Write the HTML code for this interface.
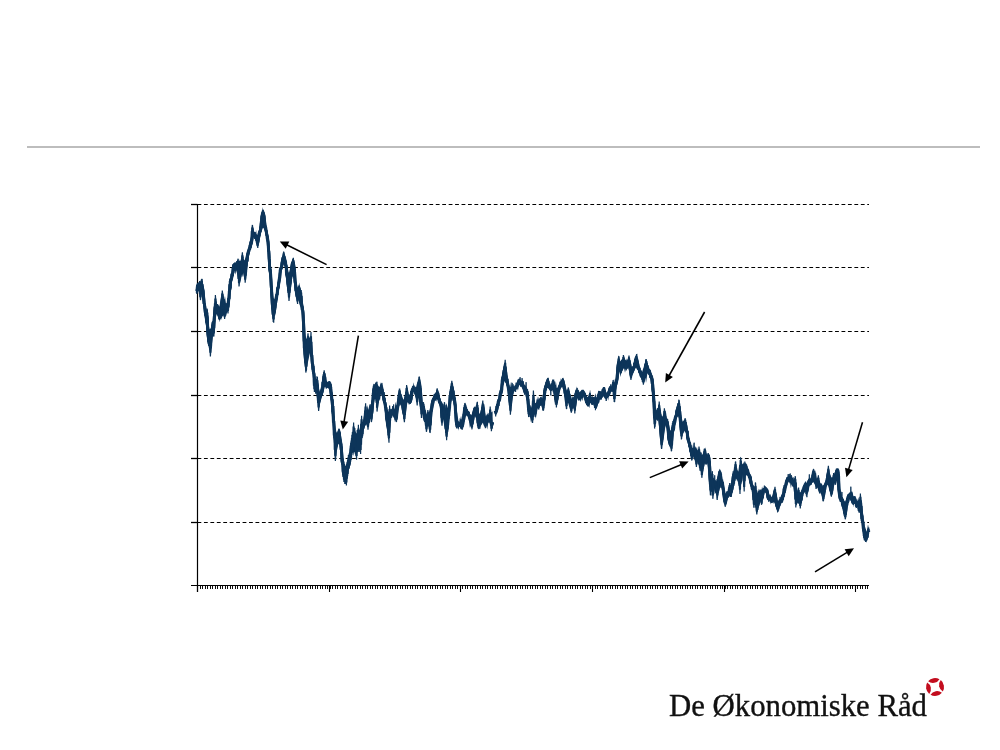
<!DOCTYPE html>
<html lang="da"><head><meta charset="utf-8"><title>De Økonomiske Råd</title>
<style>
html,body{margin:0;padding:0;background:#fff;}
body{width:1000px;height:750px;position:relative;overflow:hidden;font-family:"Liberation Serif",serif;}
.rule{position:absolute;left:27px;top:146px;width:953px;height:2px;background:#bdbdbd;}
.logo{position:absolute;left:669px;top:685.6px;font-size:31px;line-height:40px;color:#111;white-space:nowrap;transform-origin:0 0;transform:scaleX(0.992);-webkit-text-stroke:0.35px #111;}
</style></head><body>
<div class="rule"></div>
<svg width="1000" height="750" viewBox="0 0 1000 750" style="position:absolute;left:0;top:0">
<line x1="197.5" y1="204.5" x2="869.0" y2="204.5" stroke="#000" stroke-width="1.15" stroke-dasharray="3.8 2.64"/>
<line x1="197.5" y1="267.5" x2="869.0" y2="267.5" stroke="#000" stroke-width="1.15" stroke-dasharray="3.8 2.64"/>
<line x1="197.5" y1="331.5" x2="869.0" y2="331.5" stroke="#000" stroke-width="1.15" stroke-dasharray="3.8 2.64"/>
<line x1="197.5" y1="395.5" x2="869.0" y2="395.5" stroke="#000" stroke-width="1.15" stroke-dasharray="3.8 2.64"/>
<line x1="197.5" y1="458.5" x2="869.0" y2="458.5" stroke="#000" stroke-width="1.15" stroke-dasharray="3.8 2.64"/>
<line x1="197.5" y1="522.5" x2="869.0" y2="522.5" stroke="#000" stroke-width="1.15" stroke-dasharray="3.8 2.64"/>
<line x1="197.5" y1="204" x2="197.5" y2="592" stroke="#000" stroke-width="1.2"/>
<line x1="191" y1="585.5" x2="869.0" y2="585.5" stroke="#000" stroke-width="1.05"/>
<line x1="191" y1="204.5" x2="197.5" y2="204.5" stroke="#000" stroke-width="1.3"/>
<line x1="191" y1="267.5" x2="197.5" y2="267.5" stroke="#000" stroke-width="1.3"/>
<line x1="191" y1="331.5" x2="197.5" y2="331.5" stroke="#000" stroke-width="1.3"/>
<line x1="191" y1="395.5" x2="197.5" y2="395.5" stroke="#000" stroke-width="1.3"/>
<line x1="191" y1="458.5" x2="197.5" y2="458.5" stroke="#000" stroke-width="1.3"/>
<line x1="191" y1="522.5" x2="197.5" y2="522.5" stroke="#000" stroke-width="1.3"/>
<path d="M197.5,585.5V589.0M200.5,585.5V589.0M202.5,585.5V589.0M205.5,585.5V589.0M207.5,585.5V589.0M210.5,585.5V589.0M212.5,585.5V589.0M215.5,585.5V589.0M217.5,585.5V589.0M220.5,585.5V589.0M222.5,585.5V589.0M225.5,585.5V589.0M227.5,585.5V589.0M230.5,585.5V589.0M232.5,585.5V589.0M235.5,585.5V589.0M237.5,585.5V589.0M240.5,585.5V589.0M242.5,585.5V589.0M245.5,585.5V589.0M247.5,585.5V589.0M250.5,585.5V589.0M252.5,585.5V589.0M255.5,585.5V589.0M257.5,585.5V589.0M260.5,585.5V589.0M262.5,585.5V589.0M265.5,585.5V589.0M267.5,585.5V589.0M270.5,585.5V589.0M272.5,585.5V589.0M275.5,585.5V589.0M277.5,585.5V589.0M280.5,585.5V589.0M282.5,585.5V589.0M285.5,585.5V589.0M287.5,585.5V589.0M290.5,585.5V589.0M292.5,585.5V589.0M295.5,585.5V589.0M297.5,585.5V589.0M300.5,585.5V589.0M302.5,585.5V589.0M305.5,585.5V589.0M307.5,585.5V589.0M310.5,585.5V589.0M312.5,585.5V589.0M315.5,585.5V589.0M317.5,585.5V589.0M320.5,585.5V589.0M322.5,585.5V589.0M325.5,585.5V589.0M327.5,585.5V589.0M330.5,585.5V589.0M332.5,585.5V589.0M335.5,585.5V589.0M337.5,585.5V589.0M340.5,585.5V589.0M342.5,585.5V589.0M345.5,585.5V589.0M347.5,585.5V589.0M350.5,585.5V589.0M352.5,585.5V589.0M355.5,585.5V589.0M357.5,585.5V589.0M360.5,585.5V589.0M362.5,585.5V589.0M365.5,585.5V589.0M367.5,585.5V589.0M370.5,585.5V589.0M372.5,585.5V589.0M375.5,585.5V589.0M377.5,585.5V589.0M380.5,585.5V589.0M382.5,585.5V589.0M385.5,585.5V589.0M387.5,585.5V589.0M390.5,585.5V589.0M392.5,585.5V589.0M395.5,585.5V589.0M397.5,585.5V589.0M400.5,585.5V589.0M402.5,585.5V589.0M405.5,585.5V589.0M407.5,585.5V589.0M410.5,585.5V589.0M412.5,585.5V589.0M415.5,585.5V589.0M417.5,585.5V589.0M420.5,585.5V589.0M422.5,585.5V589.0M425.5,585.5V589.0M427.5,585.5V589.0M430.5,585.5V589.0M432.5,585.5V589.0M435.5,585.5V589.0M437.5,585.5V589.0M440.5,585.5V589.0M442.5,585.5V589.0M445.5,585.5V589.0M447.5,585.5V589.0M450.5,585.5V589.0M452.5,585.5V589.0M455.5,585.5V589.0M457.5,585.5V589.0M460.5,585.5V589.0M462.5,585.5V589.0M465.5,585.5V589.0M467.5,585.5V589.0M470.5,585.5V589.0M472.5,585.5V589.0M475.5,585.5V589.0M477.5,585.5V589.0M480.5,585.5V589.0M482.5,585.5V589.0M485.5,585.5V589.0M487.5,585.5V589.0M490.5,585.5V589.0M492.5,585.5V589.0M495.5,585.5V589.0M497.5,585.5V589.0M500.5,585.5V589.0M502.5,585.5V589.0M505.5,585.5V589.0M507.5,585.5V589.0M510.5,585.5V589.0M512.5,585.5V589.0M515.5,585.5V589.0M517.5,585.5V589.0M520.5,585.5V589.0M522.5,585.5V589.0M525.5,585.5V589.0M527.5,585.5V589.0M530.5,585.5V589.0M532.5,585.5V589.0M535.5,585.5V589.0M537.5,585.5V589.0M540.5,585.5V589.0M542.5,585.5V589.0M545.5,585.5V589.0M547.5,585.5V589.0M550.5,585.5V589.0M552.5,585.5V589.0M555.5,585.5V589.0M557.5,585.5V589.0M560.5,585.5V589.0M562.5,585.5V589.0M565.5,585.5V589.0M567.5,585.5V589.0M570.5,585.5V589.0M572.5,585.5V589.0M575.5,585.5V589.0M577.5,585.5V589.0M580.5,585.5V589.0M582.5,585.5V589.0M585.5,585.5V589.0M587.5,585.5V589.0M590.5,585.5V589.0M592.5,585.5V589.0M595.5,585.5V589.0M597.5,585.5V589.0M600.5,585.5V589.0M602.5,585.5V589.0M605.5,585.5V589.0M607.5,585.5V589.0M610.5,585.5V589.0M612.5,585.5V589.0M615.5,585.5V589.0M617.5,585.5V589.0M620.5,585.5V589.0M622.5,585.5V589.0M625.5,585.5V589.0M627.5,585.5V589.0M630.5,585.5V589.0M632.5,585.5V589.0M635.5,585.5V589.0M637.5,585.5V589.0M640.5,585.5V589.0M642.5,585.5V589.0M645.5,585.5V589.0M647.5,585.5V589.0M650.5,585.5V589.0M652.5,585.5V589.0M655.5,585.5V589.0M657.5,585.5V589.0M660.5,585.5V589.0M662.5,585.5V589.0M665.5,585.5V589.0M667.5,585.5V589.0M670.5,585.5V589.0M672.5,585.5V589.0M675.5,585.5V589.0M677.5,585.5V589.0M680.5,585.5V589.0M682.5,585.5V589.0M685.5,585.5V589.0M687.5,585.5V589.0M690.5,585.5V589.0M692.5,585.5V589.0M695.5,585.5V589.0M697.5,585.5V589.0M700.5,585.5V589.0M702.5,585.5V589.0M705.5,585.5V589.0M707.5,585.5V589.0M710.5,585.5V589.0M712.5,585.5V589.0M715.5,585.5V589.0M717.5,585.5V589.0M720.5,585.5V589.0M722.5,585.5V589.0M725.5,585.5V589.0M727.5,585.5V589.0M730.5,585.5V589.0M732.5,585.5V589.0M735.5,585.5V589.0M737.5,585.5V589.0M740.5,585.5V589.0M742.5,585.5V589.0M745.5,585.5V589.0M747.5,585.5V589.0M750.5,585.5V589.0M752.5,585.5V589.0M755.5,585.5V589.0M757.5,585.5V589.0M760.5,585.5V589.0M762.5,585.5V589.0M765.5,585.5V589.0M767.5,585.5V589.0M770.5,585.5V589.0M772.5,585.5V589.0M775.5,585.5V589.0M777.5,585.5V589.0M780.5,585.5V589.0M782.5,585.5V589.0M785.5,585.5V589.0M787.5,585.5V589.0M790.5,585.5V589.0M792.5,585.5V589.0M795.5,585.5V589.0M797.5,585.5V589.0M800.5,585.5V589.0M802.5,585.5V589.0M805.5,585.5V589.0M807.5,585.5V589.0M810.5,585.5V589.0M812.5,585.5V589.0M815.5,585.5V589.0M817.5,585.5V589.0M820.5,585.5V589.0M822.5,585.5V589.0M825.5,585.5V589.0M827.5,585.5V589.0M830.5,585.5V589.0M832.5,585.5V589.0M835.5,585.5V589.0M837.5,585.5V589.0M840.5,585.5V589.0M842.5,585.5V589.0M845.5,585.5V589.0M847.5,585.5V589.0M850.5,585.5V589.0M852.5,585.5V589.0M855.5,585.5V589.0M857.5,585.5V589.0M860.5,585.5V589.0M862.5,585.5V589.0M865.5,585.5V589.0M867.5,585.5V589.0" stroke="#000" stroke-width="0.95" fill="none"/>
<line x1="197.5" y1="585.5" x2="197.5" y2="592" stroke="#000" stroke-width="1.1"/>
<line x1="329.5" y1="585.5" x2="329.5" y2="592" stroke="#000" stroke-width="1.1"/>
<line x1="460.5" y1="585.5" x2="460.5" y2="592" stroke="#000" stroke-width="1.1"/>
<line x1="592.5" y1="585.5" x2="592.5" y2="592" stroke="#000" stroke-width="1.1"/>
<line x1="724.5" y1="585.5" x2="724.5" y2="592" stroke="#000" stroke-width="1.1"/>
<line x1="855.5" y1="585.5" x2="855.5" y2="592" stroke="#000" stroke-width="1.1"/>
<path d="M196.8,284.7 L197.0,284.7 L197.2,284.7 L197.4,284.7 L197.6,284.7 L197.8,284.2 L198.0,283.4 L198.2,282.7 L198.4,281.9 L198.6,281.9 L198.8,282.6 L199.0,283.4 L199.2,283.7 L199.4,282.9 L199.6,282.1 L199.8,281.3 L200.0,280.5 L200.2,281.0 L200.4,281.8 L200.6,282.6 L200.8,282.1 L201.0,280.1 L201.2,282.1 L201.4,283.2 L201.6,283.3 L201.8,283.3 L202.0,283.4 L202.2,283.5 L202.4,283.6 L202.6,283.7 L202.8,283.8 L203.0,284.0 L203.2,284.2 L203.4,284.7 L203.6,285.5 L203.8,286.5 L204.0,287.8 L204.2,289.4 L204.4,291.1 L204.6,293.1 L204.8,295.1 L205.0,297.1 L205.2,299.1 L205.4,301.0 L205.6,302.8 L205.8,304.4 L206.0,306.0 L206.2,307.6 L206.4,309.0 L206.6,310.5 L206.8,312.0 L207.0,313.3 L207.2,314.6 L207.4,315.7 L207.6,317.0 L207.8,318.1 L208.0,319.3 L208.2,320.6 L208.4,322.0 L208.6,323.3 L208.8,324.7 L209.0,325.9 L209.2,327.0 L209.4,327.9 L209.6,328.7 L209.8,329.2 L210.0,329.3 L210.2,329.0 L210.4,328.7 L210.6,328.3 L210.8,327.9 L211.0,327.5 L211.2,326.9 L211.4,326.3 L211.6,325.7 L211.8,325.2 L212.0,324.7 L212.2,323.8 L212.4,322.3 L212.6,320.3 L212.8,317.9 L213.0,315.6 L213.2,313.4 L213.4,311.3 L213.6,309.2 L213.8,307.3 L214.0,305.7 L214.2,304.7 L214.4,304.2 L214.6,304.2 L214.8,304.1 L215.0,304.1 L215.2,304.1 L215.4,304.1 L215.6,304.0 L215.8,304.0 L216.0,304.0 L216.2,304.0 L216.4,304.0 L216.6,304.0 L216.8,304.0 L217.0,304.1 L217.2,304.3 L217.4,304.6 L217.6,304.9 L217.8,305.2 L218.0,305.7 L218.2,306.1 L218.4,306.4 L218.6,306.7 L218.8,306.8 L219.0,306.7 L219.2,306.4 L219.4,306.1 L219.6,305.3 L219.8,304.2 L220.0,303.1 L220.2,302.1 L220.4,301.2 L220.6,300.3 L220.8,299.5 L221.0,298.8 L221.2,298.1 L221.4,297.9 L221.6,297.9 L221.8,297.9 L222.0,297.9 L222.2,297.9 L222.4,297.9 L222.6,297.9 L222.8,297.9 L223.0,297.9 L223.2,297.9 L223.4,297.9 L223.6,297.9 L223.8,298.1 L224.0,298.5 L224.2,299.0 L224.4,299.5 L224.6,298.3 L224.8,296.7 L225.0,296.1 L225.2,297.6 L225.4,299.2 L225.6,300.7 L225.8,302.2 L226.0,303.8 L226.2,305.2 L226.4,305.0 L226.6,304.4 L226.8,302.8 L227.0,300.9 L227.2,299.9 L227.4,298.7 L227.6,297.3 L227.8,295.2 L228.0,293.1 L228.2,290.8 L228.4,288.7 L228.6,286.6 L228.8,284.8 L229.0,283.2 L229.2,281.8 L229.4,280.6 L229.6,279.5 L229.8,278.6 L230.0,277.7 L230.2,277.1 L230.4,276.5 L230.6,275.9 L230.8,275.1 L231.0,274.2 L231.2,273.2 L231.4,272.1 L231.6,271.1 L231.8,270.2 L232.0,269.3 L232.2,268.5 L232.4,267.6 L232.6,267.2 L232.8,266.9 L233.0,266.6 L233.2,266.5 L233.4,266.3 L233.6,266.2 L233.8,265.8 L234.0,265.1 L234.2,264.4 L234.4,263.8 L234.6,263.3 L234.8,263.0 L235.0,262.7 L235.2,262.6 L235.4,262.7 L235.6,263.2 L235.8,263.0 L236.0,262.8 L236.2,262.6 L236.4,262.4 L236.6,262.4 L236.8,262.5 L237.0,262.5 L237.2,262.5 L237.4,262.5 L237.6,262.5 L237.8,262.5 L238.0,262.5 L238.2,262.5 L238.4,262.5 L238.6,262.5 L238.8,262.4 L239.0,261.5 L239.2,260.1 L239.4,259.3 L239.6,260.7 L239.8,261.1 L240.0,260.9 L240.2,260.8 L240.4,260.7 L240.6,260.6 L240.8,260.6 L241.0,260.7 L241.2,260.8 L241.4,261.0 L241.6,261.2 L241.8,261.0 L242.0,259.4 L242.2,261.2 L242.4,261.2 L242.6,261.2 L242.8,261.2 L243.0,261.2 L243.2,260.4 L243.4,261.2 L243.6,261.0 L243.8,260.8 L244.0,260.5 L244.2,260.3 L244.4,260.1 L244.6,259.9 L244.8,259.5 L245.0,258.9 L245.2,258.2 L245.4,257.4 L245.6,256.7 L245.8,255.8 L246.0,255.0 L246.2,254.1 L246.4,253.1 L246.6,252.2 L246.8,251.5 L247.0,251.0 L247.2,250.6 L247.4,250.1 L247.6,249.8 L247.8,249.4 L248.0,249.0 L248.2,248.2 L248.4,247.0 L248.6,245.9 L248.8,245.0 L249.0,244.2 L249.2,243.4 L249.4,242.6 L249.6,241.9 L249.8,241.0 L250.0,240.2 L250.2,239.4 L250.4,238.6 L250.6,238.0 L250.8,237.2 L251.0,236.2 L251.2,235.2 L251.4,234.3 L251.6,234.1 L251.8,233.9 L252.0,233.8 L252.2,233.8 L252.4,233.8 L252.6,233.8 L252.8,233.8 L253.0,233.7 L253.2,233.3 L253.4,233.2 L253.6,233.0 L253.8,232.9 L254.0,232.6 L254.2,231.4 L254.4,231.3 L254.6,232.5 L254.8,233.6 L255.0,233.6 L255.2,233.8 L255.4,234.2 L255.6,233.6 L255.8,231.8 L256.0,230.1 L256.2,230.5 L256.4,232.3 L256.6,234.0 L256.8,235.1 L257.0,235.0 L257.2,234.9 L257.4,234.6 L257.6,233.8 L257.8,232.3 L258.0,233.0 L258.2,233.1 L258.4,232.6 L258.6,232.1 L258.8,231.3 L259.0,230.4 L259.2,229.2 L259.4,227.8 L259.6,226.2 L259.8,224.3 L260.0,222.3 L260.2,220.3 L260.4,218.3 L260.6,216.7 L260.8,215.3 L261.0,214.2 L261.2,213.3 L261.4,212.8 L261.6,212.5 L261.8,211.6 L262.0,210.1 L262.2,208.6 L262.4,207.1 L262.6,208.5 L262.8,210.0 L263.0,211.6 L263.2,210.4 L263.4,209.2 L263.6,208.8 L263.8,210.0 L264.0,211.2 L264.2,212.4 L264.4,212.5 L264.6,212.8 L264.8,213.4 L265.0,214.4 L265.2,215.6 L265.4,217.0 L265.6,218.7 L265.8,220.4 L266.0,222.3 L266.2,224.1 L266.4,225.3 L266.6,226.5 L266.8,227.7 L267.0,228.8 L267.2,230.0 L267.4,231.1 L267.6,231.9 L267.8,232.6 L268.0,233.3 L268.2,234.0 L268.4,234.6 L268.6,235.2 L268.8,236.2 L269.0,237.6 L269.2,239.4 L269.4,241.5 L269.6,243.8 L269.8,246.5 L270.0,249.9 L270.2,253.3 L270.4,256.9 L270.6,260.1 L270.8,263.0 L271.0,265.4 L271.2,267.6 L271.4,269.7 L271.6,272.1 L271.8,274.1 L272.0,276.4 L272.2,279.0 L272.4,281.8 L272.6,284.9 L272.8,288.0 L273.0,291.0 L273.2,293.6 L273.4,295.8 L273.6,297.4 L273.8,298.7 L274.0,297.7 L274.2,298.9 L274.4,299.3 L274.6,298.9 L274.8,298.3 L275.0,297.6 L275.2,296.8 L275.4,295.7 L275.6,294.6 L275.8,293.3 L276.0,292.1 L276.2,290.9 L276.4,289.7 L276.6,288.4 L276.8,287.3 L277.0,286.0 L277.2,284.7 L277.4,283.3 L277.6,281.9 L277.8,280.3 L278.0,278.8 L278.2,277.3 L278.4,275.8 L278.6,274.3 L278.8,272.9 L279.0,271.7 L279.2,270.6 L279.4,269.6 L279.6,268.8 L279.8,267.9 L280.0,267.0 L280.2,266.1 L280.4,265.1 L280.6,264.0 L280.8,262.9 L281.0,261.7 L281.2,260.6 L281.4,259.6 L281.6,258.8 L281.8,258.0 L282.0,257.3 L282.2,256.8 L282.4,256.5 L282.6,256.4 L282.8,256.4 L283.0,256.4 L283.2,256.4 L283.4,256.4 L283.6,256.4 L283.8,256.4 L284.0,256.4 L284.2,256.4 L284.4,256.4 L284.6,256.4 L284.8,256.4 L285.0,256.5 L285.2,256.8 L285.4,257.2 L285.6,257.7 L285.8,258.3 L286.0,258.9 L286.2,259.7 L286.4,260.5 L286.6,261.5 L286.8,262.5 L287.0,263.5 L287.2,264.6 L287.4,265.8 L287.6,267.1 L287.8,268.3 L288.0,269.4 L288.2,270.5 L288.4,271.4 L288.6,272.2 L288.8,272.6 L289.0,272.6 L289.2,272.1 L289.4,271.3 L289.6,270.4 L289.8,269.4 L290.0,268.2 L290.2,267.0 L290.4,265.6 L290.6,264.4 L290.8,263.5 L291.0,262.8 L291.2,262.2 L291.4,261.8 L291.6,261.5 L291.8,261.3 L292.0,261.2 L292.2,261.2 L292.4,260.5 L292.6,260.5 L292.8,261.2 L293.0,261.2 L293.2,261.2 L293.4,261.2 L293.6,261.2 L293.8,261.2 L294.0,261.2 L294.2,261.2 L294.4,261.3 L294.6,261.8 L294.8,262.5 L295.0,263.5 L295.2,264.7 L295.4,266.3 L295.6,268.2 L295.8,270.4 L296.0,272.9 L296.2,275.5 L296.4,277.9 L296.6,280.1 L296.8,282.0 L297.0,283.6 L297.2,285.0 L297.4,286.1 L297.6,286.8 L297.8,287.3 L298.0,287.6 L298.2,287.6 L298.4,287.0 L298.6,285.9 L298.8,284.7 L299.0,283.6 L299.2,282.5 L299.4,283.7 L299.6,284.8 L299.8,286.0 L300.0,287.2 L300.2,287.8 L300.4,288.1 L300.6,288.5 L300.8,289.1 L301.0,289.9 L301.2,290.8 L301.4,291.8 L301.6,293.1 L301.8,294.5 L302.0,296.0 L302.2,297.2 L302.4,298.5 L302.6,300.1 L302.8,301.5 L303.0,302.9 L303.2,304.1 L303.4,305.1 L303.6,306.0 L303.8,306.9 L304.0,309.0 L304.2,311.6 L304.4,314.5 L304.6,317.6 L304.8,320.7 L305.0,323.8 L305.2,327.0 L305.4,330.3 L305.6,333.6 L305.8,335.8 L306.0,337.3 L306.2,337.9 L306.4,338.3 L306.6,338.7 L306.8,339.0 L307.0,339.1 L307.2,339.3 L307.4,339.3 L307.6,339.1 L307.8,338.8 L308.0,338.7 L308.2,338.5 L308.4,338.4 L308.6,338.2 L308.8,338.1 L309.0,337.9 L309.2,337.8 L309.4,337.8 L309.6,337.9 L309.8,338.2 L310.0,338.5 L310.2,338.9 L310.4,339.3 L310.6,339.7 L310.8,340.1 L311.0,340.6 L311.2,341.4 L311.4,342.3 L311.6,343.1 L311.8,344.0 L312.0,344.7 L312.2,346.3 L312.4,348.1 L312.6,350.1 L312.8,352.2 L313.0,354.1 L313.2,356.0 L313.4,358.0 L313.6,360.2 L313.8,362.7 L314.0,364.4 L314.2,366.0 L314.4,367.4 L314.6,368.6 L314.8,370.2 L315.0,371.8 L315.2,373.4 L315.4,374.8 L315.6,376.0 L315.8,377.2 L316.0,378.3 L316.2,379.4 L316.4,380.5 L316.6,381.1 L316.8,381.5 L317.0,381.9 L317.2,382.2 L317.4,382.9 L317.6,383.4 L317.8,384.0 L318.0,384.6 L318.2,385.1 L318.4,385.7 L318.6,386.8 L318.8,387.7 L319.0,388.7 L319.2,389.4 L319.4,390.0 L319.6,390.7 L319.8,391.3 L320.0,391.9 L320.2,390.8 L320.4,388.7 L320.6,386.8 L320.8,388.9 L321.0,388.5 L321.2,387.4 L321.4,386.2 L321.6,384.8 L321.8,383.2 L322.0,381.6 L322.2,380.3 L322.4,379.2 L322.6,378.4 L322.8,377.9 L323.0,377.6 L323.2,377.6 L323.4,377.6 L323.6,377.6 L323.8,377.6 L324.0,377.6 L324.2,377.5 L324.4,376.3 L324.6,377.6 L324.8,377.6 L325.0,377.6 L325.2,377.6 L325.4,377.8 L325.6,377.6 L325.8,376.0 L326.0,376.0 L326.2,377.6 L326.4,379.1 L326.6,380.7 L326.8,380.2 L327.0,381.9 L327.2,382.5 L327.4,382.7 L327.6,382.8 L327.8,382.9 L328.0,383.0 L328.2,383.0 L328.4,382.8 L328.6,382.7 L328.8,382.6 L329.0,382.6 L329.2,382.5 L329.4,382.4 L329.6,382.5 L329.8,382.7 L330.0,383.3 L330.2,383.4 L330.4,383.4 L330.6,383.4 L330.8,383.4 L331.0,383.7 L331.2,384.2 L331.4,384.9 L331.6,385.9 L331.8,387.0 L332.0,388.3 L332.2,389.8 L332.4,391.4 L332.6,393.3 L332.8,395.1 L333.0,397.0 L333.2,398.9 L333.4,400.8 L333.6,402.8 L333.8,404.9 L334.0,407.1 L334.2,409.5 L334.4,411.9 L334.6,414.5 L334.8,417.0 L335.0,419.6 L335.2,422.2 L335.4,424.5 L335.6,426.5 L335.8,428.3 L336.0,429.7 L336.2,430.9 L336.4,431.7 L336.6,432.3 L336.8,432.5 L337.0,432.5 L337.2,432.5 L337.4,432.5 L337.6,432.5 L337.8,432.5 L338.0,432.5 L338.2,432.5 L338.4,432.5 L338.6,432.5 L338.8,432.5 L339.0,432.5 L339.2,432.5 L339.4,432.5 L339.6,432.5 L339.8,432.5 L340.0,432.5 L340.2,432.7 L340.4,433.0 L340.6,433.6 L340.8,434.5 L341.0,435.5 L341.2,436.6 L341.4,437.9 L341.6,439.4 L341.8,441.0 L342.0,442.6 L342.2,444.2 L342.4,445.9 L342.6,447.8 L342.8,449.7 L343.0,451.6 L343.2,453.5 L343.4,455.3 L343.6,457.2 L343.8,458.9 L344.0,460.7 L344.2,462.2 L344.4,463.3 L344.6,464.3 L344.8,465.1 L345.0,465.7 L345.2,466.0 L345.4,466.1 L345.6,465.3 L345.8,464.6 L346.0,464.8 L346.2,465.6 L346.4,465.6 L346.6,464.9 L346.8,464.4 L347.0,464.0 L347.2,463.5 L347.4,462.9 L347.6,462.2 L347.8,461.3 L348.0,460.1 L348.2,459.0 L348.4,458.1 L348.6,457.4 L348.8,456.4 L349.0,455.3 L349.2,453.9 L349.4,452.6 L349.6,451.4 L349.8,450.2 L350.0,449.0 L350.2,447.5 L350.4,445.9 L350.6,444.5 L350.8,443.2 L351.0,442.3 L351.2,441.3 L351.4,440.5 L351.6,439.3 L351.8,438.2 L352.0,437.4 L352.2,436.7 L352.4,436.1 L352.6,435.5 L352.8,435.0 L353.0,434.5 L353.2,434.0 L353.4,434.0 L353.6,434.0 L353.8,434.0 L354.0,433.8 L354.2,433.8 L354.4,433.3 L354.6,431.8 L354.8,430.3 L355.0,431.4 L355.2,432.9 L355.4,433.2 L355.6,432.4 L355.8,432.8 L356.0,433.5 L356.2,434.0 L356.4,434.0 L356.6,433.7 L356.8,432.7 L357.0,432.7 L357.2,433.7 L357.4,434.7 L357.6,435.1 L357.8,435.3 L358.0,435.3 L358.2,435.1 L358.4,434.7 L358.6,434.1 L358.8,433.4 L359.0,432.8 L359.2,432.2 L359.4,431.5 L359.6,430.6 L359.8,429.6 L360.0,428.8 L360.2,428.4 L360.4,428.1 L360.6,427.7 L360.8,427.1 L361.0,426.4 L361.2,425.7 L361.4,425.2 L361.6,425.0 L361.8,424.8 L362.0,424.2 L362.2,423.6 L362.4,423.0 L362.6,422.6 L362.8,421.7 L363.0,420.7 L363.2,419.5 L363.4,418.4 L363.6,417.2 L363.8,416.3 L364.0,415.2 L364.2,414.2 L364.4,413.3 L364.6,412.9 L364.8,412.6 L365.0,412.6 L365.2,412.6 L365.4,412.6 L365.6,411.6 L365.8,410.8 L366.0,411.9 L366.2,412.4 L366.4,411.9 L366.6,410.5 L366.8,409.0 L367.0,407.6 L367.2,406.2 L367.4,404.9 L367.6,406.3 L367.8,407.7 L368.0,409.1 L368.2,409.3 L368.4,409.5 L368.6,409.8 L368.8,410.1 L369.0,410.4 L369.2,410.5 L369.4,409.8 L369.6,408.2 L369.8,409.9 L370.0,409.5 L370.2,408.9 L370.4,408.0 L370.6,407.1 L370.8,406.0 L371.0,404.5 L371.2,402.8 L371.4,400.8 L371.6,398.6 L371.8,396.4 L372.0,394.4 L372.2,392.5 L372.4,390.9 L372.6,389.6 L372.8,388.7 L373.0,388.0 L373.2,387.6 L373.4,387.4 L373.6,387.2 L373.8,387.0 L374.0,386.7 L374.2,386.5 L374.4,386.2 L374.6,386.0 L374.8,385.8 L375.0,385.7 L375.2,385.6 L375.4,385.5 L375.6,385.1 L375.8,383.7 L376.0,383.6 L376.2,384.9 L376.4,385.3 L376.6,383.9 L376.8,384.5 L377.0,385.9 L377.2,386.5 L377.4,385.7 L377.6,384.9 L377.8,384.4 L378.0,385.2 L378.2,386.0 L378.4,386.6 L378.6,385.6 L378.8,385.8 L379.0,386.7 L379.2,386.7 L379.4,386.8 L379.6,386.9 L379.8,386.2 L380.0,385.2 L380.2,384.2 L380.4,383.3 L380.6,382.3 L380.8,383.2 L381.0,384.2 L381.2,385.2 L381.4,386.1 L381.6,387.1 L381.8,387.2 L382.0,387.2 L382.2,387.2 L382.4,387.2 L382.6,387.3 L382.8,387.6 L383.0,388.0 L383.2,388.5 L383.4,389.2 L383.6,390.0 L383.8,390.9 L384.0,392.0 L384.2,393.2 L384.4,394.3 L384.6,395.4 L384.8,396.4 L385.0,397.4 L385.2,398.3 L385.4,399.2 L385.6,400.0 L385.8,400.9 L386.0,401.8 L386.2,402.7 L386.4,403.6 L386.6,404.5 L386.8,405.4 L387.0,406.3 L387.2,407.2 L387.4,408.1 L387.6,408.9 L387.8,409.7 L388.0,410.4 L388.2,411.2 L388.4,411.8 L388.6,412.1 L388.8,410.9 L389.0,410.3 L389.2,411.6 L389.4,412.6 L389.6,412.3 L389.8,411.9 L390.0,411.4 L390.2,411.0 L390.4,410.6 L390.6,410.3 L390.8,410.1 L391.0,409.6 L391.2,409.3 L391.4,409.1 L391.6,409.0 L391.8,409.6 L392.0,410.0 L392.2,410.1 L392.4,409.3 L392.6,408.0 L392.8,406.8 L393.0,405.6 L393.2,404.4 L393.4,403.7 L393.6,404.9 L393.8,406.1 L394.0,407.3 L394.2,408.5 L394.4,409.7 L394.6,409.2 L394.8,407.7 L395.0,406.2 L395.2,404.7 L395.4,403.2 L395.6,401.7 L395.8,402.8 L396.0,404.3 L396.2,405.8 L396.4,405.4 L396.6,403.9 L396.8,402.2 L397.0,400.6 L397.2,399.1 L397.4,397.7 L397.6,396.4 L397.8,395.3 L398.0,394.5 L398.2,394.0 L398.4,393.7 L398.6,393.7 L398.8,393.7 L399.0,393.7 L399.2,393.7 L399.4,393.7 L399.6,393.7 L399.8,393.7 L400.0,393.7 L400.2,393.7 L400.4,393.7 L400.6,393.7 L400.8,393.8 L401.0,393.9 L401.2,394.1 L401.4,394.4 L401.6,394.8 L401.8,395.3 L402.0,395.9 L402.2,396.5 L402.4,397.2 L402.6,397.9 L402.8,398.4 L403.0,398.9 L403.2,399.3 L403.4,399.6 L403.6,399.5 L403.8,399.0 L404.0,398.2 L404.2,397.4 L404.4,396.6 L404.6,395.8 L404.8,395.0 L405.0,394.2 L405.2,393.4 L405.4,392.9 L405.6,392.8 L405.8,392.8 L406.0,392.8 L406.2,392.8 L406.4,392.8 L406.6,392.8 L406.8,392.8 L407.0,392.8 L407.2,392.8 L407.4,392.8 L407.6,392.8 L407.8,392.8 L408.0,393.1 L408.2,393.4 L408.4,393.8 L408.6,394.1 L408.8,394.4 L409.0,394.8 L409.2,394.6 L409.4,394.1 L409.6,395.0 L409.8,394.3 L410.0,393.6 L410.2,392.2 L410.4,390.6 L410.6,390.9 L410.8,390.8 L411.0,390.1 L411.2,389.6 L411.4,389.4 L411.6,389.3 L411.8,389.2 L412.0,389.1 L412.2,389.0 L412.4,388.9 L412.6,388.8 L412.8,387.5 L413.0,386.1 L413.2,384.7 L413.4,383.3 L413.6,382.2 L413.8,383.6 L414.0,385.0 L414.2,386.5 L414.4,387.9 L414.6,388.7 L414.8,388.7 L415.0,388.6 L415.2,388.6 L415.4,388.4 L415.6,387.1 L415.8,387.9 L416.0,387.4 L416.2,386.7 L416.4,385.9 L416.6,385.1 L416.8,383.9 L417.0,383.6 L417.2,382.9 L417.4,382.2 L417.6,381.8 L417.8,381.5 L418.0,381.4 L418.2,380.7 L418.4,381.4 L418.6,381.4 L418.8,381.4 L419.0,381.4 L419.2,381.4 L419.4,381.4 L419.6,381.4 L419.8,381.4 L420.0,381.4 L420.2,381.4 L420.4,381.4 L420.6,381.7 L420.8,382.2 L421.0,383.0 L421.2,384.1 L421.4,385.9 L421.6,388.3 L421.8,390.8 L422.0,393.3 L422.2,396.0 L422.4,398.4 L422.6,400.6 L422.8,402.7 L423.0,404.5 L423.2,405.4 L423.4,406.0 L423.6,406.3 L423.8,406.6 L424.0,406.8 L424.2,407.1 L424.4,407.4 L424.6,407.7 L424.8,408.0 L425.0,407.3 L425.2,408.7 L425.4,409.8 L425.6,410.5 L425.8,409.4 L426.0,410.8 L426.2,412.8 L426.4,413.3 L426.6,413.9 L426.8,414.3 L427.0,414.6 L427.2,414.8 L427.4,415.0 L427.6,415.1 L427.8,415.0 L428.0,414.8 L428.2,414.5 L428.4,414.3 L428.6,413.9 L428.8,413.3 L429.0,412.6 L429.2,411.8 L429.4,410.8 L429.6,409.8 L429.8,408.8 L430.0,407.7 L430.2,406.5 L430.4,405.3 L430.6,404.1 L430.8,403.0 L431.0,401.9 L431.2,401.1 L431.4,400.3 L431.6,399.7 L431.8,399.2 L432.0,398.8 L432.2,398.6 L432.4,398.5 L432.6,398.4 L432.8,397.9 L433.0,396.8 L433.2,395.8 L433.4,395.0 L433.6,394.3 L433.8,394.2 L434.0,394.1 L434.2,394.0 L434.4,393.8 L434.6,393.6 L434.8,393.5 L435.0,393.6 L435.2,393.7 L435.4,392.5 L435.6,392.8 L435.8,392.9 L436.0,392.8 L436.2,392.8 L436.4,392.8 L436.6,392.8 L436.8,392.8 L437.0,392.8 L437.2,392.8 L437.4,392.8 L437.6,392.8 L437.8,392.8 L438.0,392.7 L438.2,392.8 L438.4,392.9 L438.6,393.1 L438.8,393.4 L439.0,393.0 L439.2,392.6 L439.4,393.2 L439.6,394.5 L439.8,395.8 L440.0,397.1 L440.2,398.3 L440.4,399.5 L440.6,400.1 L440.8,400.7 L441.0,401.1 L441.2,401.4 L441.4,401.6 L441.6,401.8 L441.8,402.0 L442.0,402.2 L442.2,402.4 L442.4,402.7 L442.6,403.1 L442.8,403.7 L443.0,404.2 L443.2,404.9 L443.4,405.6 L443.6,406.2 L443.8,406.8 L444.0,407.4 L444.2,407.9 L444.4,408.2 L444.6,408.3 L444.8,408.5 L445.0,408.5 L445.2,408.5 L445.4,407.6 L445.6,405.9 L445.8,404.2 L446.0,405.0 L446.2,404.1 L446.4,403.2 L446.6,403.7 L446.8,404.6 L447.0,405.5 L447.2,406.4 L447.4,407.3 L447.6,408.2 L447.8,407.2 L448.0,405.8 L448.2,404.2 L448.4,402.3 L448.6,400.4 L448.8,398.4 L449.0,396.3 L449.2,394.3 L449.4,392.5 L449.6,390.9 L449.8,389.5 L450.0,388.4 L450.2,387.5 L450.4,386.9 L450.6,386.5 L450.8,386.4 L451.0,386.4 L451.2,386.4 L451.4,386.4 L451.6,386.4 L451.8,386.4 L452.0,386.4 L452.2,386.4 L452.4,386.4 L452.6,386.4 L452.8,386.4 L453.0,386.4 L453.2,386.6 L453.4,387.0 L453.6,387.7 L453.8,388.5 L454.0,389.5 L454.2,390.7 L454.4,391.8 L454.6,393.0 L454.8,394.3 L455.0,395.4 L455.2,396.4 L455.4,397.3 L455.6,397.9 L455.8,398.5 L456.0,399.4 L456.2,400.8 L456.4,402.7 L456.6,405.0 L456.8,407.6 L457.0,410.2 L457.2,412.8 L457.4,414.4 L457.6,415.7 L457.8,416.7 L458.0,418.1 L458.2,419.5 L458.4,420.7 L458.6,421.6 L458.8,422.3 L459.0,422.8 L459.2,422.1 L459.4,420.8 L459.6,419.4 L459.8,418.1 L460.0,418.1 L460.2,419.5 L460.4,419.1 L460.6,418.0 L460.8,416.9 L461.0,415.8 L461.2,416.4 L461.4,417.5 L461.6,418.6 L461.8,419.7 L462.0,419.1 L462.2,417.8 L462.4,416.5 L462.6,415.4 L462.8,413.7 L463.0,412.0 L463.2,410.3 L463.4,409.0 L463.6,408.1 L463.8,407.5 L464.0,407.3 L464.2,407.3 L464.4,407.3 L464.6,407.3 L464.8,407.3 L465.0,407.3 L465.2,407.3 L465.4,407.3 L465.6,407.3 L465.8,407.3 L466.0,407.3 L466.2,407.3 L466.4,406.5 L466.6,405.2 L466.8,405.7 L467.0,406.9 L467.2,408.2 L467.4,409.4 L467.6,409.6 L467.8,409.8 L468.0,410.1 L468.2,410.5 L468.4,410.9 L468.6,411.3 L468.8,411.9 L469.0,412.6 L469.2,413.4 L469.4,414.3 L469.6,415.1 L469.8,415.3 L470.0,415.4 L470.2,415.4 L470.4,415.4 L470.6,415.4 L470.8,415.4 L471.0,415.3 L471.2,415.2 L471.4,414.9 L471.6,414.5 L471.8,414.0 L472.0,413.5 L472.2,412.9 L472.4,412.4 L472.6,411.9 L472.8,411.4 L473.0,411.0 L473.2,410.6 L473.4,410.4 L473.6,410.1 L473.8,410.0 L474.0,409.8 L474.2,409.5 L474.4,409.2 L474.6,408.9 L474.8,408.6 L475.0,408.3 L475.2,408.1 L475.4,407.9 L475.6,407.6 L475.8,407.7 L476.0,407.7 L476.2,407.7 L476.4,407.7 L476.6,407.8 L476.8,408.1 L477.0,408.4 L477.2,408.7 L477.4,409.0 L477.6,409.4 L477.8,409.7 L478.0,410.0 L478.2,410.3 L478.4,411.0 L478.6,411.4 L478.8,412.1 L479.0,412.6 L479.2,413.0 L479.4,413.5 L479.6,413.8 L479.8,413.7 L480.0,413.3 L480.2,412.6 L480.4,411.8 L480.6,411.0 L480.8,410.2 L481.0,409.4 L481.2,408.6 L481.4,407.5 L481.6,406.1 L481.8,406.5 L482.0,407.8 L482.2,407.8 L482.4,407.8 L482.6,407.8 L482.8,407.6 L483.0,407.0 L483.2,407.8 L483.4,407.8 L483.6,407.8 L483.8,407.8 L484.0,406.0 L484.2,404.1 L484.4,404.1 L484.6,406.0 L484.8,407.9 L485.0,409.8 L485.2,411.7 L485.4,413.6 L485.6,414.9 L485.8,415.9 L486.0,416.6 L486.2,416.9 L486.4,417.1 L486.6,417.2 L486.8,417.1 L487.0,417.0 L487.2,416.7 L487.4,415.7 L487.6,413.9 L487.8,412.0 L488.0,413.6 L488.2,415.2 L488.4,414.9 L488.6,414.9 L488.8,414.8 L489.0,414.8 L489.2,414.8 L489.4,414.8 L489.6,414.8 L489.8,414.6 L490.0,414.3 L490.2,412.9 L490.4,414.1 L490.6,413.7 L490.8,413.3 L491.0,412.9 L491.2,412.5 L491.4,412.0 L491.6,411.8 L491.8,411.9 L492.0,411.8 L492.2,411.5 L492.4,411.6 L492.6,411.7 L492.6,427.0 L492.4,427.1 L492.2,426.9 L492.0,426.9 L491.8,426.9 L491.6,426.7 L491.4,426.5 L491.2,426.2 L491.0,426.0 L490.8,425.9 L490.6,425.7 L490.4,425.3 L490.2,424.8 L490.0,424.2 L489.8,423.7 L489.6,423.1 L489.4,423.0 L489.2,421.9 L489.0,421.4 L488.8,421.0 L488.6,421.4 L488.4,422.6 L488.2,423.7 L488.0,424.9 L487.8,426.1 L487.6,427.2 L487.4,428.4 L487.2,429.6 L487.0,428.6 L486.8,427.4 L486.6,426.2 L486.4,425.1 L486.2,423.9 L486.0,423.6 L485.8,423.6 L485.6,423.6 L485.4,423.6 L485.2,423.6 L485.0,423.6 L484.8,423.6 L484.6,423.6 L484.4,423.6 L484.2,423.6 L484.0,423.7 L483.8,424.9 L483.6,426.1 L483.4,425.0 L483.2,423.8 L483.0,422.7 L482.8,422.7 L482.6,423.5 L482.4,423.9 L482.2,423.1 L482.0,423.4 L481.8,423.7 L481.6,424.0 L481.4,424.4 L481.2,424.8 L481.0,424.9 L480.8,425.1 L480.6,425.2 L480.4,425.3 L480.2,425.4 L480.0,425.5 L479.8,425.5 L479.6,425.8 L479.4,427.4 L479.2,427.0 L479.0,425.5 L478.8,425.5 L478.6,425.5 L478.4,425.5 L478.2,425.4 L478.0,425.3 L477.8,425.2 L477.6,425.1 L477.4,425.0 L477.2,424.4 L477.0,423.5 L476.8,422.3 L476.6,421.2 L476.4,420.0 L476.2,418.9 L476.0,417.8 L475.8,416.7 L475.6,415.7 L475.4,415.5 L475.2,415.5 L475.0,416.0 L474.8,416.8 L474.6,417.9 L474.4,419.0 L474.2,420.1 L474.0,421.2 L473.8,422.2 L473.6,423.0 L473.4,423.8 L473.2,424.3 L473.0,424.6 L472.8,424.6 L472.6,424.6 L472.4,424.6 L472.2,424.6 L472.0,424.6 L471.8,424.6 L471.6,424.6 L471.4,424.8 L471.2,425.9 L471.0,427.1 L470.8,427.4 L470.6,426.3 L470.4,425.2 L470.2,426.5 L470.0,428.0 L469.8,427.3 L469.6,425.8 L469.4,424.3 L469.2,422.8 L469.0,421.2 L468.8,420.7 L468.6,420.1 L468.4,419.5 L468.2,418.8 L468.0,418.0 L467.8,417.2 L467.6,416.5 L467.4,415.8 L467.2,415.6 L467.0,415.6 L466.8,415.6 L466.6,415.6 L466.4,415.6 L466.2,415.6 L466.0,416.0 L465.8,416.8 L465.6,417.6 L465.4,418.5 L465.2,419.5 L465.0,420.6 L464.8,421.8 L464.6,423.0 L464.4,424.2 L464.2,425.1 L464.0,425.7 L463.8,426.1 L463.6,426.5 L463.4,426.7 L463.2,426.9 L463.0,427.0 L462.8,427.0 L462.6,427.0 L462.4,427.7 L462.2,428.1 L462.0,428.3 L461.8,428.4 L461.6,428.3 L461.4,428.0 L461.2,427.5 L461.0,427.2 L460.8,427.0 L460.6,427.0 L460.4,426.9 L460.2,426.9 L460.0,426.8 L459.8,426.8 L459.6,426.8 L459.4,426.8 L459.2,427.1 L459.0,429.0 L458.8,430.8 L458.6,429.6 L458.4,428.3 L458.2,428.7 L458.0,429.0 L457.8,428.7 L457.6,427.7 L457.4,426.4 L457.2,425.5 L457.0,425.5 L456.8,425.4 L456.6,425.3 L456.4,425.2 L456.2,425.1 L456.0,425.0 L455.8,424.9 L455.6,424.6 L455.4,423.8 L455.2,422.6 L455.0,420.8 L454.8,418.6 L454.6,416.0 L454.4,413.3 L454.2,410.5 L454.0,407.6 L453.8,405.0 L453.6,402.7 L453.4,400.9 L453.2,399.6 L453.0,398.8 L452.8,398.6 L452.6,399.8 L452.4,400.9 L452.2,399.7 L452.0,398.9 L451.8,399.6 L451.6,400.5 L451.4,401.6 L451.2,402.9 L451.0,404.4 L450.8,406.0 L450.6,407.7 L450.4,409.4 L450.2,411.0 L450.0,412.8 L449.8,414.8 L449.6,416.9 L449.4,419.2 L449.2,421.4 L449.0,423.4 L448.8,425.2 L448.6,426.8 L448.4,428.3 L448.2,429.3 L448.0,430.1 L447.8,430.4 L447.6,430.4 L447.4,430.4 L447.2,430.4 L447.0,430.4 L446.8,430.4 L446.6,430.4 L446.4,430.4 L446.2,430.4 L446.0,430.4 L445.8,430.4 L445.6,430.4 L445.4,430.4 L445.2,430.0 L445.0,429.4 L444.8,428.7 L444.6,427.9 L444.4,426.9 L444.2,425.7 L444.0,424.4 L443.8,423.1 L443.6,421.6 L443.4,420.6 L443.2,419.6 L443.0,418.9 L442.8,418.2 L442.6,417.7 L442.4,417.4 L442.2,417.6 L442.0,417.1 L441.8,417.0 L441.6,417.0 L441.4,417.0 L441.2,417.0 L441.0,416.3 L440.8,414.7 L440.6,413.2 L440.4,411.6 L440.2,410.3 L440.0,409.1 L439.8,407.8 L439.6,406.5 L439.4,405.2 L439.2,404.1 L439.0,402.9 L438.8,401.8 L438.6,401.6 L438.4,401.4 L438.2,401.1 L438.0,400.7 L437.8,400.3 L437.6,400.0 L437.4,399.7 L437.2,399.4 L437.0,399.1 L436.8,399.2 L436.6,400.4 L436.4,401.6 L436.2,401.4 L436.0,400.2 L435.8,399.1 L435.6,398.6 L435.4,398.6 L435.2,398.8 L435.0,399.5 L434.8,400.2 L434.6,401.0 L434.4,401.8 L434.2,402.9 L434.0,404.0 L433.8,405.2 L433.6,406.3 L433.4,407.0 L433.2,407.8 L433.0,408.8 L432.8,409.9 L432.6,411.8 L432.4,413.9 L432.2,416.0 L432.0,417.9 L431.8,419.6 L431.6,421.2 L431.4,422.4 L431.2,423.2 L431.0,423.5 L430.8,423.5 L430.6,423.5 L430.4,423.5 L430.2,423.5 L430.0,423.6 L429.8,423.8 L429.6,424.1 L429.4,424.6 L429.2,425.1 L429.0,425.6 L428.8,426.1 L428.6,426.6 L428.4,426.9 L428.2,427.4 L428.0,427.0 L427.8,426.7 L427.6,426.1 L427.4,425.5 L427.2,424.9 L427.0,424.3 L426.8,423.6 L426.6,423.2 L426.4,422.9 L426.2,422.6 L426.0,422.5 L425.8,422.5 L425.6,422.5 L425.4,422.5 L425.2,422.4 L425.0,422.3 L424.8,422.1 L424.6,421.6 L424.4,421.2 L424.2,420.7 L424.0,420.1 L423.8,419.5 L423.6,418.9 L423.4,418.1 L423.2,417.4 L423.0,416.5 L422.8,415.7 L422.6,414.8 L422.4,414.0 L422.2,413.0 L422.0,412.2 L421.8,411.4 L421.6,410.7 L421.4,410.1 L421.2,409.7 L421.0,409.4 L420.8,409.3 L420.6,409.2 L420.4,408.8 L420.2,408.2 L420.0,407.5 L419.8,406.6 L419.6,405.7 L419.4,404.5 L419.2,403.2 L419.0,401.9 L418.8,400.5 L418.6,399.5 L418.4,398.7 L418.2,398.0 L418.0,397.5 L417.8,397.1 L417.6,398.6 L417.4,398.3 L417.2,396.9 L417.0,396.8 L416.8,396.8 L416.6,396.8 L416.4,396.8 L416.2,396.8 L416.0,396.8 L415.8,396.8 L415.6,396.5 L415.4,396.1 L415.2,395.6 L415.0,395.0 L414.8,394.4 L414.6,393.7 L414.4,393.7 L414.2,392.4 L414.0,391.8 L413.8,391.8 L413.6,392.3 L413.4,393.3 L413.2,394.4 L413.0,395.7 L412.8,396.7 L412.6,397.4 L412.4,398.7 L412.2,399.9 L412.0,400.9 L411.8,401.6 L411.6,402.1 L411.4,402.3 L411.2,402.3 L411.0,402.3 L410.8,402.3 L410.6,402.3 L410.4,402.3 L410.2,402.3 L410.0,402.3 L409.8,402.3 L409.6,402.3 L409.4,402.3 L409.2,402.3 L409.0,402.3 L408.8,402.2 L408.6,402.2 L408.4,402.5 L408.2,403.4 L408.0,402.1 L407.8,402.3 L407.6,402.2 L407.4,402.7 L407.2,403.6 L407.0,405.0 L406.8,406.4 L406.6,407.8 L406.4,409.2 L406.2,410.6 L406.0,412.0 L405.8,413.2 L405.6,414.1 L405.4,414.5 L405.2,414.5 L405.0,414.5 L404.8,414.5 L404.6,415.9 L404.4,417.7 L404.2,419.5 L404.0,417.8 L403.8,416.0 L403.6,414.5 L403.4,414.5 L403.2,414.5 L403.0,414.5 L402.8,414.2 L402.6,413.7 L402.4,413.0 L402.2,412.1 L402.0,411.1 L401.8,409.8 L401.6,408.4 L401.4,407.0 L401.2,405.7 L401.0,404.6 L400.8,404.6 L400.6,405.3 L400.4,406.1 L400.2,405.5 L400.0,404.7 L399.8,404.0 L399.6,404.4 L399.4,405.2 L399.2,406.0 L399.0,407.2 L398.8,408.7 L398.6,410.4 L398.4,411.8 L398.2,413.0 L398.0,414.2 L397.8,415.3 L397.6,416.3 L397.4,417.2 L397.2,417.8 L397.0,418.1 L396.8,418.1 L396.6,418.1 L396.4,418.1 L396.2,418.1 L396.0,418.1 L395.8,418.1 L395.6,419.3 L395.4,420.5 L395.2,421.8 L395.0,422.5 L394.8,421.2 L394.6,420.0 L394.4,418.8 L394.2,417.7 L394.0,417.5 L393.8,417.2 L393.6,416.9 L393.4,416.6 L393.2,416.3 L393.0,415.9 L392.8,415.5 L392.6,415.3 L392.4,415.3 L392.2,417.1 L392.0,416.1 L391.8,415.7 L391.6,416.5 L391.4,418.1 L391.2,419.8 L391.0,421.4 L390.8,422.7 L390.6,424.4 L390.4,426.1 L390.2,427.6 L390.0,429.0 L389.8,430.4 L389.6,430.4 L389.4,430.4 L389.2,430.4 L389.0,430.4 L388.8,430.4 L388.6,430.4 L388.4,430.4 L388.2,430.4 L388.0,430.4 L387.8,430.4 L387.6,430.4 L387.4,430.4 L387.2,430.1 L387.0,429.5 L386.8,428.6 L386.6,427.4 L386.4,426.1 L386.2,424.6 L386.0,422.9 L385.8,421.0 L385.6,418.9 L385.4,417.0 L385.2,415.1 L385.0,413.4 L384.8,411.9 L384.6,410.4 L384.4,408.9 L384.2,407.4 L384.0,406.1 L383.8,404.9 L383.6,403.8 L383.4,402.7 L383.2,401.8 L383.0,400.9 L382.8,400.0 L382.6,399.2 L382.4,398.3 L382.2,397.5 L382.0,396.7 L381.8,396.0 L381.6,395.3 L381.4,396.4 L381.2,394.8 L381.0,394.0 L380.8,394.3 L380.6,395.8 L380.4,397.4 L380.2,399.0 L380.0,400.6 L379.8,400.3 L379.6,398.7 L379.4,399.5 L379.2,401.2 L379.0,399.9 L378.8,400.1 L378.6,400.1 L378.4,400.1 L378.2,400.1 L378.0,400.1 L377.8,400.1 L377.6,400.1 L377.4,400.1 L377.2,400.1 L377.0,400.1 L376.8,400.1 L376.6,400.1 L376.4,399.7 L376.2,399.3 L376.0,398.8 L375.8,399.1 L375.6,400.2 L375.4,401.4 L375.2,401.3 L375.0,400.1 L374.8,398.9 L374.6,399.6 L374.4,401.3 L374.2,403.3 L374.0,405.4 L373.8,407.4 L373.6,409.5 L373.4,411.2 L373.2,412.7 L373.0,413.7 L372.8,414.4 L372.6,414.8 L372.4,414.8 L372.2,414.8 L372.0,414.9 L371.8,415.2 L371.6,415.6 L371.4,415.9 L371.2,416.5 L371.0,417.1 L370.8,418.0 L370.6,419.1 L370.4,420.0 L370.2,420.6 L370.0,421.2 L369.8,421.8 L369.6,422.4 L369.4,422.8 L369.2,423.1 L369.0,423.3 L368.8,424.2 L368.6,425.6 L368.4,426.8 L368.2,425.4 L368.0,424.0 L367.8,423.3 L367.6,423.3 L367.4,423.3 L367.2,423.4 L367.0,423.5 L366.8,424.4 L366.6,425.7 L366.4,425.8 L366.2,424.7 L366.0,424.9 L365.8,425.0 L365.6,425.4 L365.4,425.8 L365.2,426.1 L365.0,426.3 L364.8,426.4 L364.6,426.5 L364.4,426.8 L364.2,427.4 L364.0,428.0 L363.8,428.5 L363.6,429.2 L363.4,430.4 L363.2,431.5 L363.0,432.7 L362.8,433.8 L362.6,435.0 L362.4,436.3 L362.2,437.9 L362.0,439.4 L361.8,440.7 L361.6,441.5 L361.4,442.2 L361.2,443.0 L361.0,443.8 L360.8,444.5 L360.6,444.8 L360.4,444.9 L360.2,445.0 L360.0,445.2 L359.8,445.5 L359.6,446.1 L359.4,446.9 L359.2,447.7 L359.0,448.6 L358.8,449.3 L358.6,450.1 L358.4,450.8 L358.2,451.5 L358.0,451.9 L357.8,453.1 L357.6,452.6 L357.4,452.2 L357.2,452.0 L357.0,452.0 L356.8,452.0 L356.6,452.0 L356.4,452.0 L356.2,452.0 L356.0,452.0 L355.8,452.0 L355.6,452.0 L355.4,452.0 L355.2,452.0 L355.0,452.2 L354.8,452.2 L354.6,452.0 L354.4,452.3 L354.2,453.5 L354.0,454.7 L353.8,455.9 L353.6,455.3 L353.4,454.1 L353.2,452.9 L353.0,451.7 L352.8,450.5 L352.6,451.1 L352.4,452.1 L352.2,453.4 L352.0,454.9 L351.8,456.2 L351.6,457.4 L351.4,458.5 L351.2,459.4 L351.0,460.5 L350.8,461.6 L350.6,462.6 L350.4,463.5 L350.2,464.2 L350.0,464.9 L349.8,465.6 L349.6,466.4 L349.4,467.2 L349.2,467.8 L349.0,468.7 L348.8,469.9 L348.6,471.0 L348.4,472.0 L348.2,473.0 L348.0,474.0 L347.8,474.9 L347.6,475.7 L347.4,476.5 L347.2,477.0 L347.0,477.6 L346.8,477.2 L346.6,477.3 L346.4,477.4 L346.2,477.5 L346.0,477.6 L345.8,477.7 L345.6,477.8 L345.4,477.7 L345.2,477.6 L345.0,477.5 L344.8,477.4 L344.6,477.2 L344.4,476.9 L344.2,476.6 L344.0,476.3 L343.8,475.9 L343.6,475.4 L343.4,475.0 L343.2,474.4 L343.0,473.6 L342.8,472.6 L342.6,471.7 L342.4,470.4 L342.2,469.0 L342.0,467.6 L341.8,466.2 L341.6,464.5 L341.4,462.8 L341.2,461.1 L341.0,459.2 L340.8,457.2 L340.6,455.3 L340.4,453.5 L340.2,451.6 L340.0,449.7 L339.8,448.0 L339.6,446.4 L339.4,445.2 L339.2,444.4 L339.0,443.8 L338.8,445.0 L338.6,443.8 L338.4,443.9 L338.2,444.5 L338.0,445.0 L337.8,445.6 L337.6,446.2 L337.4,447.4 L337.2,449.0 L337.0,450.5 L336.8,449.9 L336.6,448.4 L336.4,448.0 L336.2,448.0 L336.0,448.0 L335.8,448.0 L335.6,448.0 L335.4,448.0 L335.2,448.0 L335.0,448.0 L334.8,448.0 L334.6,448.0 L334.4,446.9 L334.2,445.5 L334.0,443.8 L333.8,441.8 L333.6,439.6 L333.4,437.0 L333.2,434.1 L333.0,431.0 L332.8,427.5 L332.6,424.8 L332.4,422.2 L332.2,419.6 L332.0,417.0 L331.8,414.5 L331.6,411.9 L331.4,409.5 L331.2,407.1 L331.0,404.9 L330.8,402.8 L330.6,400.8 L330.4,398.9 L330.2,397.0 L330.0,395.3 L329.8,394.2 L329.6,393.0 L329.4,391.9 L329.2,390.7 L329.0,389.7 L328.8,388.8 L328.6,388.1 L328.4,388.5 L328.2,388.9 L328.0,387.7 L327.8,386.8 L327.6,387.6 L327.4,388.1 L327.2,386.7 L327.0,386.6 L326.8,386.3 L326.6,386.2 L326.4,386.2 L326.2,386.2 L326.0,386.3 L325.8,386.3 L325.6,386.4 L325.4,386.5 L325.2,386.7 L325.0,386.8 L324.8,387.1 L324.6,387.8 L324.4,388.5 L324.2,389.3 L324.0,390.1 L323.8,390.8 L323.6,391.5 L323.4,392.2 L323.2,393.0 L323.0,393.6 L322.8,394.0 L322.6,394.2 L322.4,394.5 L322.2,394.9 L322.0,395.4 L321.8,396.1 L321.6,397.0 L321.4,398.2 L321.2,399.4 L321.0,400.5 L320.8,401.0 L320.6,400.9 L320.4,401.5 L320.2,402.0 L320.0,402.2 L319.8,402.2 L319.6,402.3 L319.4,402.2 L319.2,402.2 L319.0,402.2 L318.8,402.2 L318.6,402.2 L318.4,402.2 L318.2,402.2 L318.0,402.2 L317.8,402.2 L317.6,401.8 L317.4,400.7 L317.2,399.6 L317.0,398.5 L316.8,397.1 L316.6,395.7 L316.4,394.3 L316.2,392.6 L316.0,390.9 L315.8,389.7 L315.6,389.0 L315.4,388.4 L315.2,387.9 L315.0,387.6 L314.8,387.2 L314.6,386.6 L314.4,386.2 L314.2,385.6 L314.0,385.0 L313.8,384.3 L313.6,383.6 L313.4,381.9 L313.2,380.3 L313.0,378.6 L312.8,377.2 L312.6,375.7 L312.4,374.2 L312.2,372.5 L312.0,370.7 L311.8,368.6 L311.6,367.4 L311.4,366.0 L311.2,364.4 L311.0,362.7 L310.8,360.7 L310.6,358.5 L310.4,356.5 L310.2,354.6 L310.0,352.9 L309.8,353.4 L309.6,354.4 L309.4,355.3 L309.2,356.3 L309.0,357.2 L308.8,358.2 L308.6,359.2 L308.4,360.1 L308.2,361.1 L308.0,362.0 L307.8,363.0 L307.6,363.9 L307.4,364.9 L307.2,365.9 L307.0,366.8 L306.8,366.9 L306.6,366.0 L306.4,365.0 L306.2,364.1 L306.0,363.6 L305.8,363.6 L305.6,363.6 L305.4,363.6 L305.2,363.6 L305.0,363.6 L304.8,363.6 L304.6,363.3 L304.4,362.7 L304.2,361.6 L304.0,360.0 L303.8,358.0 L303.6,355.5 L303.4,352.6 L303.2,349.7 L303.0,348.8 L302.8,347.8 L302.6,335.2 L302.4,330.2 L302.2,325.6 L302.0,321.6 L301.8,317.9 L301.6,314.5 L301.4,311.6 L301.2,309.2 L301.0,307.3 L300.8,306.7 L300.6,306.0 L300.4,305.2 L300.2,304.4 L300.0,303.5 L299.8,302.7 L299.6,301.9 L299.4,301.4 L299.2,301.1 L299.0,300.8 L298.8,300.6 L298.6,300.3 L298.4,300.0 L298.2,299.7 L298.0,299.3 L297.8,299.0 L297.6,298.7 L297.4,298.4 L297.2,298.0 L297.0,297.8 L296.8,297.6 L296.6,297.6 L296.4,297.6 L296.2,297.6 L296.0,297.4 L295.8,297.0 L295.6,296.4 L295.4,295.5 L295.2,294.4 L295.0,293.1 L294.8,291.5 L294.6,289.7 L294.4,287.5 L294.2,285.3 L294.0,283.1 L293.8,281.2 L293.6,279.6 L293.4,278.1 L293.2,278.0 L293.0,276.9 L292.8,275.9 L292.6,276.7 L292.4,277.6 L292.2,278.5 L292.0,279.3 L291.8,281.0 L291.6,282.8 L291.4,284.7 L291.2,286.5 L291.0,288.1 L290.8,289.3 L290.6,290.3 L290.4,291.0 L290.2,291.4 L290.0,291.4 L289.8,291.4 L289.6,291.4 L289.4,291.4 L289.2,291.4 L289.0,291.4 L288.8,291.4 L288.6,291.4 L288.4,291.4 L288.2,291.4 L288.0,291.4 L287.8,291.2 L287.6,290.8 L287.4,290.1 L287.2,289.1 L287.0,287.8 L286.8,286.3 L286.6,284.5 L286.4,282.5 L286.2,280.3 L286.0,278.5 L285.8,277.7 L285.6,276.8 L285.4,275.9 L285.2,275.1 L285.0,274.2 L284.8,267.5 L284.6,266.5 L284.4,265.6 L284.2,265.0 L284.0,264.7 L283.8,264.6 L283.6,264.9 L283.4,265.3 L283.2,265.9 L283.0,266.4 L282.8,267.1 L282.6,267.9 L282.4,268.8 L282.2,269.6 L282.0,270.6 L281.8,271.7 L281.6,272.9 L281.4,274.3 L281.2,275.8 L281.0,277.3 L280.8,278.8 L280.6,280.3 L280.4,281.9 L280.2,283.3 L280.0,284.7 L279.8,286.0 L279.6,287.3 L279.4,288.4 L279.2,289.7 L279.0,290.9 L278.8,292.1 L278.6,293.3 L278.4,294.6 L278.2,295.7 L278.0,296.9 L277.8,298.2 L277.6,299.4 L277.4,300.7 L277.2,302.0 L277.0,303.4 L276.8,304.8 L276.6,306.3 L276.4,307.9 L276.2,309.4 L276.0,310.8 L275.8,312.0 L275.6,313.0 L275.4,313.9 L275.2,314.6 L275.0,315.1 L274.8,315.4 L274.6,315.6 L274.4,315.6 L274.2,315.6 L274.0,315.6 L273.8,315.6 L273.6,315.6 L273.4,315.6 L273.2,315.6 L273.0,315.6 L272.8,315.6 L272.6,315.6 L272.4,315.6 L272.2,315.5 L272.0,315.1 L271.8,314.3 L271.6,313.0 L271.4,311.3 L271.2,309.1 L271.0,306.5 L270.8,303.5 L270.6,300.1 L270.4,296.3 L270.2,292.4 L270.0,288.5 L269.8,284.9 L269.6,281.8 L269.4,279.0 L269.2,276.4 L269.0,274.1 L268.8,272.1 L268.6,269.7 L268.4,267.6 L268.2,265.4 L268.0,263.0 L267.8,260.1 L267.6,256.9 L267.4,253.3 L267.2,249.9 L267.0,246.5 L266.8,243.8 L266.6,241.5 L266.4,239.4 L266.2,237.6 L266.0,236.2 L265.8,235.2 L265.6,234.6 L265.4,234.0 L265.2,233.3 L265.0,232.6 L264.8,231.9 L264.6,231.1 L264.4,230.4 L264.2,229.7 L264.0,229.2 L263.8,228.7 L263.6,228.3 L263.4,228.0 L263.2,227.8 L263.0,228.2 L262.8,228.1 L262.6,228.5 L262.4,228.9 L262.2,229.4 L262.0,230.0 L261.8,230.6 L261.6,231.3 L261.4,232.1 L261.2,232.6 L261.0,233.3 L260.8,234.1 L260.6,235.0 L260.4,236.2 L260.2,237.3 L260.0,238.4 L259.8,239.4 L259.6,240.3 L259.4,241.2 L259.2,241.9 L259.0,242.4 L258.8,242.7 L258.6,242.7 L258.4,242.7 L258.2,242.7 L258.0,242.7 L257.8,242.7 L257.6,242.7 L257.4,242.7 L257.2,242.7 L257.0,242.7 L256.8,242.7 L256.6,242.7 L256.4,242.5 L256.2,242.2 L256.0,241.8 L255.8,241.3 L255.6,240.6 L255.4,240.6 L255.2,240.6 L255.0,239.0 L254.8,238.2 L254.6,237.5 L254.4,236.9 L254.2,236.6 L254.0,237.0 L253.8,237.7 L253.6,238.6 L253.4,239.6 L253.2,240.4 L253.0,241.0 L252.8,241.9 L252.6,243.1 L252.4,244.3 L252.2,245.0 L252.0,245.6 L251.8,246.3 L251.6,246.9 L251.4,247.5 L251.2,248.0 L251.0,248.5 L250.8,249.0 L250.6,249.6 L250.4,250.6 L250.2,251.4 L250.0,252.2 L249.8,253.0 L249.6,253.9 L249.4,254.6 L249.2,255.4 L249.0,256.2 L248.8,257.0 L248.6,257.9 L248.4,259.0 L248.2,260.2 L248.0,262.0 L247.8,264.0 L247.6,265.9 L247.4,267.5 L247.2,269.0 L247.0,270.3 L246.8,271.5 L246.6,272.2 L246.4,272.6 L246.2,272.6 L246.0,272.6 L245.8,272.6 L245.6,274.0 L245.4,275.1 L245.2,273.6 L245.0,272.6 L244.8,272.6 L244.6,273.3 L244.4,274.5 L244.2,275.7 L244.0,274.7 L243.8,273.5 L243.6,272.4 L243.4,272.8 L243.2,274.1 L243.0,275.5 L242.8,276.8 L242.6,277.1 L242.4,275.8 L242.2,274.5 L242.0,274.3 L241.8,275.1 L241.6,275.9 L241.4,276.7 L241.2,278.1 L241.0,279.7 L240.8,278.7 L240.6,279.0 L240.4,279.7 L240.2,280.8 L240.0,281.2 L239.8,280.1 L239.6,279.2 L239.4,279.2 L239.2,279.2 L239.0,279.2 L238.8,279.5 L238.6,280.6 L238.4,281.3 L238.2,280.2 L238.0,279.0 L237.8,277.9 L237.6,276.8 L237.4,275.7 L237.2,274.6 L237.0,273.5 L236.8,272.4 L236.6,271.3 L236.4,270.2 L236.2,271.4 L236.0,272.7 L235.8,274.0 L235.6,274.7 L235.4,273.4 L235.2,272.1 L235.0,270.8 L234.8,271.1 L234.6,272.0 L234.4,272.7 L234.2,273.3 L234.0,273.8 L233.8,274.3 L233.6,275.1 L233.4,275.9 L233.2,276.5 L233.0,277.1 L232.8,277.7 L232.6,278.6 L232.4,279.6 L232.2,280.6 L232.0,281.8 L231.8,283.2 L231.6,284.8 L231.4,286.6 L231.2,288.7 L231.0,290.8 L230.8,293.1 L230.6,295.5 L230.4,297.9 L230.2,300.1 L230.0,302.1 L229.8,303.8 L229.6,305.3 L229.4,306.5 L229.2,307.3 L229.0,307.9 L228.8,308.0 L228.6,308.1 L228.4,308.3 L228.2,308.6 L228.0,308.9 L227.8,309.3 L227.6,309.8 L227.4,310.7 L227.2,311.9 L227.0,312.8 L226.8,313.8 L226.6,315.4 L226.4,316.0 L226.2,314.4 L226.0,312.7 L225.8,311.9 L225.6,311.7 L225.4,311.5 L225.2,311.2 L225.0,311.0 L224.8,310.8 L224.6,310.5 L224.4,311.9 L224.2,313.2 L224.0,314.6 L223.8,316.0 L223.6,317.4 L223.4,316.4 L223.2,315.0 L223.0,315.5 L222.8,316.4 L222.6,315.9 L222.4,316.5 L222.2,316.8 L222.0,317.7 L221.8,319.2 L221.6,320.0 L221.4,318.5 L221.2,317.7 L221.0,317.7 L220.8,317.7 L220.6,317.7 L220.4,317.7 L220.2,319.0 L220.0,320.4 L219.8,321.9 L219.6,321.7 L219.4,320.3 L219.2,318.8 L219.0,319.0 L218.8,320.1 L218.6,319.9 L218.4,318.7 L218.2,317.9 L218.0,316.9 L217.8,316.4 L217.6,315.9 L217.4,315.4 L217.2,314.9 L217.0,314.5 L216.8,314.4 L216.6,314.2 L216.4,315.0 L216.2,315.9 L216.0,317.0 L215.8,318.2 L215.6,319.5 L215.4,320.9 L215.2,322.3 L215.0,323.9 L214.8,325.0 L214.6,325.8 L214.4,326.8 L214.2,327.7 L214.0,328.6 L213.8,329.6 L213.6,330.7 L213.4,331.8 L213.2,333.3 L213.0,335.3 L212.8,337.1 L212.6,338.8 L212.4,340.4 L212.2,342.0 L212.0,343.4 L211.8,344.5 L211.6,345.6 L211.4,346.2 L211.2,346.2 L211.0,346.2 L210.8,346.2 L210.6,346.3 L210.4,346.7 L210.2,346.2 L210.0,346.2 L209.8,346.2 L209.6,346.2 L209.4,346.2 L209.2,346.2 L209.0,346.2 L208.8,345.9 L208.6,345.7 L208.4,345.4 L208.2,344.9 L208.0,344.4 L207.8,343.7 L207.6,343.1 L207.4,342.1 L207.2,340.2 L207.0,338.2 L206.8,336.0 L206.6,333.6 L206.4,331.4 L206.2,329.0 L206.0,326.7 L205.8,324.2 L205.6,322.0 L205.4,320.8 L205.2,319.9 L205.0,319.0 L204.8,318.1 L204.6,317.0 L204.4,315.9 L204.2,314.7 L204.0,313.3 L203.8,311.8 L203.6,310.1 L203.4,308.3 L203.2,306.5 L203.0,304.9 L202.8,303.3 L202.6,301.8 L202.4,300.4 L202.2,299.2 L202.0,297.9 L201.8,296.7 L201.6,295.6 L201.4,294.6 L201.2,293.6 L201.0,292.7 L200.8,292.1 L200.6,291.6 L200.4,291.0 L200.2,290.8 L200.0,290.7 L199.8,290.8 L199.6,290.8 L199.4,290.9 L199.2,291.3 L199.0,291.5 L198.8,291.2 L198.6,291.2 L198.4,291.0 L198.2,290.8 L198.0,290.6 L197.8,290.4 L197.6,290.2 L197.4,290.0 L197.2,290.4 L197.0,291.3 L196.8,292.2Z" fill="#0d355a" stroke="none"/>
<path d="M495.2,406.5 L495.4,406.3 L495.6,406.0 L495.8,405.7 L496.0,405.4 L496.2,404.8 L496.4,404.2 L496.6,403.5 L496.8,402.9 L497.0,402.3 L497.2,401.7 L497.4,401.0 L497.6,400.3 L497.8,399.6 L498.0,398.9 L498.2,398.2 L498.4,397.3 L498.6,396.3 L498.8,395.3 L499.0,394.5 L499.2,393.6 L499.4,392.7 L499.6,391.6 L499.8,390.4 L500.0,389.1 L500.2,387.8 L500.4,386.4 L500.6,385.1 L500.8,383.7 L501.0,382.4 L501.2,381.0 L501.4,379.7 L501.6,378.3 L501.8,376.9 L502.0,375.5 L502.2,374.0 L502.4,372.6 L502.6,371.4 L502.8,370.3 L503.0,369.4 L503.2,368.6 L503.4,368.0 L503.6,367.6 L503.8,367.3 L504.0,367.3 L504.2,367.3 L504.4,367.3 L504.6,367.3 L504.8,367.3 L505.0,367.3 L505.2,367.3 L505.4,367.3 L505.6,367.3 L505.8,367.3 L506.0,367.3 L506.2,367.4 L506.4,367.8 L506.6,368.7 L506.8,370.0 L507.0,371.4 L507.2,372.8 L507.4,374.4 L507.6,376.1 L507.8,377.8 L508.0,379.7 L508.2,381.1 L508.4,382.3 L508.6,383.1 L508.8,383.8 L509.0,384.6 L509.2,385.2 L509.4,385.8 L509.6,386.3 L509.8,386.7 L510.0,387.1 L510.2,387.1 L510.4,385.8 L510.6,384.4 L510.8,383.1 L511.0,381.8 L511.2,381.9 L511.4,383.2 L511.6,384.6 L511.8,385.9 L512.0,387.3 L512.2,387.2 L512.4,388.7 L512.6,388.2 L512.8,387.5 L513.0,386.9 L513.2,386.4 L513.4,386.1 L513.6,385.9 L513.8,386.0 L514.0,386.2 L514.2,386.4 L514.4,386.6 L514.6,386.7 L514.8,386.6 L515.0,386.4 L515.2,386.2 L515.4,386.0 L515.6,385.7 L515.8,385.4 L516.0,385.0 L516.2,384.6 L516.4,384.2 L516.6,383.7 L516.8,383.2 L517.0,382.8 L517.2,382.3 L517.4,382.0 L517.6,381.7 L517.8,381.4 L518.0,381.3 L518.2,381.2 L518.4,381.2 L518.6,381.2 L518.8,381.2 L519.0,381.2 L519.2,381.2 L519.4,380.5 L519.6,379.3 L519.8,378.2 L520.0,378.3 L520.2,379.5 L520.4,380.7 L520.6,381.3 L520.8,381.2 L521.0,381.1 L521.2,381.0 L521.4,381.1 L521.6,381.3 L521.8,381.6 L522.0,382.0 L522.2,381.9 L522.4,379.9 L522.6,380.4 L522.8,382.4 L523.0,383.6 L523.2,383.7 L523.4,383.0 L523.6,383.9 L523.8,384.1 L524.0,383.5 L524.2,384.2 L524.4,385.3 L524.6,385.4 L524.8,385.4 L525.0,385.4 L525.2,385.4 L525.4,385.4 L525.6,385.5 L525.8,385.6 L526.0,386.2 L526.2,387.2 L526.4,388.3 L526.6,388.9 L526.8,388.9 L527.0,388.9 L527.2,389.0 L527.4,389.0 L527.6,389.2 L527.8,389.6 L528.0,390.2 L528.2,391.0 L528.4,391.9 L528.6,393.1 L528.8,394.8 L529.0,396.9 L529.2,398.9 L529.4,400.9 L529.6,402.7 L529.8,403.9 L530.0,405.0 L530.2,406.9 L530.4,408.0 L530.6,408.3 L530.8,408.2 L531.0,407.9 L531.2,407.5 L531.4,407.1 L531.6,406.6 L531.8,406.2 L532.0,405.8 L532.2,405.5 L532.4,405.2 L532.6,405.0 L532.8,405.0 L533.0,405.0 L533.2,405.0 L533.4,405.0 L533.6,404.8 L533.8,404.6 L534.0,404.3 L534.2,404.0 L534.4,403.8 L534.6,403.5 L534.8,402.2 L535.0,403.0 L535.2,402.9 L535.4,402.9 L535.6,403.1 L535.8,403.3 L536.0,403.5 L536.2,403.4 L536.4,402.0 L536.6,400.7 L536.8,399.3 L537.0,397.9 L537.2,396.5 L537.4,397.8 L537.6,399.2 L537.8,400.5 L538.0,400.1 L538.2,398.4 L538.4,396.8 L538.6,397.0 L538.8,398.7 L539.0,400.3 L539.2,399.9 L539.4,399.6 L539.6,399.5 L539.8,399.4 L540.0,399.4 L540.2,399.4 L540.4,399.4 L540.6,399.4 L540.8,399.4 L541.0,399.4 L541.2,399.3 L541.4,399.2 L541.6,399.1 L541.8,398.9 L542.0,398.7 L542.2,397.9 L542.4,397.0 L542.6,395.9 L542.8,394.7 L543.0,393.5 L543.2,392.3 L543.4,391.2 L543.6,390.0 L543.8,388.7 L544.0,387.9 L544.2,387.4 L544.4,387.0 L544.6,386.4 L544.8,385.8 L545.0,385.1 L545.2,384.5 L545.4,384.0 L545.6,383.5 L545.8,383.0 L546.0,382.1 L546.2,381.2 L546.4,381.1 L546.6,381.3 L546.8,381.8 L547.0,382.1 L547.2,382.1 L547.4,382.1 L547.6,382.1 L547.8,382.1 L548.0,382.1 L548.2,382.1 L548.4,381.4 L548.6,379.8 L548.8,380.7 L549.0,381.0 L549.2,380.2 L549.4,381.3 L549.6,382.4 L549.8,383.4 L550.0,383.7 L550.2,383.3 L550.4,383.3 L550.6,384.5 L550.8,384.5 L551.0,384.5 L551.2,384.4 L551.4,384.2 L551.6,384.1 L551.8,384.0 L552.0,383.9 L552.2,383.7 L552.4,383.7 L552.6,383.7 L552.8,383.7 L553.0,383.7 L553.2,383.7 L553.4,383.7 L553.6,383.7 L553.8,383.7 L554.0,383.7 L554.2,383.7 L554.4,383.7 L554.6,383.9 L554.8,384.2 L555.0,384.7 L555.2,385.2 L555.4,384.3 L555.6,382.7 L555.8,381.1 L556.0,381.9 L556.2,383.5 L556.4,385.1 L556.6,386.7 L556.8,388.0 L557.0,387.9 L557.2,387.9 L557.4,387.8 L557.6,387.7 L557.8,387.6 L558.0,387.5 L558.2,387.4 L558.4,387.2 L558.6,386.2 L558.8,385.0 L559.0,384.0 L559.2,383.0 L559.4,382.2 L559.6,381.8 L559.8,381.5 L560.0,381.3 L560.2,381.4 L560.4,381.3 L560.6,379.6 L560.8,378.1 L561.0,379.8 L561.2,380.9 L561.4,380.7 L561.6,380.6 L561.8,380.3 L562.0,380.6 L562.2,380.6 L562.4,380.6 L562.6,380.6 L562.8,380.6 L563.0,380.6 L563.2,380.6 L563.4,380.6 L563.6,380.6 L563.8,380.6 L564.0,380.7 L564.2,381.0 L564.4,381.5 L564.6,382.0 L564.8,382.7 L565.0,383.6 L565.2,384.4 L565.4,385.3 L565.6,386.3 L565.8,387.2 L566.0,388.0 L566.2,388.7 L566.4,389.3 L566.6,389.8 L566.8,390.3 L567.0,390.8 L567.2,391.2 L567.4,391.6 L567.6,391.9 L567.8,392.2 L568.0,392.4 L568.2,391.9 L568.4,390.1 L568.6,390.3 L568.8,392.1 L569.0,392.7 L569.2,392.7 L569.4,392.7 L569.6,392.8 L569.8,392.9 L570.0,393.2 L570.2,393.7 L570.4,394.1 L570.6,394.1 L570.8,395.4 L571.0,396.1 L571.2,396.3 L571.4,396.7 L571.6,398.2 L571.8,399.0 L572.0,398.0 L572.2,399.5 L572.4,400.3 L572.6,400.5 L572.8,400.4 L573.0,400.2 L573.2,399.8 L573.4,399.6 L573.6,398.8 L573.8,397.7 L574.0,396.6 L574.2,395.6 L574.4,394.7 L574.6,393.9 L574.8,393.2 L575.0,392.3 L575.2,390.4 L575.4,388.6 L575.6,390.3 L575.8,391.6 L576.0,391.0 L576.2,389.3 L576.4,387.6 L576.6,386.2 L576.8,387.9 L577.0,389.7 L577.2,391.4 L577.4,391.6 L577.6,391.6 L577.8,391.6 L578.0,391.7 L578.2,391.7 L578.4,391.8 L578.6,391.9 L578.8,392.0 L579.0,392.1 L579.2,392.2 L579.4,392.3 L579.6,392.3 L579.8,392.2 L580.0,392.1 L580.2,392.1 L580.4,391.8 L580.6,390.5 L580.8,391.7 L581.0,391.7 L581.2,391.6 L581.4,391.6 L581.6,391.6 L581.8,391.6 L582.0,391.6 L582.2,391.6 L582.4,391.6 L582.6,391.6 L582.8,391.6 L583.0,391.6 L583.2,391.6 L583.4,391.6 L583.6,391.6 L583.8,391.6 L584.0,391.7 L584.2,391.7 L584.4,391.8 L584.6,391.9 L584.8,392.1 L585.0,392.2 L585.2,392.5 L585.4,392.8 L585.6,393.2 L585.8,393.7 L586.0,394.2 L586.2,394.7 L586.4,395.2 L586.6,395.7 L586.8,396.1 L587.0,396.5 L587.2,396.7 L587.4,396.9 L587.6,396.4 L587.8,396.9 L588.0,396.9 L588.2,396.8 L588.4,396.8 L588.6,396.8 L588.8,396.8 L589.0,396.3 L589.2,395.0 L589.4,393.6 L589.6,392.3 L589.8,391.0 L590.0,389.6 L590.2,390.3 L590.4,391.6 L590.6,393.0 L590.8,394.3 L591.0,395.6 L591.2,396.9 L591.4,397.0 L591.6,397.2 L591.8,397.4 L592.0,397.6 L592.2,395.9 L592.4,394.2 L592.6,394.8 L592.8,396.5 L593.0,398.2 L593.2,399.3 L593.4,399.5 L593.6,399.6 L593.8,399.7 L594.0,399.8 L594.2,399.1 L594.4,398.1 L594.6,397.1 L594.8,396.1 L595.0,395.1 L595.2,394.1 L595.4,393.3 L595.6,394.3 L595.8,395.3 L596.0,396.3 L596.2,397.3 L596.4,397.5 L596.6,396.9 L596.8,396.3 L597.0,395.7 L597.2,395.2 L597.4,394.7 L597.6,394.2 L597.8,393.9 L598.0,393.8 L598.2,393.8 L598.4,393.8 L598.6,392.2 L598.8,390.3 L599.0,391.6 L599.2,393.5 L599.4,393.5 L599.6,393.3 L599.8,393.0 L600.0,392.8 L600.2,392.6 L600.4,391.4 L600.6,392.4 L600.8,392.3 L601.0,392.2 L601.2,391.5 L601.4,390.1 L601.6,388.8 L601.8,389.1 L602.0,390.5 L602.2,390.3 L602.4,390.1 L602.6,389.7 L602.8,389.0 L603.0,388.3 L603.2,387.5 L603.4,386.8 L603.6,387.4 L603.8,388.1 L604.0,387.7 L604.2,386.9 L604.4,387.5 L604.6,388.3 L604.8,389.0 L605.0,389.8 L605.2,389.8 L605.4,390.2 L605.6,390.6 L605.8,391.0 L606.0,391.5 L606.2,391.9 L606.4,392.3 L606.6,392.7 L606.8,393.0 L607.0,393.1 L607.2,392.9 L607.4,392.5 L607.6,392.0 L607.8,391.5 L608.0,391.0 L608.2,390.5 L608.4,390.0 L608.6,389.5 L608.8,389.2 L609.0,389.0 L609.2,388.4 L609.4,388.9 L609.6,388.9 L609.8,388.8 L610.0,388.7 L610.2,388.4 L610.4,388.0 L610.6,387.7 L610.8,387.5 L611.0,387.4 L611.2,387.3 L611.4,387.3 L611.6,387.3 L611.8,387.4 L612.0,387.4 L612.2,387.5 L612.4,387.4 L612.6,387.0 L612.8,386.6 L613.0,385.9 L613.2,384.5 L613.4,383.0 L613.6,381.5 L613.8,380.1 L614.0,378.6 L614.2,379.4 L614.4,380.9 L614.6,382.3 L614.8,382.9 L615.0,382.4 L615.2,381.0 L615.4,379.7 L615.6,378.2 L615.8,376.0 L616.0,373.6 L616.2,371.3 L616.4,369.0 L616.6,366.8 L616.8,364.5 L617.0,362.9 L617.2,362.0 L617.4,361.8 L617.6,361.7 L617.8,361.7 L618.0,361.7 L618.2,361.7 L618.4,361.7 L618.6,361.7 L618.8,361.7 L619.0,361.7 L619.2,361.7 L619.4,361.7 L619.6,361.7 L619.8,361.5 L620.0,361.4 L620.2,361.2 L620.4,361.0 L620.6,360.8 L620.8,360.5 L621.0,360.3 L621.2,360.0 L621.4,359.8 L621.6,359.6 L621.8,359.6 L622.0,359.5 L622.2,359.4 L622.4,359.3 L622.6,359.3 L622.8,359.3 L623.0,359.3 L623.2,359.3 L623.4,359.3 L623.6,359.3 L623.8,359.3 L624.0,358.7 L624.2,359.3 L624.4,359.3 L624.6,359.3 L624.8,359.4 L625.0,359.6 L625.2,359.8 L625.4,359.9 L625.6,360.1 L625.8,360.2 L626.0,360.3 L626.2,360.4 L626.4,360.3 L626.6,359.3 L626.8,358.4 L627.0,359.1 L627.2,360.0 L627.4,359.9 L627.6,359.7 L627.8,359.7 L628.0,359.7 L628.2,359.7 L628.4,359.7 L628.6,359.7 L628.8,359.7 L629.0,359.7 L629.2,359.7 L629.4,359.7 L629.6,359.7 L629.8,359.7 L630.0,359.7 L630.2,359.9 L630.4,360.4 L630.6,361.1 L630.8,362.0 L631.0,362.8 L631.2,363.7 L631.4,364.6 L631.6,365.5 L631.8,366.3 L632.0,366.9 L632.2,367.3 L632.4,367.3 L632.6,367.1 L632.8,366.6 L633.0,366.0 L633.2,364.8 L633.4,363.7 L633.6,362.8 L633.8,362.0 L634.0,361.4 L634.2,360.9 L634.4,360.2 L634.6,359.6 L634.8,358.8 L635.0,357.3 L635.2,357.6 L635.4,357.9 L635.6,357.1 L635.8,356.3 L636.0,355.5 L636.2,356.3 L636.4,357.2 L636.6,358.0 L636.8,358.8 L637.0,358.8 L637.2,358.8 L637.4,357.9 L637.6,358.9 L637.8,359.1 L638.0,359.6 L638.2,360.2 L638.4,360.9 L638.6,361.8 L638.8,362.2 L639.0,362.8 L639.2,363.5 L639.4,364.4 L639.6,365.3 L639.8,366.2 L640.0,367.1 L640.2,367.9 L640.4,368.8 L640.6,369.5 L640.8,370.3 L641.0,370.8 L641.2,371.1 L641.4,371.4 L641.6,371.7 L641.8,371.3 L642.0,369.8 L642.2,370.6 L642.4,372.2 L642.6,371.5 L642.8,369.9 L643.0,368.4 L643.2,368.3 L643.4,368.9 L643.6,367.8 L643.8,366.8 L644.0,365.7 L644.2,364.8 L644.4,364.2 L644.6,363.8 L644.8,363.5 L645.0,363.3 L645.2,363.3 L645.4,363.3 L645.6,363.3 L645.8,363.3 L646.0,363.3 L646.2,363.3 L646.4,363.3 L646.6,363.3 L646.8,363.3 L647.0,363.3 L647.2,363.3 L647.4,363.4 L647.6,363.6 L647.8,363.9 L648.0,364.5 L648.2,365.2 L648.4,365.7 L648.6,366.1 L648.8,366.6 L649.0,367.1 L649.2,367.8 L649.4,368.4 L649.6,368.8 L649.8,369.2 L650.0,369.6 L650.2,369.8 L650.4,370.0 L650.6,370.1 L650.8,370.4 L651.0,371.1 L651.2,372.1 L651.4,373.2 L651.6,373.8 L651.8,374.1 L652.0,374.5 L652.2,374.8 L652.4,375.2 L652.6,375.6 L652.8,376.2 L653.0,376.9 L653.2,377.7 L653.4,378.8 L653.6,379.9 L653.8,381.3 L654.0,382.9 L654.2,384.8 L654.4,387.0 L654.6,389.3 L654.8,392.5 L655.0,395.7 L655.2,398.6 L655.4,401.4 L655.6,403.9 L655.8,406.2 L656.0,408.1 L656.2,409.3 L656.4,410.2 L656.6,410.0 L656.8,409.0 L657.0,407.7 L657.2,408.4 L657.4,408.7 L657.6,408.3 L657.8,408.0 L658.0,408.0 L658.2,408.0 L658.4,408.0 L658.6,408.0 L658.8,408.0 L659.0,408.0 L659.2,408.0 L659.4,408.0 L659.6,408.0 L659.8,408.0 L660.0,408.0 L660.2,408.2 L660.4,408.7 L660.6,409.8 L660.8,410.8 L661.0,411.8 L661.2,412.8 L661.4,413.9 L661.6,414.3 L661.8,415.2 L662.0,416.4 L662.2,416.6 L662.4,416.4 L662.6,416.2 L662.8,416.0 L663.0,415.8 L663.2,415.6 L663.4,415.4 L663.6,415.4 L663.8,415.4 L664.0,415.4 L664.2,415.4 L664.4,415.4 L664.6,415.4 L664.8,414.9 L665.0,413.6 L665.2,412.2 L665.4,410.9 L665.6,409.5 L665.8,410.9 L666.0,412.2 L666.2,413.6 L666.4,414.9 L666.6,416.3 L666.8,417.7 L667.0,418.9 L667.2,419.7 L667.4,420.5 L667.6,421.0 L667.8,421.4 L668.0,421.7 L668.2,421.9 L668.4,422.1 L668.6,422.7 L668.8,423.6 L669.0,424.6 L669.2,425.5 L669.4,426.5 L669.6,427.5 L669.8,428.4 L670.0,429.4 L670.2,430.3 L670.4,430.6 L670.6,430.5 L670.8,430.2 L671.0,429.8 L671.2,429.3 L671.4,428.8 L671.6,428.1 L671.8,427.4 L672.0,426.7 L672.2,426.0 L672.4,425.2 L672.6,424.5 L672.8,423.7 L673.0,422.9 L673.2,422.2 L673.4,421.4 L673.6,420.6 L673.8,419.8 L674.0,419.0 L674.2,417.8 L674.4,416.7 L674.6,415.9 L674.8,415.1 L675.0,414.2 L675.2,413.4 L675.4,412.5 L675.6,411.6 L675.8,410.5 L676.0,409.5 L676.2,408.6 L676.4,407.7 L676.6,407.0 L676.8,406.5 L677.0,406.0 L677.2,405.6 L677.4,405.4 L677.6,405.3 L677.8,404.2 L678.0,403.7 L678.2,404.9 L678.4,405.3 L678.6,405.3 L678.8,405.3 L679.0,405.3 L679.2,405.3 L679.4,405.3 L679.6,405.3 L679.8,405.3 L680.0,405.4 L680.2,405.8 L680.4,406.4 L680.6,407.4 L680.8,408.7 L681.0,410.4 L681.2,412.2 L681.4,414.0 L681.6,415.9 L681.8,417.6 L682.0,419.0 L682.2,420.2 L682.4,421.1 L682.6,421.6 L682.8,421.8 L683.0,421.0 L683.2,420.1 L683.4,421.3 L683.6,421.8 L683.8,421.8 L684.0,421.8 L684.2,421.8 L684.4,420.7 L684.6,421.2 L684.8,421.8 L685.0,421.8 L685.2,421.8 L685.4,421.8 L685.6,421.8 L685.8,421.8 L686.0,421.8 L686.2,421.9 L686.4,422.2 L686.6,422.6 L686.8,423.2 L687.0,423.9 L687.2,424.8 L687.4,425.8 L687.6,427.0 L687.8,428.2 L688.0,429.5 L688.2,430.7 L688.4,431.9 L688.6,433.0 L688.8,434.2 L689.0,435.3 L689.2,436.3 L689.4,437.4 L689.6,438.4 L689.8,439.4 L690.0,440.3 L690.2,441.2 L690.4,442.1 L690.6,443.0 L690.8,443.8 L691.0,444.6 L691.2,445.4 L691.4,446.1 L691.6,446.6 L691.8,447.1 L692.0,447.6 L692.2,447.9 L692.4,448.2 L692.6,447.1 L692.8,445.6 L693.0,444.1 L693.2,442.8 L693.4,444.4 L693.6,445.9 L693.8,447.4 L694.0,448.5 L694.2,448.5 L694.4,448.5 L694.6,448.5 L694.8,448.5 L695.0,447.7 L695.2,446.7 L695.4,447.1 L695.6,448.2 L695.8,448.4 L696.0,448.4 L696.2,448.4 L696.4,448.4 L696.6,448.5 L696.8,447.1 L697.0,446.7 L697.2,448.2 L697.4,449.7 L697.6,450.2 L697.8,450.6 L698.0,450.5 L698.2,450.6 L698.4,451.4 L698.6,451.4 L698.8,451.4 L699.0,451.4 L699.2,451.4 L699.4,451.4 L699.6,451.4 L699.8,451.4 L700.0,451.5 L700.2,452.0 L700.4,452.5 L700.6,453.1 L700.8,453.6 L701.0,454.1 L701.2,454.6 L701.4,454.0 L701.6,455.4 L701.8,455.5 L702.0,455.2 L702.2,454.9 L702.4,454.6 L702.6,453.6 L702.8,454.0 L703.0,453.8 L703.2,453.7 L703.4,453.7 L703.6,453.6 L703.8,453.8 L704.0,453.8 L704.2,453.9 L704.4,453.3 L704.6,452.2 L704.8,451.1 L705.0,450.1 L705.2,449.0 L705.4,447.9 L705.6,447.3 L705.8,448.4 L706.0,449.5 L706.2,450.5 L706.4,451.6 L706.6,452.7 L706.8,453.8 L707.0,454.5 L707.2,453.9 L707.4,453.5 L707.6,454.4 L707.8,455.8 L708.0,456.1 L708.2,456.2 L708.4,456.2 L708.6,456.3 L708.8,456.3 L709.0,456.3 L709.2,456.3 L709.4,456.3 L709.6,456.3 L709.8,456.3 L710.0,456.3 L710.2,457.5 L710.4,459.1 L710.6,461.0 L710.8,463.0 L711.0,465.2 L711.2,467.5 L711.4,470.1 L711.6,472.6 L711.8,475.2 L712.0,476.5 L712.2,477.4 L712.4,478.1 L712.6,478.7 L712.8,479.0 L713.0,479.2 L713.2,479.2 L713.4,479.3 L713.6,479.5 L713.8,479.6 L714.0,479.8 L714.2,477.9 L714.4,479.2 L714.6,480.7 L714.8,480.9 L715.0,481.2 L715.2,481.3 L715.4,481.5 L715.6,481.5 L715.8,481.5 L716.0,481.4 L716.2,480.9 L716.4,479.3 L716.6,478.8 L716.8,479.6 L717.0,478.5 L717.2,477.4 L717.4,476.4 L717.6,475.4 L717.8,474.4 L718.0,473.2 L718.2,471.5 L718.4,470.1 L718.6,471.8 L718.8,471.8 L719.0,471.8 L719.2,470.3 L719.4,468.7 L719.6,468.7 L719.8,470.2 L720.0,471.8 L720.2,471.8 L720.4,471.8 L720.6,471.8 L720.8,471.8 L721.0,471.8 L721.2,471.8 L721.4,472.7 L721.6,473.6 L721.8,474.6 L722.0,475.7 L722.2,476.8 L722.4,478.0 L722.6,479.3 L722.8,480.7 L723.0,482.0 L723.2,482.5 L723.4,482.9 L723.6,483.3 L723.8,483.9 L724.0,484.7 L724.2,485.7 L724.4,486.7 L724.6,487.7 L724.8,488.8 L725.0,489.9 L725.2,491.1 L725.4,492.2 L725.6,493.0 L725.8,493.5 L726.0,493.8 L726.2,493.9 L726.4,493.9 L726.6,493.8 L726.8,493.6 L727.0,493.1 L727.2,492.3 L727.4,491.6 L727.6,491.0 L727.8,490.7 L728.0,490.4 L728.2,490.2 L728.4,490.0 L728.6,489.8 L728.8,489.8 L729.0,489.5 L729.2,487.8 L729.4,486.0 L729.6,485.2 L729.8,487.0 L730.0,488.1 L730.2,487.4 L730.4,486.7 L730.6,485.8 L730.8,485.0 L731.0,484.3 L731.2,483.4 L731.4,482.5 L731.6,481.7 L731.8,480.6 L732.0,479.7 L732.2,478.7 L732.4,477.7 L732.6,476.5 L732.8,475.0 L733.0,473.8 L733.2,472.7 L733.4,471.6 L733.6,470.9 L733.8,470.2 L734.0,469.5 L734.2,469.1 L734.4,468.9 L734.6,468.9 L734.8,468.9 L735.0,468.9 L735.2,468.9 L735.4,468.7 L735.6,467.6 L735.8,466.6 L736.0,466.1 L736.2,467.1 L736.4,468.1 L736.6,468.9 L736.8,469.0 L737.0,469.4 L737.2,469.8 L737.4,470.2 L737.6,470.6 L737.8,471.0 L738.0,471.3 L738.2,471.5 L738.4,471.0 L738.6,469.4 L738.8,467.8 L739.0,466.2 L739.2,464.6 L739.4,465.9 L739.6,466.6 L739.8,465.9 L740.0,465.3 L740.2,465.3 L740.4,465.3 L740.6,465.3 L740.8,465.3 L741.0,465.3 L741.2,465.3 L741.4,465.3 L741.6,465.2 L741.8,464.8 L742.0,464.5 L742.2,464.2 L742.4,464.0 L742.6,463.8 L742.8,463.6 L743.0,463.6 L743.2,463.6 L743.4,462.7 L743.6,461.6 L743.8,463.0 L744.0,464.5 L744.2,465.1 L744.4,464.6 L744.6,464.3 L744.8,465.6 L745.0,465.6 L745.2,465.6 L745.4,465.6 L745.6,465.6 L745.8,465.6 L746.0,465.6 L746.2,465.6 L746.4,464.8 L746.6,463.7 L746.8,462.9 L747.0,464.1 L747.2,465.2 L747.4,466.1 L747.6,465.8 L747.8,467.2 L748.0,468.4 L748.2,468.4 L748.4,468.5 L748.6,468.8 L748.8,469.2 L749.0,469.8 L749.2,470.6 L749.4,471.5 L749.6,472.6 L749.8,473.7 L750.0,474.8 L750.2,475.1 L750.4,475.2 L750.6,475.3 L750.8,475.3 L751.0,475.5 L751.2,475.9 L751.4,476.4 L751.6,477.2 L751.8,478.1 L752.0,479.2 L752.2,480.4 L752.4,481.5 L752.6,482.7 L752.8,483.7 L753.0,484.6 L753.2,485.4 L753.4,485.9 L753.6,486.3 L753.8,486.5 L754.0,486.7 L754.2,486.9 L754.4,487.2 L754.6,487.5 L754.8,488.0 L755.0,488.8 L755.2,489.5 L755.4,490.2 L755.6,490.9 L755.8,491.6 L756.0,492.2 L756.2,491.3 L756.4,490.1 L756.6,490.7 L756.8,491.9 L757.0,492.8 L757.2,492.8 L757.4,492.6 L757.6,491.6 L757.8,490.5 L758.0,489.5 L758.2,488.6 L758.4,489.7 L758.6,490.7 L758.8,490.8 L759.0,491.7 L759.2,492.5 L759.4,493.3 L759.6,494.1 L759.8,494.8 L760.0,494.7 L760.2,494.3 L760.4,494.0 L760.6,493.6 L760.8,492.8 L761.0,490.9 L761.2,489.0 L761.4,489.1 L761.6,490.0 L761.8,488.2 L762.0,486.4 L762.2,486.8 L762.4,488.6 L762.6,489.1 L762.8,489.0 L763.0,489.0 L763.2,489.0 L763.4,488.6 L763.6,489.0 L763.8,489.0 L764.0,488.6 L764.2,488.2 L764.4,488.0 L764.6,488.0 L764.8,488.2 L765.0,488.2 L765.2,488.4 L765.4,488.3 L765.6,488.2 L765.8,488.1 L766.0,488.0 L766.2,488.5 L766.4,488.9 L766.6,488.1 L766.8,489.2 L767.0,489.6 L767.2,489.7 L767.4,489.8 L767.6,489.9 L767.8,490.0 L768.0,490.4 L768.2,490.9 L768.4,491.6 L768.6,492.3 L768.8,492.6 L769.0,493.0 L769.2,493.6 L769.4,494.3 L769.6,495.0 L769.8,495.6 L770.0,496.2 L770.2,496.6 L770.4,497.1 L770.6,497.4 L770.8,497.5 L771.0,497.5 L771.2,497.4 L771.4,497.3 L771.6,496.9 L771.8,495.9 L772.0,496.5 L772.2,496.0 L772.4,495.5 L772.6,495.0 L772.8,494.6 L773.0,494.1 L773.2,493.7 L773.4,493.4 L773.6,493.1 L773.8,493.0 L774.0,493.0 L774.2,493.0 L774.4,492.5 L774.6,493.0 L774.8,493.0 L775.0,493.0 L775.2,493.0 L775.4,492.4 L775.6,490.8 L775.8,491.8 L776.0,493.0 L776.2,493.4 L776.4,494.1 L776.6,495.0 L776.8,495.9 L777.0,496.8 L777.2,497.7 L777.4,498.6 L777.6,499.5 L777.8,500.3 L778.0,500.8 L778.2,499.3 L778.4,500.8 L778.6,500.9 L778.8,500.9 L779.0,499.8 L779.2,500.2 L779.4,500.6 L779.6,500.3 L779.8,498.6 L780.0,499.1 L780.2,498.8 L780.4,498.0 L780.6,497.2 L780.8,496.4 L781.0,495.8 L781.2,495.3 L781.4,494.8 L781.6,494.3 L781.8,493.9 L782.0,493.5 L782.2,493.0 L782.4,492.6 L782.6,492.0 L782.8,491.2 L783.0,490.4 L783.2,489.6 L783.4,488.8 L783.6,488.0 L783.8,487.2 L784.0,486.3 L784.2,485.3 L784.4,484.4 L784.6,483.5 L784.8,482.7 L785.0,481.9 L785.2,481.3 L785.4,480.6 L785.6,479.9 L785.8,479.4 L786.0,478.9 L786.2,478.6 L786.4,478.3 L786.6,478.2 L786.8,478.1 L787.0,478.0 L787.2,477.7 L787.4,477.4 L787.6,477.1 L787.8,476.8 L788.0,476.5 L788.2,476.3 L788.4,476.3 L788.6,476.3 L788.8,476.5 L789.0,476.5 L789.2,476.6 L789.4,476.6 L789.6,476.5 L789.8,476.5 L790.0,476.5 L790.2,476.6 L790.4,476.8 L790.6,477.1 L790.8,477.5 L791.0,477.6 L791.2,477.6 L791.4,477.6 L791.6,477.6 L791.8,477.6 L792.0,477.6 L792.2,477.7 L792.4,477.9 L792.6,478.1 L792.8,478.1 L793.0,477.6 L793.2,477.0 L793.4,477.0 L793.6,477.9 L793.8,479.2 L794.0,480.4 L794.2,481.6 L794.4,482.2 L794.6,482.6 L794.8,482.8 L795.0,483.1 L795.2,483.3 L795.4,482.1 L795.6,480.4 L795.8,481.4 L796.0,483.1 L796.2,483.9 L796.4,484.6 L796.6,485.3 L796.8,486.1 L797.0,487.1 L797.2,488.1 L797.4,489.2 L797.6,490.2 L797.8,491.3 L798.0,491.9 L798.2,492.3 L798.4,492.6 L798.6,492.6 L798.8,491.5 L799.0,492.6 L799.2,492.9 L799.4,492.8 L799.6,492.7 L799.8,492.6 L800.0,492.5 L800.2,492.4 L800.4,492.2 L800.6,492.1 L800.8,491.9 L801.0,490.8 L801.2,490.3 L801.4,491.3 L801.6,491.0 L801.8,490.6 L802.0,490.1 L802.2,489.6 L802.4,488.9 L802.6,487.8 L802.8,487.0 L803.0,486.4 L803.2,486.0 L803.4,485.8 L803.6,485.6 L803.8,485.4 L804.0,485.2 L804.2,485.1 L804.4,483.4 L804.6,483.5 L804.8,485.1 L805.0,485.0 L805.2,484.7 L805.4,484.6 L805.6,484.3 L805.8,484.0 L806.0,483.6 L806.2,483.2 L806.4,482.8 L806.6,482.5 L806.8,482.2 L807.0,481.9 L807.2,481.7 L807.4,481.6 L807.6,481.5 L807.8,481.5 L808.0,481.5 L808.2,481.5 L808.4,481.5 L808.6,481.5 L808.8,481.4 L809.0,481.3 L809.2,480.9 L809.4,480.4 L809.6,479.9 L809.8,479.5 L810.0,479.1 L810.2,478.8 L810.4,478.5 L810.6,478.2 L810.8,477.7 L811.0,477.3 L811.2,476.5 L811.4,475.3 L811.6,474.2 L811.8,473.0 L812.0,471.8 L812.2,470.7 L812.4,469.5 L812.6,469.2 L812.8,470.4 L813.0,471.5 L813.2,472.7 L813.4,473.2 L813.6,473.2 L813.8,473.2 L814.0,473.2 L814.2,473.2 L814.4,471.9 L814.6,470.5 L814.8,471.9 L815.0,473.3 L815.2,473.6 L815.4,472.3 L815.6,470.6 L815.8,470.4 L816.0,472.1 L816.2,473.8 L816.4,475.6 L816.6,477.3 L816.8,478.2 L817.0,478.8 L817.2,479.4 L817.4,479.9 L817.6,479.1 L817.8,477.6 L818.0,476.1 L818.2,475.0 L818.4,476.5 L818.6,478.0 L818.8,479.4 L819.0,480.9 L819.2,481.4 L819.4,481.4 L819.6,481.7 L819.8,482.0 L820.0,482.4 L820.2,482.8 L820.4,483.3 L820.6,484.0 L820.8,484.6 L821.0,485.3 L821.2,485.9 L821.4,486.3 L821.6,486.6 L821.8,486.7 L822.0,486.8 L822.2,486.7 L822.4,486.5 L822.6,486.2 L822.8,485.8 L823.0,485.5 L823.2,485.2 L823.4,484.9 L823.6,484.7 L823.8,484.6 L824.0,484.4 L824.2,484.3 L824.4,484.3 L824.6,484.2 L824.8,484.0 L825.0,483.6 L825.2,482.4 L825.4,481.3 L825.6,480.1 L825.8,478.8 L826.0,477.6 L826.2,476.4 L826.4,475.2 L826.6,474.6 L826.8,473.8 L827.0,473.3 L827.2,473.0 L827.4,473.0 L827.6,473.0 L827.8,472.3 L828.0,471.2 L828.2,472.3 L828.4,473.0 L828.6,473.0 L828.8,473.0 L829.0,473.0 L829.2,473.0 L829.4,473.0 L829.6,473.1 L829.8,473.5 L830.0,474.0 L830.2,474.5 L830.4,474.9 L830.6,475.4 L830.8,475.9 L831.0,476.4 L831.2,476.9 L831.4,477.3 L831.6,477.3 L831.8,477.4 L832.0,477.4 L832.2,477.4 L832.4,477.5 L832.6,477.5 L832.8,477.5 L833.0,477.3 L833.2,477.0 L833.4,476.8 L833.6,476.4 L833.8,475.7 L834.0,474.8 L834.2,473.8 L834.4,473.0 L834.6,472.5 L834.8,472.2 L835.0,471.7 L835.2,471.1 L835.4,469.4 L835.6,468.2 L835.8,470.0 L836.0,470.0 L836.2,470.0 L836.4,470.0 L836.6,470.0 L836.8,470.0 L837.0,470.0 L837.2,470.0 L837.4,470.0 L837.6,470.0 L837.8,470.0 L838.0,470.0 L838.2,470.0 L838.4,470.0 L838.6,470.0 L838.8,470.0 L839.0,470.0 L839.2,470.0 L839.4,471.8 L839.6,474.6 L839.8,477.5 L840.0,480.6 L840.2,483.7 L840.4,486.9 L840.6,489.0 L840.8,490.7 L841.0,492.5 L841.2,493.5 L841.4,494.0 L841.6,494.6 L841.8,495.2 L842.0,496.6 L842.2,497.6 L842.4,498.5 L842.6,499.1 L842.8,499.2 L843.0,499.2 L843.2,499.2 L843.4,499.4 L843.6,499.7 L843.8,500.0 L844.0,500.2 L844.2,500.5 L844.4,500.8 L844.6,501.1 L844.8,501.4 L845.0,501.6 L845.2,501.6 L845.4,501.4 L845.6,501.1 L845.8,500.8 L846.0,500.4 L846.2,499.9 L846.4,499.4 L846.6,498.8 L846.8,498.2 L847.0,497.6 L847.2,497.1 L847.4,496.6 L847.6,496.0 L847.8,495.1 L848.0,494.3 L848.2,493.9 L848.4,493.6 L848.6,493.5 L848.8,493.6 L849.0,493.9 L849.2,493.9 L849.4,493.5 L849.6,492.5 L849.8,492.5 L850.0,493.5 L850.2,493.6 L850.4,493.6 L850.6,493.6 L850.8,493.6 L851.0,493.6 L851.2,492.7 L851.4,492.0 L851.6,493.0 L851.8,493.6 L852.0,493.6 L852.2,493.6 L852.4,493.8 L852.6,492.9 L852.8,494.5 L853.0,495.4 L853.2,495.6 L853.4,496.0 L853.6,496.5 L853.8,497.1 L854.0,497.8 L854.2,498.4 L854.4,498.8 L854.6,497.6 L854.8,495.9 L855.0,497.1 L855.2,498.8 L855.4,499.6 L855.6,499.7 L855.8,499.8 L856.0,499.9 L856.2,500.1 L856.4,500.4 L856.6,500.6 L856.8,500.2 L857.0,498.8 L857.2,499.6 L857.4,501.0 L857.6,501.3 L857.8,500.1 L858.0,498.8 L858.2,497.5 L858.4,497.4 L858.6,498.7 L858.8,499.9 L859.0,500.7 L859.2,500.6 L859.4,500.6 L859.6,500.6 L859.8,500.6 L860.0,500.6 L860.2,500.6 L860.4,500.9 L860.6,501.1 L860.8,501.4 L861.0,501.7 L861.2,501.9 L861.4,502.2 L861.6,502.6 L861.8,503.4 L862.0,504.6 L862.2,505.9 L862.4,507.4 L862.6,509.0 L862.8,510.7 L863.0,512.6 L863.2,514.6 L863.4,516.6 L863.6,518.4 L863.8,519.9 L864.0,521.3 L864.2,522.6 L864.4,524.1 L864.6,525.5 L864.8,526.9 L865.0,528.1 L865.2,529.1 L865.4,528.4 L865.6,526.5 L865.8,528.3 L866.0,530.1 L866.2,531.8 L866.4,531.7 L866.6,531.7 L866.8,531.5 L867.0,530.5 L867.2,529.3 L867.4,528.0 L867.6,526.8 L867.8,525.6 L868.0,524.4 L868.2,525.2 L868.4,526.4 L868.6,527.6 L868.8,528.8 L868.8,537.3 L868.6,537.6 L868.4,537.9 L868.2,538.1 L868.0,538.2 L867.8,538.6 L867.6,538.9 L867.4,539.1 L867.2,539.2 L867.0,539.3 L866.8,539.5 L866.6,540.7 L866.4,541.8 L866.2,542.9 L866.0,541.8 L865.8,540.6 L865.6,539.4 L865.4,539.3 L865.2,539.3 L865.0,539.3 L864.8,539.3 L864.6,539.3 L864.4,539.2 L864.2,538.9 L864.0,538.5 L863.8,538.0 L863.6,537.3 L863.4,536.4 L863.2,535.4 L863.0,534.2 L862.8,532.9 L862.6,531.4 L862.4,530.0 L862.2,528.5 L862.0,527.0 L861.8,525.5 L861.6,524.1 L861.4,522.6 L861.2,521.3 L861.0,519.9 L860.8,518.5 L860.6,517.1 L860.4,515.7 L860.2,514.3 L860.0,513.0 L859.8,511.7 L859.6,510.4 L859.4,509.3 L859.2,508.3 L859.0,507.5 L858.8,506.9 L858.6,506.5 L858.4,506.2 L858.2,506.0 L858.0,506.0 L857.8,505.9 L857.6,505.9 L857.4,505.8 L857.2,505.6 L857.0,505.5 L856.8,505.3 L856.6,505.2 L856.4,505.0 L856.2,504.9 L856.0,506.2 L855.8,506.6 L855.6,505.2 L855.4,504.5 L855.2,504.3 L855.0,504.2 L854.8,503.9 L854.6,503.9 L854.4,503.9 L854.2,503.9 L854.0,503.7 L853.8,503.4 L853.6,504.2 L853.4,506.1 L853.2,507.4 L853.0,505.4 L852.8,503.5 L852.6,501.5 L852.4,501.0 L852.2,500.9 L852.0,500.8 L851.8,500.8 L851.6,500.8 L851.4,500.7 L851.2,500.4 L851.0,500.2 L850.8,500.4 L850.6,500.8 L850.4,499.6 L850.2,499.3 L850.0,499.2 L849.8,499.1 L849.6,499.2 L849.4,499.5 L849.2,499.8 L849.0,500.3 L848.8,501.3 L848.6,502.3 L848.4,503.5 L848.2,504.7 L848.0,506.0 L847.8,507.1 L847.6,508.0 L847.4,509.2 L847.2,510.5 L847.0,511.7 L846.8,512.7 L846.6,513.4 L846.4,513.8 L846.2,514.2 L846.0,514.1 L845.8,514.0 L845.6,514.0 L845.4,514.0 L845.2,514.0 L845.0,514.0 L844.8,514.0 L844.6,514.0 L844.4,514.0 L844.2,514.0 L844.0,514.0 L843.8,513.8 L843.6,513.5 L843.4,512.9 L843.2,512.1 L843.0,511.2 L842.8,510.1 L842.6,508.8 L842.4,508.1 L842.2,507.4 L842.0,507.0 L841.8,507.2 L841.6,506.6 L841.4,506.0 L841.2,505.5 L841.0,504.5 L840.8,502.7 L840.6,501.0 L840.4,499.9 L840.2,499.8 L840.0,499.7 L839.8,499.7 L839.6,499.6 L839.4,499.6 L839.2,499.6 L839.0,499.5 L838.8,499.2 L838.6,498.8 L838.4,498.3 L838.2,496.9 L838.0,495.2 L837.8,493.5 L837.6,491.6 L837.4,489.6 L837.2,487.6 L837.0,485.7 L836.8,483.9 L836.6,482.2 L836.4,481.5 L836.2,480.9 L836.0,480.6 L835.8,480.5 L835.6,480.5 L835.4,480.7 L835.2,481.1 L835.0,481.5 L834.8,482.0 L834.6,483.1 L834.4,484.2 L834.2,485.3 L834.0,486.3 L833.8,487.1 L833.6,488.0 L833.4,489.4 L833.2,491.3 L833.0,493.2 L832.8,495.1 L832.6,495.3 L832.4,493.4 L832.2,492.1 L832.0,492.1 L831.8,492.1 L831.6,492.7 L831.4,493.8 L831.2,492.2 L831.0,492.4 L830.8,493.0 L830.6,492.1 L830.4,493.6 L830.2,494.5 L830.0,493.0 L829.8,491.6 L829.6,491.2 L829.4,490.5 L829.2,489.7 L829.0,489.0 L828.8,488.1 L828.6,487.3 L828.4,486.5 L828.2,485.8 L828.0,485.3 L827.8,484.9 L827.6,484.7 L827.4,484.7 L827.2,484.7 L827.0,484.8 L826.8,485.2 L826.6,485.8 L826.4,487.2 L826.2,488.4 L826.0,489.6 L825.8,490.8 L825.6,492.1 L825.4,493.3 L825.2,494.4 L825.0,494.8 L824.8,495.4 L824.6,495.8 L824.4,496.0 L824.2,496.0 L824.0,496.0 L823.8,496.8 L823.6,497.9 L823.4,498.9 L823.2,500.0 L823.0,501.1 L822.8,500.2 L822.6,499.1 L822.4,498.0 L822.2,497.6 L822.0,497.7 L821.8,496.7 L821.6,495.6 L821.4,494.7 L821.2,494.2 L821.0,493.6 L820.8,493.0 L820.6,492.3 L820.4,491.6 L820.2,491.0 L820.0,490.5 L819.8,490.2 L819.6,491.5 L819.4,492.8 L819.2,492.0 L819.0,490.7 L818.8,490.5 L818.6,489.6 L818.4,488.8 L818.2,488.6 L818.0,488.3 L817.8,488.0 L817.6,487.6 L817.4,487.2 L817.2,486.7 L817.0,486.2 L816.8,485.9 L816.6,485.6 L816.4,486.3 L816.2,485.7 L816.0,485.0 L815.8,484.9 L815.6,484.9 L815.4,484.9 L815.2,484.8 L815.0,484.7 L814.8,484.4 L814.6,484.1 L814.4,483.7 L814.2,483.4 L814.0,483.1 L813.8,482.8 L813.6,482.4 L813.4,482.3 L813.2,482.3 L813.0,482.3 L812.8,482.5 L812.6,482.6 L812.4,482.8 L812.2,482.9 L812.0,483.1 L811.8,484.0 L811.6,483.3 L811.4,483.3 L811.2,483.9 L811.0,483.5 L810.8,485.0 L810.6,485.3 L810.4,484.7 L810.2,485.1 L810.0,486.2 L809.8,485.5 L809.6,485.8 L809.4,486.5 L809.2,487.8 L809.0,489.0 L808.8,490.2 L808.6,491.4 L808.4,492.6 L808.2,492.6 L808.0,491.4 L807.8,490.2 L807.6,489.3 L807.4,489.3 L807.2,490.5 L807.0,489.3 L806.8,489.3 L806.6,489.5 L806.4,489.7 L806.2,489.8 L806.0,490.1 L805.8,490.3 L805.6,490.7 L805.4,491.0 L805.2,491.4 L805.0,491.7 L804.8,491.9 L804.6,492.1 L804.4,492.3 L804.2,492.6 L804.0,492.8 L803.8,493.1 L803.6,493.6 L803.4,494.4 L803.2,495.6 L803.0,496.8 L802.8,497.8 L802.6,498.7 L802.4,499.3 L802.2,500.2 L802.0,501.1 L801.8,501.7 L801.6,502.1 L801.4,502.3 L801.2,502.3 L801.0,502.3 L800.8,502.3 L800.6,502.3 L800.4,502.9 L800.2,504.2 L800.0,505.5 L799.8,505.8 L799.6,504.5 L799.4,503.2 L799.2,502.9 L799.0,503.2 L798.8,503.5 L798.6,503.7 L798.4,503.7 L798.2,503.7 L798.0,503.6 L797.8,503.5 L797.6,503.2 L797.4,502.9 L797.2,502.5 L797.0,502.1 L796.8,501.9 L796.6,501.8 L796.4,501.7 L796.2,501.7 L796.0,501.7 L795.8,501.7 L795.6,501.7 L795.4,501.7 L795.2,501.7 L795.0,500.6 L794.8,498.9 L794.6,497.1 L794.4,495.3 L794.2,493.6 L794.0,492.4 L793.8,491.2 L793.6,489.9 L793.4,488.5 L793.2,487.1 L793.0,486.1 L792.8,485.1 L792.6,485.0 L792.4,484.7 L792.2,484.6 L792.0,484.5 L791.8,484.4 L791.6,484.2 L791.4,485.3 L791.2,486.6 L791.0,488.0 L790.8,487.7 L790.6,486.4 L790.4,485.0 L790.2,483.7 L790.0,482.4 L789.8,482.6 L789.6,483.6 L789.4,483.7 L789.2,482.7 L789.0,481.7 L788.8,482.3 L788.6,481.6 L788.4,481.5 L788.2,482.1 L788.0,482.7 L787.8,483.3 L787.6,483.9 L787.4,484.5 L787.2,485.1 L787.0,485.6 L786.8,486.4 L786.6,487.2 L786.4,488.0 L786.2,488.8 L786.0,489.6 L785.8,490.4 L785.6,491.2 L785.4,492.0 L785.2,492.8 L785.0,493.8 L784.8,494.7 L784.6,495.5 L784.4,496.3 L784.2,497.0 L784.0,497.6 L783.8,498.2 L783.6,498.7 L783.4,499.2 L783.2,499.6 L783.0,500.0 L782.8,500.2 L782.6,500.4 L782.4,500.7 L782.2,501.2 L782.0,501.6 L781.8,502.1 L781.6,502.7 L781.4,503.4 L781.2,504.0 L781.0,504.6 L780.8,505.2 L780.6,505.7 L780.4,506.1 L780.2,506.4 L780.0,506.5 L779.8,506.6 L779.6,507.1 L779.4,507.5 L779.2,507.8 L779.0,508.0 L778.8,508.0 L778.6,508.0 L778.4,508.0 L778.2,508.0 L778.0,508.0 L777.8,508.0 L777.6,508.0 L777.4,508.0 L777.2,508.0 L777.0,508.0 L776.8,508.0 L776.6,509.0 L776.4,509.2 L776.2,507.7 L776.0,507.4 L775.8,507.0 L775.6,506.4 L775.4,505.8 L775.2,505.2 L775.0,504.5 L774.8,503.8 L774.6,503.1 L774.4,502.6 L774.2,502.4 L774.0,503.5 L773.8,504.0 L773.6,502.9 L773.4,501.8 L773.2,502.6 L773.0,503.0 L772.8,501.8 L772.6,500.8 L772.4,500.8 L772.2,500.8 L772.0,500.8 L771.8,500.8 L771.6,500.8 L771.4,500.8 L771.2,501.3 L771.0,502.3 L770.8,503.4 L770.6,504.4 L770.4,503.4 L770.2,502.4 L770.0,501.3 L769.8,502.6 L769.6,501.3 L769.4,500.7 L769.2,500.4 L769.0,500.0 L768.8,499.5 L768.6,498.8 L768.4,498.7 L768.2,498.6 L768.0,498.6 L767.8,500.5 L767.6,498.6 L767.4,498.5 L767.2,498.2 L767.0,497.8 L766.8,497.1 L766.6,496.3 L766.4,495.7 L766.2,495.2 L766.0,494.5 L765.8,493.6 L765.6,492.7 L765.4,491.8 L765.2,491.4 L765.0,491.6 L764.8,492.3 L764.6,493.2 L764.4,494.2 L764.2,495.1 L764.0,495.8 L763.8,496.4 L763.6,497.5 L763.4,498.4 L763.2,499.1 L763.0,499.6 L762.8,499.9 L762.6,500.0 L762.4,500.0 L762.2,500.0 L762.0,500.0 L761.8,500.0 L761.6,500.1 L761.4,500.3 L761.2,500.5 L761.0,500.8 L760.8,501.2 L760.6,501.5 L760.4,502.0 L760.2,502.6 L760.0,503.3 L759.8,504.1 L759.6,504.8 L759.4,505.9 L759.2,506.0 L759.0,506.6 L758.8,507.1 L758.6,507.5 L758.4,507.8 L758.2,508.8 L758.0,510.0 L757.8,511.1 L757.6,512.2 L757.4,511.5 L757.2,510.3 L757.0,509.2 L756.8,508.1 L756.6,508.0 L756.4,508.0 L756.2,508.0 L756.0,508.0 L755.8,507.9 L755.6,507.5 L755.4,507.1 L755.2,506.4 L755.0,505.6 L754.8,504.6 L754.6,503.6 L754.4,502.3 L754.2,501.1 L754.0,499.9 L753.8,499.0 L753.6,498.1 L753.4,497.6 L753.2,497.1 L753.0,496.8 L752.8,496.3 L752.6,495.3 L752.4,494.4 L752.2,493.4 L752.0,492.3 L751.8,491.3 L751.6,490.2 L751.4,489.0 L751.2,487.9 L751.0,486.9 L750.8,486.7 L750.6,486.2 L750.4,485.6 L750.2,484.8 L750.0,484.0 L749.8,483.7 L749.6,483.3 L749.4,482.7 L749.2,482.0 L749.0,481.1 L748.8,480.0 L748.6,479.0 L748.4,477.9 L748.2,476.9 L748.0,476.0 L747.8,475.5 L747.6,475.4 L747.4,475.4 L747.2,475.4 L747.0,475.5 L746.8,475.5 L746.6,475.4 L746.4,475.2 L746.2,475.0 L746.0,476.3 L745.8,478.0 L745.6,476.4 L745.4,474.8 L745.2,473.1 L745.0,472.6 L744.8,472.3 L744.6,472.0 L744.4,471.8 L744.2,471.6 L744.0,471.6 L743.8,471.6 L743.6,471.6 L743.4,471.9 L743.2,472.8 L743.0,473.9 L742.8,475.0 L742.6,476.5 L742.4,478.3 L742.2,480.1 L742.0,482.0 L741.8,483.8 L741.6,482.8 L741.4,482.3 L741.2,482.3 L741.0,482.3 L740.8,482.0 L740.6,482.2 L740.4,482.8 L740.2,482.0 L740.0,482.0 L739.8,482.0 L739.6,482.0 L739.4,482.0 L739.2,482.0 L739.0,482.0 L738.8,482.0 L738.6,482.0 L738.4,481.7 L738.2,481.3 L738.0,480.8 L737.8,480.4 L737.6,479.9 L737.4,481.2 L737.2,482.5 L737.0,481.3 L736.8,479.9 L736.6,478.5 L736.4,478.1 L736.2,478.1 L736.0,478.2 L735.8,478.3 L735.6,478.5 L735.4,479.0 L735.2,479.4 L735.0,480.0 L734.8,480.8 L734.6,481.9 L734.4,483.1 L734.2,484.4 L734.0,485.8 L733.8,487.2 L733.6,488.3 L733.4,489.4 L733.2,490.3 L733.0,491.0 L732.8,491.5 L732.6,491.8 L732.4,492.0 L732.2,492.0 L732.0,492.1 L731.8,492.3 L731.6,492.6 L731.4,492.8 L731.2,493.2 L731.0,493.5 L730.8,493.9 L730.6,494.2 L730.4,494.6 L730.2,494.8 L730.0,495.0 L729.8,495.1 L729.6,495.2 L729.4,495.2 L729.2,495.3 L729.0,495.3 L728.8,495.4 L728.6,495.6 L728.4,495.8 L728.2,496.3 L728.0,497.0 L727.8,498.1 L727.6,499.3 L727.4,500.4 L727.2,501.6 L727.0,502.8 L726.8,503.9 L726.6,505.1 L726.4,505.7 L726.2,504.6 L726.0,503.4 L725.8,502.3 L725.6,501.2 L725.4,501.2 L725.2,501.2 L725.0,501.2 L724.8,501.2 L724.6,501.2 L724.4,501.2 L724.2,501.2 L724.0,501.2 L723.8,501.0 L723.6,500.7 L723.4,500.1 L723.2,499.3 L723.0,498.2 L722.8,496.9 L722.6,495.4 L722.4,493.8 L722.2,492.2 L722.0,490.7 L721.8,489.2 L721.6,488.0 L721.4,487.0 L721.2,486.4 L721.0,486.1 L720.8,486.1 L720.6,487.3 L720.4,486.8 L720.2,487.1 L720.0,488.0 L719.8,488.9 L719.6,489.8 L719.4,490.5 L719.2,491.2 L719.0,491.7 L718.8,492.3 L718.6,492.6 L718.4,492.8 L718.2,492.8 L718.0,492.8 L717.8,492.8 L717.6,492.8 L717.4,492.8 L717.2,492.8 L717.0,492.8 L716.8,492.8 L716.6,492.8 L716.4,492.8 L716.2,492.9 L716.0,493.0 L715.8,493.8 L715.6,493.2 L715.4,492.8 L715.2,492.6 L715.0,494.1 L714.8,494.3 L714.6,492.5 L714.4,490.6 L714.2,488.7 L714.0,488.1 L713.8,487.6 L713.6,487.6 L713.4,487.6 L713.2,487.9 L713.0,488.2 L712.8,488.8 L712.6,490.0 L712.4,490.8 L712.2,490.3 L712.0,490.6 L711.8,490.6 L711.6,490.5 L711.4,490.2 L711.2,489.6 L711.0,489.0 L710.8,488.3 L710.6,487.6 L710.4,486.9 L710.2,486.2 L710.0,485.5 L709.8,484.9 L709.6,484.5 L709.4,484.4 L709.2,483.9 L709.0,481.9 L708.8,479.7 L708.6,477.4 L708.4,475.1 L708.2,472.6 L708.0,470.2 L707.8,467.8 L707.6,466.4 L707.4,465.2 L707.2,464.0 L707.0,462.8 L706.8,463.6 L706.6,465.0 L706.4,464.0 L706.2,462.7 L706.0,461.7 L705.8,461.8 L705.6,462.1 L705.4,462.4 L705.2,462.8 L705.0,463.3 L704.8,464.1 L704.6,465.1 L704.4,466.7 L704.2,466.3 L704.0,467.0 L703.8,467.5 L703.6,468.0 L703.4,468.5 L703.2,468.8 L703.0,468.9 L702.8,469.0 L702.6,469.0 L702.4,469.2 L702.2,470.5 L702.0,469.8 L701.8,469.3 L701.6,469.4 L701.4,469.4 L701.2,469.4 L701.0,469.4 L700.8,469.4 L700.6,469.2 L700.4,468.8 L700.2,469.5 L700.0,467.6 L699.8,467.0 L699.6,466.4 L699.4,466.2 L699.2,465.5 L699.0,464.8 L698.8,464.5 L698.6,464.3 L698.4,464.2 L698.2,464.0 L698.0,463.7 L697.8,463.2 L697.6,462.8 L697.4,462.3 L697.2,461.9 L697.0,461.5 L696.8,461.1 L696.6,460.8 L696.4,460.6 L696.2,460.6 L696.0,460.6 L695.8,460.6 L695.6,460.6 L695.4,460.6 L695.2,460.5 L695.0,460.3 L694.8,460.0 L694.6,460.2 L694.4,459.2 L694.2,458.8 L694.0,458.2 L693.8,457.7 L693.6,457.2 L693.4,456.7 L693.2,456.4 L693.0,456.2 L692.8,456.0 L692.6,455.8 L692.4,455.8 L692.2,455.8 L692.0,455.8 L691.8,455.8 L691.6,455.8 L691.4,455.8 L691.2,455.8 L691.0,455.8 L690.8,455.7 L690.6,455.4 L690.4,454.9 L690.2,454.3 L690.0,453.6 L689.8,452.7 L689.6,451.7 L689.4,450.6 L689.2,449.5 L689.0,448.4 L688.8,447.4 L688.6,446.4 L688.4,445.5 L688.2,444.6 L688.0,443.8 L687.8,443.0 L687.6,442.1 L687.4,441.2 L687.2,440.3 L687.0,439.4 L686.8,438.4 L686.6,437.4 L686.4,436.3 L686.2,435.3 L686.0,434.2 L685.8,433.3 L685.6,432.5 L685.4,431.9 L685.2,431.3 L685.0,432.7 L684.8,431.8 L684.6,430.6 L684.4,431.0 L684.2,431.4 L684.0,431.8 L683.8,432.3 L683.6,432.7 L683.4,433.2 L683.2,433.6 L683.0,433.9 L682.8,434.1 L682.6,435.5 L682.4,436.4 L682.2,434.4 L682.0,434.1 L681.8,434.1 L681.6,434.1 L681.4,434.1 L681.2,434.1 L681.0,434.1 L680.8,434.1 L680.6,434.1 L680.4,433.8 L680.2,433.1 L680.0,432.0 L679.8,430.5 L679.6,428.6 L679.4,426.5 L679.2,424.5 L679.0,422.4 L678.8,420.4 L678.6,418.6 L678.4,417.2 L678.2,416.4 L678.0,416.0 L677.8,416.2 L677.6,416.6 L677.4,417.0 L677.2,417.6 L677.0,418.2 L676.8,419.0 L676.6,419.8 L676.4,420.6 L676.2,421.4 L676.0,422.2 L675.8,422.9 L675.6,423.7 L675.4,424.5 L675.2,425.4 L675.0,426.2 L674.8,427.1 L674.6,427.9 L674.4,428.7 L674.2,429.8 L674.0,431.5 L673.8,433.7 L673.6,435.9 L673.4,437.9 L673.2,439.9 L673.0,441.8 L672.8,443.6 L672.6,445.3 L672.4,446.3 L672.2,446.6 L672.0,446.6 L671.8,446.6 L671.6,446.6 L671.4,446.6 L671.2,446.6 L671.0,446.6 L670.8,446.6 L670.6,447.0 L670.4,446.6 L670.2,446.6 L670.0,446.6 L669.8,446.5 L669.6,446.3 L669.4,446.0 L669.2,445.6 L669.0,445.2 L668.8,444.8 L668.6,444.2 L668.4,443.6 L668.2,443.0 L668.0,442.0 L667.8,440.7 L667.6,439.1 L667.4,437.2 L667.2,435.2 L667.0,433.2 L666.8,431.2 L666.6,429.5 L666.4,428.2 L666.2,426.8 L666.0,424.9 L665.8,424.4 L665.6,424.6 L665.4,426.1 L665.2,427.5 L665.0,429.0 L664.8,430.4 L664.6,431.9 L664.4,433.3 L664.2,434.8 L664.0,436.2 L663.8,437.7 L663.6,439.1 L663.4,440.6 L663.2,442.1 L663.0,443.5 L662.8,444.5 L662.6,443.0 L662.4,441.5 L662.2,441.0 L662.0,441.0 L661.8,441.0 L661.6,441.0 L661.4,441.0 L661.2,441.0 L661.0,441.0 L660.8,441.0 L660.6,441.0 L660.4,440.6 L660.2,439.7 L660.0,438.3 L659.8,436.6 L659.6,434.3 L659.4,432.0 L659.2,429.5 L659.0,426.8 L658.8,424.2 L658.6,422.0 L658.4,420.2 L658.2,418.9 L658.0,418.2 L657.8,417.8 L657.6,417.7 L657.4,417.8 L657.2,418.0 L657.0,418.2 L656.8,418.5 L656.6,418.7 L656.4,418.9 L656.2,419.0 L656.0,419.1 L655.8,419.0 L655.6,418.9 L655.4,418.7 L655.2,418.6 L655.0,418.5 L654.8,418.4 L654.6,418.3 L654.4,418.1 L654.2,418.0 L654.0,418.0 L653.8,418.0 L653.6,417.1 L653.4,415.1 L653.2,412.7 L653.0,410.1 L652.8,407.1 L652.6,403.7 L652.4,400.2 L652.2,396.5 L652.0,392.5 L651.8,389.3 L651.6,387.0 L651.4,385.2 L651.2,384.1 L651.0,383.1 L650.8,382.4 L650.6,381.3 L650.4,380.2 L650.2,379.3 L650.0,378.6 L649.8,378.0 L649.6,377.5 L649.4,377.0 L649.2,376.4 L649.0,375.8 L648.8,375.1 L648.6,374.4 L648.4,373.6 L648.2,373.0 L648.0,372.8 L647.8,372.6 L647.6,372.4 L647.4,373.0 L647.2,374.5 L647.0,376.0 L646.8,377.5 L646.6,379.0 L646.4,380.6 L646.2,382.1 L646.0,382.8 L645.8,381.3 L645.6,379.7 L645.4,378.2 L645.2,377.8 L645.0,378.7 L644.8,379.4 L644.6,379.8 L644.4,380.0 L644.2,380.0 L644.0,380.0 L643.8,380.0 L643.6,380.0 L643.4,380.0 L643.2,380.0 L643.0,380.0 L642.8,380.0 L642.6,380.0 L642.4,380.0 L642.2,380.0 L642.0,379.9 L641.8,379.7 L641.6,379.5 L641.4,379.1 L641.2,378.7 L641.0,378.2 L640.8,377.7 L640.6,377.6 L640.4,377.4 L640.2,377.2 L640.0,376.9 L639.8,376.5 L639.6,376.0 L639.4,375.4 L639.2,374.6 L639.0,373.7 L638.8,372.7 L638.6,371.6 L638.4,371.1 L638.2,370.8 L638.0,370.4 L637.8,370.1 L637.6,369.9 L637.4,369.5 L637.2,369.1 L637.0,368.7 L636.8,368.8 L636.6,369.5 L636.4,367.9 L636.2,367.7 L636.0,367.6 L635.8,367.5 L635.6,367.7 L635.4,367.9 L635.2,368.2 L635.0,368.5 L634.8,368.8 L634.6,369.2 L634.4,369.6 L634.2,370.1 L634.0,371.0 L633.8,372.0 L633.6,372.7 L633.4,373.4 L633.2,373.6 L633.0,373.6 L632.8,374.0 L632.6,374.4 L632.4,374.7 L632.2,374.8 L632.0,375.8 L631.8,375.0 L631.6,374.8 L631.4,374.8 L631.2,374.8 L631.0,374.8 L630.8,374.8 L630.6,374.8 L630.4,375.8 L630.2,376.4 L630.0,374.8 L629.8,374.3 L629.6,373.5 L629.4,372.7 L629.2,371.9 L629.0,371.1 L628.8,370.2 L628.6,369.4 L628.4,368.5 L628.2,367.6 L628.0,367.3 L627.8,367.2 L627.6,368.0 L627.4,368.8 L627.2,368.2 L627.0,367.3 L626.8,366.9 L626.6,366.9 L626.4,366.9 L626.2,367.2 L626.0,368.1 L625.8,369.1 L625.6,370.0 L625.4,371.0 L625.2,371.9 L625.0,372.7 L624.8,371.8 L624.6,370.8 L624.4,369.9 L624.2,368.9 L624.0,368.0 L623.8,368.2 L623.6,368.6 L623.4,368.9 L623.2,369.3 L623.0,369.6 L622.8,369.9 L622.6,370.2 L622.4,370.2 L622.2,370.2 L622.0,370.2 L621.8,371.1 L621.6,372.4 L621.4,373.7 L621.2,373.7 L621.0,374.0 L620.8,375.3 L620.6,376.6 L620.4,376.8 L620.2,375.5 L620.0,374.2 L619.8,372.9 L619.6,371.6 L619.4,372.5 L619.2,373.8 L619.0,375.2 L618.8,376.6 L618.6,378.0 L618.4,379.4 L618.2,380.8 L618.0,382.2 L617.8,383.1 L617.6,383.3 L617.4,383.9 L617.2,384.9 L617.0,385.8 L616.8,386.7 L616.6,387.6 L616.4,388.4 L616.2,389.2 L616.0,390.0 L615.8,390.7 L615.6,391.1 L615.4,391.7 L615.2,392.0 L615.0,391.4 L614.8,392.6 L614.6,391.1 L614.4,391.1 L614.2,391.1 L614.0,391.1 L613.8,391.1 L613.6,391.1 L613.4,391.1 L613.2,391.1 L613.0,391.0 L612.8,390.9 L612.6,390.8 L612.4,390.7 L612.2,390.8 L612.0,390.8 L611.8,390.8 L611.6,390.9 L611.4,391.1 L611.2,392.0 L611.0,392.6 L610.8,392.3 L610.6,392.8 L610.4,393.3 L610.2,393.6 L610.0,393.9 L609.8,394.5 L609.6,394.9 L609.4,395.3 L609.2,395.6 L609.0,395.8 L608.8,396.4 L608.6,397.8 L608.4,399.2 L608.2,400.5 L608.0,400.3 L607.8,398.9 L607.6,397.6 L607.4,396.6 L607.2,396.6 L607.0,397.1 L606.8,398.2 L606.6,399.3 L606.4,400.4 L606.2,401.0 L606.0,399.9 L605.8,398.8 L605.6,397.7 L605.4,396.7 L605.2,396.7 L605.0,396.7 L604.8,396.7 L604.6,396.7 L604.4,396.7 L604.2,396.8 L604.0,396.8 L603.8,396.8 L603.6,396.7 L603.4,396.7 L603.2,396.6 L603.0,396.6 L602.8,396.5 L602.6,396.4 L602.4,396.4 L602.2,396.3 L602.0,396.3 L601.8,396.3 L601.6,396.3 L601.4,396.3 L601.2,396.3 L601.0,396.4 L600.8,396.7 L600.6,397.1 L600.4,397.3 L600.2,399.0 L600.0,400.9 L599.8,402.9 L599.6,401.2 L599.4,399.4 L599.2,399.9 L599.0,400.6 L598.8,401.3 L598.6,402.0 L598.4,402.8 L598.2,403.4 L598.0,403.8 L597.8,404.2 L597.6,405.9 L597.4,404.8 L597.2,405.1 L597.0,405.2 L596.8,405.3 L596.6,405.4 L596.4,406.7 L596.2,405.4 L596.0,405.4 L595.8,405.4 L595.6,405.4 L595.4,405.4 L595.2,405.4 L595.0,405.4 L594.8,405.4 L594.6,405.4 L594.4,405.4 L594.2,405.3 L594.0,405.1 L593.8,404.9 L593.6,404.6 L593.4,404.3 L593.2,404.0 L593.0,404.3 L592.8,403.4 L592.6,403.0 L592.4,402.7 L592.2,402.3 L592.0,402.2 L591.8,402.2 L591.6,402.4 L591.4,403.3 L591.2,404.1 L591.0,403.4 L590.8,402.8 L590.6,403.1 L590.4,403.4 L590.2,403.6 L590.0,403.8 L589.8,405.0 L589.6,406.4 L589.4,407.8 L589.2,408.1 L589.0,406.7 L588.8,405.4 L588.6,404.7 L588.4,405.7 L588.2,406.6 L588.0,406.5 L587.8,405.5 L587.6,404.6 L587.4,404.3 L587.2,404.3 L587.0,404.3 L586.8,404.3 L586.6,404.8 L586.4,405.6 L586.2,404.0 L586.0,403.6 L585.8,403.2 L585.6,402.7 L585.4,402.2 L585.2,401.6 L585.0,400.9 L584.8,400.2 L584.6,399.4 L584.4,398.6 L584.2,397.9 L584.0,397.3 L583.8,396.7 L583.6,396.6 L583.4,395.9 L583.2,396.6 L583.0,397.6 L582.8,398.6 L582.6,399.7 L582.4,400.7 L582.2,400.7 L582.0,399.7 L581.8,398.6 L581.6,399.2 L581.4,399.2 L581.2,397.8 L581.0,397.8 L580.8,397.8 L580.6,397.8 L580.4,397.8 L580.2,397.8 L580.0,397.8 L579.8,397.8 L579.6,397.8 L579.4,398.6 L579.2,398.0 L579.0,397.8 L578.8,397.8 L578.6,398.5 L578.4,399.7 L578.2,401.0 L578.0,399.8 L577.8,398.5 L577.6,398.3 L577.4,399.2 L577.2,400.1 L577.0,401.0 L576.8,401.9 L576.6,402.8 L576.4,403.6 L576.2,404.5 L576.0,405.4 L575.8,405.8 L575.6,405.8 L575.4,405.8 L575.2,405.8 L575.0,405.9 L574.8,406.1 L574.6,406.4 L574.4,406.8 L574.2,407.2 L574.0,407.6 L573.8,408.0 L573.6,408.5 L573.4,408.9 L573.2,409.1 L573.0,409.3 L572.8,409.2 L572.6,409.0 L572.4,408.7 L572.2,408.4 L572.0,408.1 L571.8,407.9 L571.6,407.6 L571.4,407.3 L571.2,407.1 L571.0,407.0 L570.8,407.0 L570.6,407.0 L570.4,407.0 L570.2,407.0 L570.0,406.9 L569.8,406.8 L569.6,406.7 L569.4,406.4 L569.2,406.0 L569.0,405.7 L568.8,405.2 L568.6,404.6 L568.4,403.9 L568.2,403.2 L568.0,402.5 L567.8,402.4 L567.6,404.1 L567.4,402.4 L567.2,402.9 L567.0,404.3 L566.8,405.7 L566.6,407.2 L566.4,406.8 L566.2,405.4 L566.0,404.0 L565.8,402.5 L565.6,401.1 L565.4,399.8 L565.2,399.3 L565.0,398.7 L564.8,398.0 L564.6,397.1 L564.4,396.2 L564.2,395.1 L564.0,393.9 L563.8,392.6 L563.6,391.1 L563.4,390.2 L563.2,389.4 L563.0,388.9 L562.8,388.9 L562.6,387.7 L562.4,387.3 L562.2,387.1 L562.0,387.1 L561.8,387.1 L561.6,387.2 L561.4,387.2 L561.2,387.3 L561.0,387.4 L560.8,388.2 L560.6,389.0 L560.4,389.8 L560.2,390.6 L560.0,391.5 L559.8,392.3 L559.6,393.1 L559.4,394.0 L559.2,395.0 L559.0,396.0 L558.8,396.8 L558.6,397.6 L558.4,399.1 L558.2,400.5 L558.0,401.9 L557.8,403.3 L557.6,404.3 L557.4,402.9 L557.2,403.0 L557.0,403.8 L556.8,403.9 L556.6,403.1 L556.4,402.3 L556.2,401.4 L556.0,401.2 L555.8,401.2 L555.6,401.2 L555.4,402.0 L555.2,403.7 L555.0,404.9 L554.8,403.2 L554.6,401.5 L554.4,399.8 L554.2,398.1 L554.0,396.7 L553.8,395.4 L553.6,394.2 L553.4,392.9 L553.2,391.9 L553.0,391.1 L552.8,390.4 L552.6,390.0 L552.4,391.5 L552.2,392.4 L552.0,390.9 L551.8,389.5 L551.6,389.5 L551.4,389.4 L551.2,389.4 L551.0,389.4 L550.8,389.4 L550.6,389.4 L550.4,389.4 L550.2,389.4 L550.0,389.4 L549.8,389.4 L549.6,389.4 L549.4,389.3 L549.2,389.1 L549.0,389.0 L548.8,388.9 L548.6,388.7 L548.4,388.6 L548.2,388.4 L548.0,388.2 L547.8,388.0 L547.6,388.0 L547.4,387.9 L547.2,388.0 L547.0,388.1 L546.8,388.6 L546.6,389.8 L546.4,391.1 L546.2,392.8 L546.0,394.1 L545.8,395.3 L545.6,397.1 L545.4,398.8 L545.2,400.5 L545.0,402.1 L544.8,403.2 L544.6,403.9 L544.4,404.2 L544.2,404.2 L544.0,404.2 L543.8,404.2 L543.6,404.2 L543.4,404.2 L543.2,404.2 L543.0,404.2 L542.8,404.2 L542.6,404.2 L542.4,404.3 L542.2,404.6 L542.0,404.7 L541.8,404.8 L541.6,405.6 L541.4,407.2 L541.2,406.2 L541.0,405.3 L540.8,405.8 L540.6,405.5 L540.4,405.4 L540.2,405.4 L540.0,406.0 L539.8,407.5 L539.6,407.6 L539.4,406.1 L539.2,405.5 L539.0,405.6 L538.8,405.9 L538.6,406.5 L538.4,407.0 L538.2,407.5 L538.0,408.0 L537.8,408.4 L537.6,408.8 L537.4,409.8 L537.2,410.9 L537.0,412.0 L536.8,413.2 L536.6,414.3 L536.4,415.4 L536.2,416.6 L536.0,417.7 L535.8,418.7 L535.6,417.5 L535.4,416.4 L535.2,415.3 L535.0,414.1 L534.8,413.7 L534.6,414.5 L534.4,415.3 L534.2,415.8 L534.0,416.3 L533.8,416.6 L533.6,416.9 L533.4,417.1 L533.2,417.2 L533.0,418.0 L532.8,417.9 L532.6,417.2 L532.4,417.2 L532.2,417.2 L532.0,418.2 L531.8,419.3 L531.6,420.4 L531.4,421.5 L531.2,422.7 L531.0,422.5 L530.8,421.4 L530.6,420.2 L530.4,419.1 L530.2,418.0 L530.0,416.9 L529.8,415.9 L529.6,415.0 L529.4,414.3 L529.2,413.6 L529.0,412.8 L528.8,412.1 L528.6,411.5 L528.4,411.1 L528.2,410.7 L528.0,410.4 L527.8,410.2 L527.6,409.5 L527.4,408.2 L527.2,406.8 L527.0,405.2 L526.8,403.5 L526.6,401.6 L526.4,400.3 L526.2,399.2 L526.0,398.2 L525.8,397.1 L525.6,396.1 L525.4,395.1 L525.2,394.1 L525.0,393.0 L524.8,392.2 L524.6,391.6 L524.4,390.9 L524.2,390.7 L524.0,390.6 L523.8,390.5 L523.6,390.5 L523.4,390.5 L523.2,390.4 L523.0,390.1 L522.8,389.7 L522.6,389.2 L522.4,388.8 L522.2,388.6 L522.0,388.2 L521.8,387.7 L521.6,387.1 L521.4,386.5 L521.2,386.0 L521.0,385.5 L520.8,385.4 L520.6,386.6 L520.4,385.2 L520.2,384.7 L520.0,384.8 L519.8,384.9 L519.6,385.0 L519.4,385.2 L519.2,385.3 L519.0,385.6 L518.8,386.5 L518.6,386.7 L518.4,388.2 L518.2,389.8 L518.0,389.5 L517.8,387.9 L517.6,388.8 L517.4,390.2 L517.2,390.4 L517.0,389.0 L516.8,389.0 L516.6,389.3 L516.4,389.5 L516.2,389.9 L516.0,389.9 L515.8,390.0 L515.6,390.1 L515.4,390.7 L515.2,391.9 L515.0,391.9 L514.8,390.7 L514.6,390.6 L514.4,390.9 L514.2,391.3 L514.0,391.8 L513.8,392.5 L513.6,393.2 L513.4,394.1 L513.2,395.2 L513.0,396.2 L512.8,397.1 L512.6,397.8 L512.4,398.7 L512.2,400.0 L512.0,401.1 L511.8,402.1 L511.6,402.6 L511.4,402.6 L511.2,402.6 L511.0,403.0 L510.8,404.1 L510.6,405.1 L510.4,405.9 L510.2,404.9 L510.0,403.8 L509.8,402.8 L509.6,402.6 L509.4,402.6 L509.2,402.6 L509.0,402.2 L508.8,401.3 L508.6,400.2 L508.4,398.9 L508.2,397.5 L508.0,395.9 L507.8,394.2 L507.6,392.4 L507.4,390.6 L507.2,389.1 L507.0,388.0 L506.8,387.0 L506.6,386.1 L506.4,385.3 L506.2,384.6 L506.0,383.8 L505.8,383.1 L505.6,382.6 L505.4,382.0 L505.2,382.9 L505.0,383.1 L504.8,381.7 L504.6,381.0 L504.4,381.2 L504.2,381.7 L504.0,382.3 L503.8,383.1 L503.6,384.1 L503.4,385.2 L503.2,386.4 L503.0,387.8 L502.8,389.1 L502.6,390.4 L502.4,391.6 L502.2,392.7 L502.0,393.8 L501.8,394.8 L501.6,395.7 L501.4,396.6 L501.2,397.4 L501.0,398.2 L500.8,399.0 L500.6,399.8 L500.4,400.6 L500.2,401.4 L500.0,402.2 L499.8,403.0 L499.6,403.8 L499.4,404.7 L499.2,405.6 L499.0,406.5 L498.8,407.3 L498.6,407.8 L498.4,408.2 L498.2,408.7 L498.0,409.2 L497.8,409.5 L497.6,409.9 L497.4,410.2 L497.2,410.4 L497.0,411.0 L496.8,410.7 L496.6,410.8 L496.4,410.9 L496.2,411.0 L496.0,411.2 L495.8,412.0 L495.6,411.4 L495.4,411.3 L495.2,411.3Z" fill="#0d355a" stroke="none"/>
<path d="M196.80,291.3 L197.07,289.6 L197.33,287.2 L197.60,285.1 L197.85,286.0 L198.10,288.4 L198.35,288.8 L198.60,290.2 L198.85,289.3 L199.10,286.5 L199.35,286.3 L199.60,284.5 L199.87,287.7 L200.13,291.6 L200.40,293.7 L200.65,293.2 L200.90,289.9 L201.15,284.3 L201.40,283.9 L201.64,286.2 L201.88,284.2 L202.12,287.1 L202.36,289.0 L202.60,289.0 L202.85,290.8 L203.10,290.3 L203.35,294.0 L203.60,297.1 L203.85,299.8 L204.10,304.0 L204.35,303.4 L204.60,305.7 L204.85,306.7 L205.10,309.6 L205.35,312.2 L205.60,313.8 L205.85,314.9 L206.10,315.8 L206.35,317.0 L206.60,322.6 L206.87,315.5 L207.13,316.6 L207.40,317.9 L207.70,330.8 L208.00,334.5 L208.27,336.3 L208.53,338.1 L208.80,341.9 L209.10,341.6 L209.40,340.6 L209.65,344.4 L209.90,344.8 L210.15,346.1 L210.40,348.3 L210.67,345.3 L210.93,340.2 L211.20,336.4 L211.45,335.8 L211.70,332.5 L211.95,330.5 L212.20,330.2 L212.47,328.9 L212.73,324.5 L213.00,323.6 L213.30,323.6 L213.60,328.1 L213.87,327.4 L214.13,323.0 L214.40,316.8 L214.65,312.8 L214.90,308.8 L215.15,308.8 L215.40,303.3 L215.65,304.8 L215.90,306.9 L216.15,308.3 L216.40,308.6 L216.64,306.8 L216.88,306.3 L217.12,306.1 L217.36,307.3 L217.60,306.5 L217.85,309.1 L218.10,312.4 L218.35,312.9 L218.60,313.4 L218.85,313.9 L219.10,316.1 L219.35,315.8 L219.60,317.1 L219.83,316.5 L220.07,315.5 L220.30,313.6 L220.53,314.3 L220.77,313.1 L221.00,312.2 L221.27,309.4 L221.53,306.8 L221.80,302.9 L222.05,299.8 L222.30,297.6 L222.53,298.7 L222.75,300.4 L222.97,299.5 L223.20,302.5 L223.47,303.4 L223.73,305.5 L224.00,305.1 L224.30,309.0 L224.60,312.5 L224.85,311.8 L225.10,311.1 L225.35,309.5 L225.60,308.5 L225.87,307.3 L226.13,308.7 L226.40,306.6 L226.65,306.9 L226.90,308.6 L227.15,306.4 L227.40,306.7 L227.70,305.3 L228.00,307.3 L228.27,303.4 L228.53,298.9 L228.80,298.5 L229.07,298.2 L229.33,291.5 L229.60,291.1 L229.84,284.3 L230.08,286.7 L230.32,288.4 L230.56,281.3 L230.80,281.0 L231.06,280.3 L231.31,279.3 L231.57,278.6 L231.83,274.7 L232.09,274.0 L232.34,275.8 L232.60,273.1 L232.84,272.6 L233.08,267.3 L233.32,268.2 L233.56,267.3 L233.80,266.6 L234.04,266.4 L234.28,265.8 L234.52,265.6 L234.76,266.1 L235.00,266.9 L235.24,266.5 L235.48,265.8 L235.72,266.0 L235.96,266.4 L236.20,264.5 L236.44,263.9 L236.68,264.1 L236.92,264.2 L237.16,265.8 L237.40,265.1 L237.67,265.9 L237.93,264.7 L238.20,264.5 L238.40,267.6 L238.60,271.4 L238.80,273.8 L239.00,279.0 L239.23,278.4 L239.47,276.7 L239.70,276.8 L239.93,276.1 L240.17,273.4 L240.40,273.2 L240.64,271.9 L240.88,270.7 L241.12,269.7 L241.36,269.0 L241.60,267.6 L241.87,264.9 L242.13,260.8 L242.40,259.1 L242.65,261.3 L242.90,262.5 L243.15,266.4 L243.40,267.2 L243.64,268.5 L243.88,268.5 L244.12,269.0 L244.36,269.0 L244.60,268.7 L244.90,273.0 L245.20,275.6 L245.44,273.4 L245.68,271.5 L245.92,266.6 L246.16,265.7 L246.40,263.2 L246.64,261.5 L246.88,259.8 L247.12,261.3 L247.36,259.2 L247.60,255.3 L247.84,254.4 L248.08,254.0 L248.32,252.8 L248.56,251.9 L248.80,250.7 L249.04,249.7 L249.28,248.6 L249.52,249.3 L249.76,248.8 L250.00,247.0 L250.25,244.9 L250.50,246.5 L250.75,243.0 L251.00,243.0 L251.27,242.8 L251.53,242.4 L251.80,240.5 L252.00,236.7 L252.20,231.8 L252.47,230.9 L252.73,232.1 L253.00,235.8 L253.30,235.9 L253.60,234.0 L253.84,234.0 L254.08,233.8 L254.32,233.8 L254.56,235.3 L254.80,235.3 L255.04,235.4 L255.28,236.6 L255.52,236.1 L255.76,236.0 L256.00,237.1 L256.25,238.0 L256.50,238.7 L256.75,239.5 L257.00,239.9 L257.27,242.2 L257.53,242.7 L257.80,243.1 L258.10,240.0 L258.40,239.0 L258.70,236.4 L259.00,235.6 L259.25,235.4 L259.50,232.4 L259.75,231.4 L260.00,231.2 L260.27,230.5 L260.53,229.7 L260.80,227.5 L261.07,223.8 L261.33,222.1 L261.60,220.4 L261.90,216.4 L262.20,215.8 L262.47,215.0 L262.73,214.9 L263.00,214.9 L263.27,214.4 L263.53,214.5 L263.80,215.5 L264.10,216.2 L264.40,220.6 L264.70,222.3 L265.00,225.6 L265.25,226.0 L265.50,226.9 L265.75,227.7 L266.00,230.0 L266.25,230.8 L266.50,232.9 L266.75,235.3 L267.00,236.0 L267.25,238.4 L267.50,239.8 L267.75,241.2 L268.00,242.0 L268.30,246.0 L268.60,250.8 L268.90,251.7 L269.20,258.4 L269.40,260.2 L269.60,268.0 L269.87,270.2 L270.13,269.0 L270.40,271.5 L270.67,274.8 L270.93,279.4 L271.20,285.8 L271.50,288.5 L271.80,295.3 L272.03,298.1 L272.27,302.8 L272.50,305.5 L272.73,306.3 L272.97,307.7 L273.20,314.6 L273.45,311.8 L273.70,315.3 L273.95,310.9 L274.20,311.3 L274.47,311.0 L274.73,308.0 L275.00,307.5 L275.25,304.7 L275.50,303.7 L275.75,301.6 L276.00,300.2 L276.25,296.6 L276.50,298.9 L276.75,294.8 L277.00,294.5 L277.25,294.1 L277.50,289.0 L277.75,288.3 L278.00,287.9 L278.25,287.4 L278.50,285.2 L278.75,282.5 L279.00,281.6 L279.25,279.3 L279.50,277.1 L279.75,278.5 L280.00,273.7 L280.24,270.1 L280.48,269.7 L280.72,268.5 L280.96,269.1 L281.20,267.8 L281.44,267.4 L281.68,266.7 L281.92,262.9 L282.16,261.9 L282.40,261.9 L282.64,258.5 L282.88,259.9 L283.12,258.7 L283.36,257.3 L283.60,256.4 L283.84,256.5 L284.08,257.1 L284.32,259.3 L284.56,258.2 L284.80,260.4 L285.04,262.2 L285.28,264.1 L285.52,261.6 L285.76,265.6 L286.00,266.1 L286.24,267.6 L286.48,267.1 L286.72,272.4 L286.96,274.6 L287.20,275.9 L287.44,276.4 L287.68,281.3 L287.92,283.5 L288.16,284.7 L288.40,286.6 L288.70,290.2 L289.00,292.7 L289.25,290.9 L289.50,287.9 L289.75,285.4 L290.00,283.5 L290.23,282.7 L290.47,280.0 L290.70,276.6 L290.93,277.0 L291.17,273.6 L291.40,270.2 L291.65,269.6 L291.90,266.0 L292.15,267.4 L292.40,265.0 L292.65,264.3 L292.90,262.9 L293.15,263.3 L293.40,262.8 L293.65,267.1 L293.90,270.3 L294.15,268.2 L294.40,271.9 L294.65,272.5 L294.90,280.6 L295.15,282.5 L295.40,282.8 L295.67,287.2 L295.93,289.8 L296.20,289.9 L296.50,290.3 L296.80,293.9 L297.07,295.5 L297.33,296.7 L297.60,298.0 L297.87,292.7 L298.13,291.3 L298.40,291.0 L298.64,291.4 L298.88,290.3 L299.12,290.1 L299.36,290.3 L299.60,290.8 L299.87,295.3 L300.13,300.2 L300.40,300.9 L300.67,296.1 L300.93,298.7 L301.20,295.7 L301.47,304.9 L301.73,306.0 L302.00,308.4 L302.24,310.1 L302.48,309.6 L302.72,311.1 L302.96,312.9 L303.20,315.9 L303.40,321.5 L303.60,323.4 L303.80,332.7 L304.10,340.5 L304.40,341.9 L304.70,349.9 L305.00,351.9 L305.30,356.9 L305.60,359.8 L305.90,361.3 L306.20,361.5 L306.50,361.1 L306.80,351.2 L307.10,347.3 L307.40,345.1 L307.70,342.5 L308.00,340.2 L308.27,341.6 L308.53,342.7 L308.80,343.3 L309.10,342.4 L309.40,339.9 L309.67,342.1 L309.93,344.7 L310.20,349.3 L310.47,349.9 L310.73,344.4 L311.00,341.9 L311.30,353.5 L311.60,356.0 L311.85,356.1 L312.10,362.2 L312.35,363.6 L312.60,364.3 L312.87,369.6 L313.13,366.0 L313.40,371.8 L313.70,373.4 L314.00,374.1 L314.20,381.7 L314.40,385.7 L314.65,384.6 L314.90,382.7 L315.15,380.7 L315.40,380.5 L315.65,388.9 L315.90,385.3 L316.15,388.6 L316.40,390.0 L316.65,390.2 L316.90,382.9 L317.15,385.8 L317.40,384.7 L317.70,390.6 L318.00,393.1 L318.30,399.2 L318.60,402.9 L318.85,401.7 L319.10,400.5 L319.35,400.3 L319.60,398.9 L319.85,396.2 L320.10,398.2 L320.35,396.0 L320.60,394.6 L320.85,393.3 L321.10,392.6 L321.35,394.6 L321.60,393.3 L321.87,391.1 L322.13,391.1 L322.40,389.0 L322.65,387.2 L322.90,382.0 L323.15,384.4 L323.40,381.6 L323.67,377.2 L323.93,377.1 L324.20,375.9 L324.47,377.0 L324.73,376.9 L325.00,381.3 L325.25,381.8 L325.50,381.8 L325.75,381.6 L326.00,383.4 L326.25,385.3 L326.50,384.8 L326.75,385.4 L327.00,386.3 L327.25,385.5 L327.50,385.3 L327.75,384.9 L328.00,384.8 L328.25,384.2 L328.50,383.4 L328.75,383.3 L329.00,383.9 L329.24,383.7 L329.48,383.8 L329.72,385.3 L329.96,384.7 L330.20,385.7 L330.47,389.0 L330.73,386.9 L331.00,392.6 L331.25,394.9 L331.50,393.7 L331.75,398.8 L332.00,400.3 L332.24,401.6 L332.48,405.3 L332.72,412.3 L332.96,406.1 L333.20,416.0 L333.47,422.8 L333.73,421.0 L334.00,426.9 L334.25,434.7 L334.50,436.1 L334.75,434.6 L335.00,437.5 L335.20,449.0 L335.40,450.1 L335.67,449.0 L335.93,445.8 L336.20,445.0 L336.47,444.9 L336.73,440.7 L337.00,440.6 L337.25,440.8 L337.50,437.2 L337.75,436.6 L338.00,435.6 L338.24,435.8 L338.48,435.0 L338.72,432.8 L338.96,432.8 L339.20,433.3 L339.45,433.7 L339.70,437.5 L339.95,438.9 L340.20,440.9 L340.43,442.7 L340.67,441.9 L340.90,446.5 L341.13,450.0 L341.37,446.5 L341.60,452.3 L341.87,460.3 L342.13,461.8 L342.40,462.1 L342.60,463.9 L342.80,461.3 L343.00,470.1 L343.20,471.6 L343.40,472.4 L343.60,466.3 L343.80,473.7 L344.00,476.9 L344.20,470.3 L344.40,468.5 L344.60,475.1 L344.80,478.7 L345.00,473.9 L345.20,470.2 L345.40,473.6 L345.60,478.4 L345.80,475.8 L346.00,471.5 L346.20,474.3 L346.40,478.6 L346.60,474.5 L346.80,469.7 L347.00,471.5 L347.20,474.0 L347.40,467.9 L347.60,464.6 L347.80,464.5 L348.00,468.8 L348.20,467.1 L348.40,460.5 L348.60,460.6 L348.80,465.7 L349.10,463.7 L349.40,463.0 L349.70,457.4 L350.00,454.8 L350.30,453.8 L350.60,457.7 L350.90,451.3 L351.20,445.6 L351.50,450.4 L351.80,450.4 L352.10,445.9 L352.40,438.0 L352.70,443.3 L353.00,445.4 L353.30,438.2 L353.60,431.8 L353.90,437.3 L354.20,444.6 L354.50,440.2 L354.80,435.9 L355.07,439.4 L355.33,443.8 L355.60,447.6 L355.85,449.8 L356.10,449.9 L356.35,450.0 L356.60,451.4 L356.90,443.1 L357.20,437.6 L357.50,443.1 L357.80,448.3 L358.10,440.5 L358.40,433.4 L358.67,439.6 L358.93,442.6 L359.20,445.3 L359.50,439.4 L359.80,433.6 L360.07,435.7 L360.33,439.8 L360.60,444.6 L360.85,435.5 L361.10,433.4 L361.35,429.4 L361.60,423.9 L361.90,430.6 L362.20,434.3 L362.50,427.2 L362.80,425.1 L363.10,426.6 L363.40,427.3 L363.67,424.1 L363.93,423.7 L364.20,421.9 L364.47,421.6 L364.73,421.3 L365.00,420.1 L365.30,415.0 L365.60,410.7 L365.85,414.5 L366.10,415.6 L366.35,414.4 L366.60,416.8 L366.83,417.5 L367.07,418.9 L367.30,419.8 L367.53,418.4 L367.77,420.7 L368.00,423.0 L368.25,421.5 L368.50,419.3 L368.75,418.1 L369.00,415.7 L369.27,414.6 L369.53,412.0 L369.80,411.0 L370.05,410.3 L370.30,409.6 L370.55,413.9 L370.80,412.9 L371.07,411.9 L371.33,415.1 L371.60,413.9 L371.84,412.2 L372.08,409.6 L372.32,405.7 L372.56,402.0 L372.80,401.6 L373.04,399.8 L373.28,392.9 L373.52,396.6 L373.76,390.2 L374.00,389.5 L374.23,388.4 L374.47,390.6 L374.70,389.7 L374.93,390.3 L375.17,388.9 L375.40,390.3 L375.67,387.0 L375.93,390.9 L376.20,389.4 L376.47,389.3 L376.73,388.2 L377.00,387.9 L377.00,402.8 L377.26,401.8 L377.51,400.5 L377.77,399.2 L378.03,398.3 L378.29,397.3 L378.54,394.4 L378.80,394.6 L379.04,393.9 L379.28,393.2 L379.52,392.8 L379.76,390.8 L380.00,390.4 L380.23,390.2 L380.47,390.5 L380.70,389.4 L380.93,388.2 L381.17,387.7 L381.40,387.3 L381.64,387.0 L381.88,389.2 L382.12,390.5 L382.36,392.4 L382.60,392.3 L382.85,393.9 L383.10,393.2 L383.35,393.3 L383.60,397.4 L383.84,400.5 L384.08,398.3 L384.32,398.8 L384.56,402.4 L384.80,402.8 L385.04,403.1 L385.28,405.0 L385.52,408.2 L385.76,407.0 L386.00,410.6 L386.24,410.9 L386.48,417.1 L386.72,419.0 L386.96,419.7 L387.20,420.4 L387.46,423.7 L387.71,423.5 L387.97,426.0 L388.23,426.7 L388.49,430.5 L388.74,431.0 L389.00,432.6 L389.30,423.8 L389.60,413.4 L389.84,415.0 L390.08,414.2 L390.32,415.4 L390.56,417.1 L390.80,416.7 L391.04,414.1 L391.28,414.5 L391.52,411.5 L391.76,411.7 L392.00,411.5 L392.24,411.8 L392.48,411.8 L392.72,410.6 L392.96,410.6 L393.20,410.9 L393.43,410.6 L393.67,411.0 L393.90,413.5 L394.13,414.5 L394.37,413.6 L394.60,414.7 L394.87,416.3 L395.13,415.3 L395.40,414.3 L395.67,416.8 L395.93,417.1 L396.20,417.6 L396.47,417.5 L396.73,414.3 L397.00,410.1 L397.25,408.9 L397.50,407.0 L397.75,407.0 L398.00,405.3 L398.23,405.0 L398.47,401.4 L398.70,400.0 L398.93,399.3 L399.17,395.4 L399.40,394.0 L399.70,393.8 L400.00,395.8 L400.24,396.7 L400.48,396.6 L400.72,397.6 L400.96,398.6 L401.20,398.8 L401.44,401.3 L401.68,401.1 L401.92,402.4 L402.16,403.9 L402.40,404.3 L402.65,405.2 L402.90,407.5 L403.15,409.0 L403.40,410.3 L403.65,411.6 L403.90,411.9 L404.15,414.1 L404.40,414.8 L404.65,411.7 L404.90,408.3 L405.15,404.7 L405.40,403.0 L405.64,401.1 L405.88,397.8 L406.12,397.3 L406.36,395.6 L406.60,391.8 L406.84,393.1 L407.08,393.1 L407.32,394.9 L407.56,397.4 L407.80,398.8 L408.07,399.3 L408.33,399.7 L408.60,400.4 L408.87,401.2 L409.13,400.8 L409.40,401.3 L409.63,400.8 L409.87,400.5 L410.10,401.5 L410.33,401.0 L410.57,400.1 L410.80,400.2 L411.04,398.9 L411.28,397.5 L411.52,395.0 L411.76,391.3 L412.00,391.4 L412.23,391.8 L412.47,390.4 L412.70,390.5 L412.93,389.6 L413.17,390.1 L413.40,389.9 L413.67,390.2 L413.93,389.7 L414.20,390.4 L414.47,389.0 L414.73,388.9 L415.00,390.0 L415.24,391.6 L415.48,391.7 L415.72,393.1 L415.96,393.8 L416.20,393.8 L416.45,394.3 L416.70,395.3 L416.95,397.2 L417.20,397.8 L417.47,394.7 L417.73,391.1 L418.00,387.0 L418.23,387.3 L418.47,385.0 L418.70,385.0 L418.93,383.0 L419.17,384.9 L419.40,383.3 L419.64,385.6 L419.88,388.7 L420.12,388.1 L420.36,390.6 L420.60,392.8 L420.87,397.6 L421.13,403.0 L421.40,408.5 L421.63,409.4 L421.87,402.7 L422.10,409.6 L422.33,405.7 L422.57,406.2 L422.80,405.9 L423.04,410.0 L423.28,406.6 L423.52,407.2 L423.76,411.1 L424.00,411.3 L424.30,417.0 L424.60,418.8 L424.87,418.5 L425.13,416.0 L425.40,416.6 L425.65,420.2 L425.90,420.4 L426.15,423.0 L426.40,425.6 L426.63,425.2 L426.87,421.9 L427.10,420.1 L427.33,418.6 L427.57,417.5 L427.80,415.7 L428.04,416.7 L428.28,418.3 L428.52,417.2 L428.76,419.5 L429.00,418.5 L429.25,419.2 L429.50,423.1 L429.75,425.1 L430.00,424.4 L430.24,424.3 L430.48,420.6 L430.72,413.9 L430.96,411.5 L431.20,411.4 L431.46,410.7 L431.71,409.1 L431.97,407.2 L432.23,404.1 L432.49,403.2 L432.74,404.4 L433.00,400.2 L433.27,400.7 L433.53,399.0 L433.80,399.8 L434.07,398.2 L434.33,399.2 L434.60,398.5 L434.83,398.6 L435.07,398.1 L435.30,396.7 L435.53,395.6 L435.77,395.8 L436.00,395.7 L436.24,394.8 L436.48,395.3 L436.72,393.9 L436.96,393.6 L437.20,392.8 L437.46,392.9 L437.71,394.5 L437.97,396.0 L438.23,396.4 L438.49,398.4 L438.74,398.2 L439.00,399.6 L439.24,401.5 L439.48,399.8 L439.72,402.7 L439.96,402.1 L440.20,403.3 L440.44,404.2 L440.68,405.4 L440.92,404.7 L441.16,406.2 L441.40,406.1 L441.70,416.3 L442.00,418.1 L442.24,416.5 L442.48,415.1 L442.72,411.5 L442.96,413.5 L443.20,412.6 L443.43,413.2 L443.67,412.5 L443.90,411.9 L444.13,411.8 L444.37,409.2 L444.60,410.1 L444.87,414.1 L445.13,418.2 L445.40,420.2 L445.64,423.1 L445.88,425.3 L446.12,429.2 L446.36,426.6 L446.60,432.0 L446.83,428.6 L447.07,429.3 L447.30,427.9 L447.53,425.7 L447.77,424.1 L448.00,419.0 L448.26,418.7 L448.51,415.6 L448.77,415.3 L449.03,411.3 L449.29,405.2 L449.54,407.9 L449.80,402.8 L450.05,395.6 L450.30,400.4 L450.55,396.8 L450.80,393.6 L451.05,392.7 L451.30,390.3 L451.55,388.1 L451.80,386.4 L452.07,387.2 L452.33,388.8 L452.60,390.5 L452.87,391.6 L453.13,390.8 L453.40,394.9 L453.66,396.9 L453.91,399.7 L454.17,400.2 L454.43,398.4 L454.69,403.6 L454.94,404.7 L455.20,405.2 L455.50,412.0 L455.80,413.9 L456.10,420.9 L456.40,422.5 L456.64,423.8 L456.88,424.0 L457.12,423.6 L457.36,423.0 L457.60,424.0 L457.84,425.6 L458.08,424.2 L458.32,424.9 L458.56,424.6 L458.80,425.3 L459.04,425.7 L459.28,424.6 L459.52,425.3 L459.76,424.3 L460.00,423.8 L460.26,424.2 L460.51,425.1 L460.77,425.0 L461.03,425.4 L461.29,426.3 L461.54,426.2 L461.80,426.7 L462.06,424.9 L462.31,426.2 L462.57,421.6 L462.83,420.9 L463.09,420.3 L463.34,419.6 L463.60,419.5 L463.84,414.8 L464.08,414.7 L464.32,411.2 L464.56,409.7 L464.80,407.6 L465.06,407.7 L465.31,407.5 L465.57,410.1 L465.83,409.8 L466.09,410.5 L466.34,409.7 L466.60,411.6 L466.83,412.3 L467.07,413.2 L467.30,412.0 L467.53,412.3 L467.77,412.4 L468.00,414.7 L468.27,414.7 L468.53,414.2 L468.80,414.8 L469.07,415.4 L469.33,415.5 L469.60,416.2 L469.83,417.6 L470.07,416.9 L470.30,418.9 L470.53,418.5 L470.77,420.4 L471.00,420.8 L471.25,422.7 L471.50,421.5 L471.75,423.0 L472.00,424.4 L472.24,421.1 L472.48,420.2 L472.72,419.6 L472.96,417.4 L473.20,415.9 L473.46,414.4 L473.71,413.3 L473.97,412.0 L474.23,410.8 L474.49,410.3 L474.74,410.3 L475.00,408.5 L475.27,410.3 L475.53,411.5 L475.80,413.9 L476.07,412.4 L476.33,411.0 L476.60,410.6 L476.87,408.9 L477.13,409.1 L477.40,409.1 L477.70,416.4 L478.00,423.3 L478.24,422.8 L478.48,423.7 L478.72,424.0 L478.96,422.3 L479.20,422.7 L479.44,422.6 L479.68,423.8 L479.92,423.6 L480.16,423.8 L480.40,423.0 L480.64,421.0 L480.88,419.5 L481.12,417.4 L481.36,416.9 L481.60,415.1 L481.84,414.1 L482.08,412.1 L482.32,410.9 L482.56,408.8 L482.80,407.5 L483.04,409.7 L483.28,410.6 L483.52,412.5 L483.76,414.7 L484.00,416.7 L484.23,417.8 L484.47,419.6 L484.70,419.0 L484.93,422.3 L485.17,422.1 L485.40,423.8 L485.67,423.5 L485.93,422.5 L486.20,421.7 L486.47,419.5 L486.73,420.4 L487.00,418.0 L487.26,419.5 L487.51,417.4 L487.77,418.1 L488.03,418.7 L488.29,419.1 L488.54,418.0 L488.80,419.4 L489.03,417.2 L489.27,416.6 L489.50,417.0 L489.73,415.3 L489.97,415.5 L490.20,413.2 L490.44,415.8 L490.68,418.5 L490.92,420.9 L491.16,422.0 L491.40,425.5 L491.64,424.3 L491.88,423.9 L492.12,422.2 L492.36,424.3 L492.60,422.8" fill="none" stroke="#0d355a" stroke-width="3.0" stroke-linejoin="miter" stroke-miterlimit="1.5"/>
<path d="M196.80,292.8 L197.07,290.5 L197.33,286.8 L197.60,283.9 L197.85,285.2 L198.10,288.6 L198.35,288.8 L198.60,290.6 L198.85,289.1 L199.10,285.2 L199.35,285.3 L199.60,282.5 L199.87,287.7 L200.13,293.9 L200.40,297.2 L200.65,296.4 L200.90,291.4 L201.15,282.6 L201.40,281.4 L201.64,284.9 L201.88,281.1 L202.12,285.0 L202.36,287.8 L202.60,287.3 L202.85,290.0 L203.10,288.8 L203.35,293.9 L203.60,297.6 L203.85,300.2 L204.10,305.6 L204.35,303.6 L204.60,305.9 L204.85,306.6 L205.10,310.5 L205.35,313.9 L205.60,315.1 L205.85,315.4 L206.10,315.4 L206.35,316.2 L206.60,324.5 L206.87,312.0 L207.13,312.5 L207.40,313.5 L207.70,332.5 L208.00,336.5 L208.27,337.9 L208.53,339.5 L208.80,344.2 L209.10,342.7 L209.40,340.3 L209.65,345.6 L209.90,346.4 L210.15,349.0 L210.40,352.8 L210.67,348.7 L210.93,341.4 L211.20,336.2 L211.45,335.5 L211.70,330.5 L211.95,328.0 L212.20,327.8 L212.47,327.7 L212.73,322.7 L213.00,322.7 L213.30,324.3 L213.60,332.5 L213.87,332.5 L214.13,326.3 L214.40,317.5 L214.65,311.6 L214.90,306.0 L215.15,306.5 L215.40,298.6 L215.65,301.6 L215.90,305.6 L216.15,308.5 L216.40,309.4 L216.64,306.9 L216.88,306.0 L217.12,305.2 L217.36,306.6 L217.60,305.1 L217.85,308.3 L218.10,312.9 L218.35,313.2 L218.60,313.7 L218.85,314.1 L219.10,317.4 L219.35,316.9 L219.60,318.7 L219.83,317.9 L220.07,316.8 L220.30,314.5 L220.53,316.3 L220.77,314.9 L221.00,314.3 L221.27,310.3 L221.53,306.7 L221.80,301.3 L222.05,296.9 L222.30,293.6 L222.53,295.3 L222.75,298.0 L222.97,296.6 L223.20,301.1 L223.47,302.8 L223.73,306.2 L224.00,305.6 L224.30,311.1 L224.60,316.1 L224.85,314.5 L225.10,313.0 L225.35,310.1 L225.60,308.2 L225.87,306.0 L226.13,308.2 L226.40,305.1 L226.65,306.1 L226.90,309.3 L227.15,306.7 L227.40,308.0 L227.70,306.9 L228.00,310.8 L228.27,305.1 L228.53,299.1 L228.80,299.4 L229.07,299.7 L229.33,290.2 L229.60,290.5 L229.84,281.0 L230.08,285.9 L230.32,289.8 L230.56,279.7 L230.80,280.0 L231.06,280.1 L231.31,279.7 L231.57,279.4 L231.83,274.1 L232.09,273.8 L232.34,277.3 L232.60,273.8 L232.84,273.5 L233.08,265.4 L233.32,267.3 L233.56,266.3 L233.80,265.6 L234.04,265.6 L234.28,264.8 L234.52,264.7 L234.76,266.0 L235.00,267.5 L235.24,267.3 L235.48,266.3 L235.72,266.6 L235.96,267.4 L236.20,264.7 L236.44,263.4 L236.68,263.5 L236.92,262.9 L237.16,264.9 L237.40,263.4 L237.67,264.1 L237.93,261.8 L238.20,261.3 L238.40,266.1 L238.60,271.7 L238.80,275.2 L239.00,283.1 L239.23,282.1 L239.47,279.4 L239.70,279.5 L239.93,278.7 L240.17,274.0 L240.40,273.9 L240.64,272.1 L240.88,270.7 L241.12,269.5 L241.36,268.9 L241.60,267.3 L241.87,263.3 L242.13,257.3 L242.40,255.3 L242.65,258.9 L242.90,260.7 L243.15,266.3 L243.40,267.2 L243.64,269.1 L243.88,269.0 L244.12,269.6 L244.36,269.3 L244.60,269.2 L244.90,275.3 L245.20,279.6 L245.44,276.5 L245.68,274.1 L245.92,267.0 L246.16,266.1 L246.40,262.8 L246.64,260.8 L246.88,258.7 L247.12,262.0 L247.36,259.0 L247.60,253.9 L247.84,253.5 L248.08,253.8 L248.32,252.4 L248.56,251.7 L248.80,250.3 L249.04,249.0 L249.28,247.8 L249.52,249.4 L249.76,249.2 L250.00,247.6 L250.25,244.4 L250.50,247.8 L250.75,243.1 L251.00,243.5 L251.27,243.9 L251.53,243.7 L251.80,241.4 L252.00,236.0 L252.20,228.5 L252.47,227.6 L252.73,229.8 L253.00,235.9 L253.30,236.4 L253.60,233.8 L253.84,234.1 L254.08,233.9 L254.32,233.8 L254.56,235.6 L254.80,235.1 L255.04,235.0 L255.28,236.6 L255.52,235.5 L255.76,235.0 L256.00,236.5 L256.25,237.6 L256.50,238.7 L256.75,239.9 L257.00,240.5 L257.27,243.9 L257.53,244.9 L257.80,245.8 L258.10,241.1 L258.40,239.5 L258.70,235.8 L259.00,235.2 L259.25,235.5 L259.50,231.7 L259.75,231.3 L260.00,231.7 L260.27,231.8 L260.53,231.4 L260.80,228.9 L261.07,224.0 L261.33,222.1 L261.60,220.2 L261.90,214.3 L262.20,214.0 L262.47,213.2 L262.73,213.4 L263.00,213.6 L263.27,212.9 L263.53,212.9 L263.80,213.8 L264.10,214.5 L264.40,220.8 L264.70,222.3 L265.00,226.7 L265.25,226.5 L265.50,226.9 L265.75,227.2 L266.00,230.6 L266.25,230.8 L266.50,232.9 L266.75,235.6 L267.00,235.4 L267.25,238.2 L267.50,238.8 L267.75,239.4 L268.00,239.3 L268.30,244.4 L268.60,250.6 L268.90,250.5 L269.20,259.3 L269.40,260.4 L269.60,270.8 L269.87,272.2 L270.13,268.0 L270.40,269.5 L270.67,272.6 L270.93,277.8 L271.20,285.4 L271.50,286.7 L271.80,295.7 L272.03,298.7 L272.27,304.8 L272.50,308.0 L272.73,307.9 L272.97,308.8 L273.20,318.7 L273.45,313.8 L273.70,319.5 L273.95,312.2 L274.20,312.8 L274.47,312.4 L274.73,308.2 L275.00,307.8 L275.25,303.9 L275.50,303.5 L275.75,301.1 L276.00,300.1 L276.25,295.2 L276.50,299.8 L276.75,294.5 L277.00,294.8 L277.25,295.0 L277.50,288.0 L277.75,287.7 L278.00,288.0 L278.25,288.2 L278.50,285.6 L278.75,282.5 L279.00,282.4 L279.25,279.6 L279.50,277.0 L279.75,280.0 L280.00,273.3 L280.24,268.5 L280.48,268.9 L280.72,267.8 L280.96,269.5 L281.20,267.9 L281.44,268.2 L281.68,267.9 L281.92,262.6 L282.16,261.7 L282.40,262.2 L282.64,257.1 L282.88,259.4 L283.12,257.6 L283.36,255.7 L283.60,254.4 L283.84,254.6 L284.08,255.7 L284.32,259.1 L284.56,257.1 L284.80,260.2 L285.04,262.4 L285.28,265.0 L285.52,260.3 L285.76,265.6 L286.00,265.4 L286.24,266.5 L286.48,265.4 L286.72,272.5 L286.96,274.5 L287.20,275.4 L287.44,275.1 L287.68,282.1 L287.92,284.7 L288.16,286.1 L288.40,288.5 L288.70,293.2 L289.00,297.3 L289.25,294.7 L289.50,290.3 L289.75,286.8 L290.00,284.3 L290.23,283.9 L290.47,280.3 L290.70,276.0 L290.93,277.4 L291.17,272.5 L291.40,268.5 L291.65,268.7 L291.90,263.7 L292.15,266.7 L292.40,263.3 L292.65,262.8 L292.90,260.5 L293.15,261.2 L293.40,260.0 L293.65,266.0 L293.90,270.1 L294.15,265.9 L294.40,270.8 L294.65,270.7 L294.90,282.0 L295.15,283.6 L295.40,283.2 L295.67,288.6 L295.93,291.5 L296.20,291.1 L296.50,290.8 L296.80,296.0 L297.07,297.8 L297.33,299.6 L297.60,301.4 L297.87,292.9 L298.13,290.3 L298.40,289.3 L298.64,290.0 L298.88,288.0 L299.12,287.9 L299.36,288.0 L299.60,288.7 L299.87,295.5 L300.13,302.7 L300.40,303.2 L300.67,295.0 L300.93,298.5 L301.20,292.5 L301.47,305.8 L301.73,306.0 L302.00,307.9 L302.24,309.1 L302.48,308.0 L302.72,308.7 L302.96,309.5 L303.20,311.9 L303.40,320.7 L303.60,321.1 L303.80,333.4 L304.10,343.5 L304.40,343.6 L304.70,353.5 L305.00,355.3 L305.30,362.0 L305.60,364.4 L305.90,366.3 L306.20,366.5 L306.50,366.0 L306.80,350.5 L307.10,345.0 L307.40,342.2 L307.70,339.1 L308.00,336.3 L308.27,339.1 L308.53,341.9 L308.80,344.3 L309.10,342.8 L309.40,338.8 L309.67,341.3 L309.93,344.4 L310.20,350.8 L310.47,350.8 L310.73,341.0 L311.00,336.3 L311.30,353.6 L311.60,356.0 L311.85,355.6 L312.10,363.7 L312.35,364.3 L312.60,364.1 L312.87,371.4 L313.13,364.4 L313.40,371.9 L313.70,372.8 L314.00,372.7 L314.20,383.5 L314.40,389.2 L314.65,386.6 L314.90,383.3 L315.15,379.8 L315.40,379.1 L315.65,391.6 L315.90,385.8 L316.15,390.0 L316.40,391.7 L316.65,391.3 L316.90,379.1 L317.15,382.9 L317.40,380.4 L317.70,388.7 L318.00,392.5 L318.30,401.8 L318.60,407.4 L318.85,405.6 L319.10,403.2 L319.35,402.3 L319.60,399.5 L319.85,395.5 L320.10,398.4 L320.35,394.9 L320.60,393.1 L320.85,392.1 L321.10,391.8 L321.35,395.8 L321.60,394.8 L321.87,392.3 L322.13,393.1 L322.40,390.7 L322.65,388.4 L322.90,380.8 L323.15,384.8 L323.40,380.7 L323.67,374.3 L323.93,374.5 L324.20,372.8 L324.47,374.9 L324.73,374.9 L325.00,381.7 L325.25,382.3 L325.50,382.2 L325.75,381.8 L326.00,384.2 L326.25,386.7 L326.50,385.6 L326.75,386.2 L327.00,387.2 L327.25,386.1 L327.50,385.7 L327.75,385.1 L328.00,384.9 L328.25,384.0 L328.50,382.7 L328.75,382.7 L329.00,383.4 L329.24,382.9 L329.48,382.9 L329.72,384.8 L329.96,383.3 L330.20,384.5 L330.47,388.9 L330.73,384.6 L331.00,392.3 L331.25,395.5 L331.50,392.3 L331.75,399.1 L332.00,400.1 L332.24,400.2 L332.48,404.2 L332.72,413.7 L332.96,402.2 L333.20,414.9 L333.47,422.8 L333.73,418.1 L334.00,425.8 L334.25,437.0 L334.50,437.6 L334.75,434.1 L335.00,437.8 L335.20,454.4 L335.40,456.2 L335.67,453.8 L335.93,448.5 L336.20,446.7 L336.47,446.2 L336.73,439.8 L337.00,440.3 L337.25,440.8 L337.50,435.9 L337.75,435.8 L338.00,434.7 L338.24,435.2 L338.48,434.3 L338.72,430.9 L338.96,430.6 L339.20,431.2 L339.45,431.5 L339.70,436.8 L339.95,438.0 L340.20,440.4 L340.43,442.2 L340.67,440.4 L340.90,446.3 L341.13,450.5 L341.37,443.5 L341.60,451.0 L341.87,462.0 L342.13,463.5 L342.40,463.2 L342.60,464.4 L342.80,459.5 L343.00,472.5 L343.20,474.1 L343.40,474.9 L343.60,463.9 L343.80,475.4 L344.00,479.7 L344.20,468.9 L344.40,466.0 L344.60,476.0 L344.80,481.7 L345.00,473.8 L345.20,467.8 L345.40,473.2 L345.60,481.6 L345.80,477.5 L346.00,470.7 L346.20,475.6 L346.40,482.5 L346.60,476.3 L346.80,468.7 L347.00,471.9 L347.20,476.2 L347.40,466.8 L347.60,462.0 L347.80,462.3 L348.00,469.5 L348.20,467.6 L348.40,457.4 L348.60,458.5 L348.80,467.0 L349.10,465.1 L349.40,464.7 L349.70,456.9 L350.00,453.2 L350.30,453.1 L350.60,460.1 L350.90,450.3 L351.20,442.7 L351.50,451.8 L351.80,453.0 L352.10,446.4 L352.40,434.7 L352.70,443.7 L353.00,448.0 L353.30,437.0 L353.60,426.5 L353.90,435.1 L354.20,446.0 L354.50,438.6 L354.80,431.5 L355.07,437.5 L355.33,444.6 L355.60,450.1 L355.85,452.7 L356.10,452.7 L356.35,453.5 L356.60,456.0 L356.90,442.7 L357.20,433.3 L357.50,441.7 L357.80,450.4 L358.10,439.3 L358.40,428.6 L358.67,438.6 L358.93,444.2 L359.20,449.1 L359.50,440.3 L359.80,431.6 L360.07,435.4 L360.33,442.3 L360.60,449.9 L360.85,435.7 L361.10,432.7 L361.35,427.1 L361.60,419.4 L361.90,430.4 L362.20,436.4 L362.50,425.7 L362.80,423.4 L363.10,427.6 L363.40,428.8 L363.67,425.1 L363.93,424.7 L364.20,422.5 L364.47,422.8 L364.73,422.7 L365.00,420.7 L365.30,412.8 L365.60,406.5 L365.85,412.0 L366.10,413.8 L366.35,411.9 L366.60,415.8 L366.83,417.1 L367.07,419.7 L367.30,421.3 L367.53,419.2 L367.77,423.1 L368.00,426.7 L368.25,424.5 L368.50,420.9 L368.75,419.1 L369.00,415.3 L369.27,413.4 L369.53,409.5 L369.80,408.0 L370.05,407.2 L370.30,406.9 L370.55,414.4 L370.80,413.5 L371.07,412.6 L371.33,419.0 L371.60,418.0 L371.84,415.9 L372.08,412.7 L372.32,406.9 L372.56,401.7 L372.80,401.8 L373.04,399.8 L373.28,389.8 L373.52,396.0 L373.76,386.9 L374.00,386.9 L374.23,385.9 L374.47,390.3 L374.70,389.8 L374.93,390.6 L375.17,388.2 L375.40,390.1 L375.67,384.5 L375.93,390.4 L376.20,387.6 L376.47,387.0 L376.73,385.0 L377.00,384.5 L377.00,407.7 L377.26,406.2 L377.51,404.0 L377.77,401.9 L378.03,400.3 L378.29,398.9 L378.54,394.2 L378.80,394.5 L379.04,393.3 L379.28,392.7 L379.52,392.8 L379.76,390.3 L380.00,390.2 L380.23,390.1 L380.47,390.6 L380.70,389.0 L380.93,387.1 L381.17,386.5 L381.40,385.9 L381.64,385.3 L381.88,388.4 L382.12,390.0 L382.36,392.6 L382.60,392.1 L382.85,394.3 L383.10,392.7 L383.35,392.2 L383.60,397.7 L383.84,401.8 L384.08,397.7 L384.32,397.9 L384.56,402.6 L384.80,402.3 L385.04,402.0 L385.28,404.1 L385.52,408.1 L385.76,405.6 L386.00,410.2 L386.24,410.0 L386.48,418.3 L386.72,420.0 L386.96,419.9 L387.20,420.2 L387.46,425.2 L387.71,424.6 L387.97,428.1 L388.23,429.0 L388.49,434.7 L388.74,435.5 L389.00,438.3 L389.30,424.7 L389.60,409.0 L389.84,412.0 L390.08,411.1 L390.32,413.7 L390.56,416.9 L390.80,417.2 L391.04,414.1 L391.28,415.9 L391.52,411.6 L391.76,411.8 L392.00,411.2 L392.24,411.6 L392.48,411.5 L392.72,409.4 L392.96,409.4 L393.20,409.9 L393.43,409.6 L393.67,410.1 L393.90,413.8 L394.13,415.0 L394.37,413.3 L394.60,414.9 L394.87,417.4 L395.13,415.7 L395.40,414.2 L395.67,418.1 L395.93,418.6 L396.20,419.6 L396.47,420.0 L396.73,415.9 L397.00,410.0 L397.25,409.1 L397.50,407.0 L397.75,407.2 L398.00,405.5 L398.23,405.8 L398.47,401.0 L398.70,399.6 L398.93,398.7 L399.17,393.0 L399.40,391.2 L399.70,391.2 L400.00,394.4 L400.24,396.0 L400.48,396.0 L400.72,397.3 L400.96,398.5 L401.20,398.3 L401.44,402.0 L401.68,400.9 L401.92,402.0 L402.16,403.8 L402.40,403.6 L402.65,404.3 L402.90,407.4 L403.15,409.4 L403.40,411.2 L403.65,413.0 L403.90,413.7 L404.15,417.5 L404.40,418.9 L404.65,415.3 L404.90,410.5 L405.15,405.3 L405.40,403.0 L405.64,400.5 L405.88,395.7 L406.12,395.3 L406.36,393.2 L406.60,388.0 L406.84,390.0 L407.08,390.4 L407.32,393.6 L407.56,397.7 L407.80,399.8 L408.07,400.6 L408.33,400.7 L408.60,401.3 L408.87,402.1 L409.13,401.0 L409.40,401.7 L409.63,401.0 L409.87,400.9 L410.10,402.8 L410.33,402.4 L410.57,401.4 L410.80,401.7 L411.04,400.2 L411.28,398.3 L411.52,394.8 L411.76,389.3 L412.00,389.8 L412.23,390.7 L412.47,388.9 L412.70,389.7 L412.93,388.7 L413.17,389.8 L413.40,390.0 L413.67,390.5 L413.93,389.9 L414.20,390.6 L414.47,388.3 L414.73,387.7 L415.00,388.5 L415.24,390.9 L415.48,390.8 L415.72,392.8 L415.96,394.2 L416.20,394.2 L416.45,395.3 L416.70,397.1 L416.95,400.4 L417.20,402.0 L417.47,397.4 L417.73,391.9 L418.00,385.9 L418.23,386.4 L418.47,383.1 L418.70,382.9 L418.93,379.5 L419.17,382.9 L419.40,379.6 L419.64,382.7 L419.88,387.5 L420.12,385.8 L420.36,389.1 L420.60,391.8 L420.87,398.4 L421.13,406.1 L421.40,413.5 L421.63,413.9 L421.87,402.4 L422.10,412.1 L422.33,405.5 L422.57,405.1 L422.80,404.3 L423.04,409.9 L423.28,404.1 L423.52,404.7 L423.76,410.6 L424.00,410.6 L424.30,418.6 L424.60,420.6 L424.87,419.4 L425.13,415.0 L425.40,415.7 L425.65,421.0 L425.90,421.1 L426.15,425.0 L426.40,429.1 L426.63,428.4 L426.87,423.4 L427.10,420.6 L427.33,418.0 L427.57,415.7 L427.80,412.5 L428.04,413.7 L428.28,416.1 L428.52,414.9 L428.76,419.1 L429.00,418.2 L429.25,419.5 L429.50,425.9 L429.75,429.3 L430.00,428.6 L430.24,428.6 L430.48,423.1 L430.72,412.9 L430.96,409.6 L431.20,410.0 L431.46,409.9 L431.71,408.3 L431.97,406.5 L432.23,402.8 L432.49,402.5 L432.74,405.2 L433.00,399.0 L433.27,400.2 L433.53,398.0 L433.80,399.8 L434.07,397.6 L434.33,399.5 L434.60,398.8 L434.83,399.3 L435.07,399.0 L435.30,397.0 L435.53,395.5 L435.77,395.9 L436.00,395.8 L436.24,394.4 L436.48,395.2 L436.72,393.0 L436.96,392.5 L437.20,391.1 L437.46,391.2 L437.71,393.5 L437.97,395.8 L438.23,396.2 L438.49,398.9 L438.74,398.4 L439.00,400.2 L439.24,402.8 L439.48,399.8 L439.72,403.3 L439.96,401.2 L440.20,402.2 L440.44,402.8 L440.68,404.5 L440.92,403.0 L441.16,404.9 L441.40,404.4 L441.70,419.8 L442.00,422.4 L442.24,419.8 L442.48,417.7 L442.72,411.9 L442.96,414.6 L443.20,412.6 L443.43,413.2 L443.67,411.5 L443.90,410.1 L444.13,409.5 L444.37,405.3 L444.60,406.1 L444.87,411.4 L445.13,417.2 L445.40,420.0 L445.64,423.9 L445.88,427.0 L446.12,432.9 L446.36,428.7 L446.60,436.6 L446.83,431.1 L447.07,432.2 L447.30,430.3 L447.53,427.0 L447.77,424.9 L448.00,418.1 L448.26,418.4 L448.51,414.8 L448.77,415.6 L449.03,410.8 L449.29,403.5 L449.54,409.3 L449.80,402.9 L450.05,393.2 L450.30,401.6 L450.55,397.0 L450.80,392.7 L451.05,392.2 L451.30,388.9 L451.55,385.7 L451.80,383.2 L452.07,384.6 L452.33,387.0 L452.60,389.7 L452.87,391.3 L453.13,389.7 L453.40,395.4 L453.66,397.7 L453.91,400.6 L454.17,400.9 L454.43,396.5 L454.69,402.4 L454.94,402.9 L455.20,402.6 L455.50,412.0 L455.80,414.0 L456.10,424.1 L456.40,425.0 L456.64,426.0 L456.88,426.1 L457.12,424.7 L457.36,423.1 L457.60,424.0 L457.84,426.2 L458.08,423.6 L458.32,424.8 L458.56,424.4 L458.80,425.6 L459.04,426.2 L459.28,424.5 L459.52,425.6 L459.76,423.7 L460.00,422.9 L460.26,423.5 L460.51,425.0 L460.77,424.8 L461.03,425.6 L461.29,427.2 L461.54,427.0 L461.80,428.2 L462.06,425.7 L462.31,428.2 L462.57,421.6 L462.83,421.2 L463.09,420.9 L463.34,420.6 L463.60,421.0 L463.84,414.3 L464.08,414.7 L464.32,409.8 L464.56,408.1 L464.80,405.0 L465.06,405.4 L465.31,405.5 L465.57,409.8 L465.83,409.5 L466.09,410.5 L466.34,409.3 L466.60,412.2 L466.83,413.1 L467.07,414.1 L467.30,411.9 L467.53,412.0 L467.77,412.1 L468.00,415.4 L468.27,415.1 L468.53,414.2 L468.80,414.4 L469.07,415.0 L469.33,415.0 L469.60,415.5 L469.83,417.2 L470.07,415.7 L470.30,418.7 L470.53,417.8 L470.77,420.7 L471.00,421.5 L471.25,424.3 L471.50,422.4 L471.75,425.0 L472.00,427.2 L472.24,422.4 L472.48,421.1 L472.72,420.5 L472.96,417.5 L473.20,415.4 L473.46,413.6 L473.71,412.1 L473.97,410.6 L474.23,409.3 L474.49,409.1 L474.74,409.6 L475.00,407.4 L475.27,410.7 L475.53,412.6 L475.80,415.9 L476.07,413.0 L476.33,410.2 L476.60,408.9 L476.87,405.8 L477.13,405.6 L477.40,405.0 L477.70,416.0 L478.00,426.0 L478.24,425.0 L478.48,426.2 L478.72,426.3 L478.96,423.3 L479.20,423.4 L479.44,423.0 L479.68,424.4 L479.92,424.3 L480.16,425.1 L480.40,424.6 L480.64,422.2 L480.88,420.5 L481.12,417.9 L481.36,417.5 L481.60,415.1 L481.84,413.6 L482.08,410.6 L482.32,408.8 L482.56,405.8 L482.80,403.6 L483.04,407.1 L483.28,408.3 L483.52,411.0 L483.76,414.2 L484.00,417.1 L484.23,418.8 L484.47,421.3 L484.70,420.0 L484.93,424.8 L485.17,423.9 L485.40,426.3 L485.67,425.4 L485.93,423.6 L486.20,422.1 L486.47,418.5 L486.73,419.9 L487.00,416.3 L487.26,419.0 L487.51,416.0 L487.77,417.9 L488.03,419.5 L488.29,420.6 L488.54,418.9 L488.80,421.0 L489.03,417.4 L489.27,415.9 L489.50,416.3 L489.73,413.2 L489.97,413.4 L490.20,409.5 L490.44,413.5 L490.68,417.8 L490.92,421.5 L491.16,423.4 L491.40,428.7 L491.64,426.7 L491.88,425.9 L492.12,422.9 L492.36,425.6 L492.60,422.5" fill="none" stroke="#0d355a" stroke-width="2.1" stroke-linejoin="miter" stroke-miterlimit="2.0"/>
<path d="M196.80,294.0 L197.07,291.1 L197.33,286.5 L197.60,283.0 L197.85,284.7 L198.10,288.8 L198.35,288.9 L198.60,291.0 L198.85,289.0 L199.10,284.2 L199.35,284.5 L199.60,281.0 L199.87,287.8 L200.13,295.7 L200.40,300.0 L200.65,299.0 L200.90,292.5 L201.15,281.2 L201.40,279.5 L201.64,283.8 L201.88,278.7 L202.12,283.4 L202.36,286.8 L202.60,286.0 L202.85,289.3 L203.10,287.6 L203.35,293.7 L203.60,298.0 L203.85,300.5 L204.10,306.8 L204.35,303.7 L204.60,306.0 L204.85,306.5 L205.10,311.2 L205.35,315.1 L205.60,316.0 L205.85,315.8 L206.10,315.2 L206.35,315.6 L206.60,326.0 L206.87,309.2 L207.13,309.2 L207.40,310.0 L207.70,333.8 L208.00,338.0 L208.27,339.2 L208.53,340.6 L208.80,346.0 L209.10,343.7 L209.40,340.0 L209.65,346.5 L209.90,347.7 L210.15,351.3 L210.40,356.4 L210.67,351.4 L210.93,342.3 L211.20,336.0 L211.45,335.3 L211.70,328.9 L211.95,326.0 L212.20,326.0 L212.47,326.8 L212.73,321.2 L213.00,322.0 L213.30,324.8 L213.60,336.0 L213.87,336.4 L214.13,328.9 L214.40,318.0 L214.65,310.6 L214.90,303.8 L215.15,304.7 L215.40,295.0 L215.65,299.1 L215.90,304.6 L216.15,308.6 L216.40,310.0 L216.64,307.0 L216.88,305.8 L217.12,304.5 L217.36,306.1 L217.60,304.0 L217.85,307.7 L218.10,313.3 L218.35,313.4 L218.60,314.0 L218.85,314.3 L219.10,318.5 L219.35,317.8 L219.60,320.0 L219.83,319.0 L220.07,317.8 L220.30,315.2 L220.53,317.8 L220.77,316.3 L221.00,316.0 L221.27,311.1 L221.53,306.6 L221.80,300.0 L222.05,294.7 L222.30,290.5 L222.53,292.6 L222.75,296.1 L222.97,294.3 L223.20,300.0 L223.47,302.2 L223.73,306.8 L224.00,306.0 L224.30,312.8 L224.60,319.0 L224.85,316.6 L225.10,314.6 L225.35,310.5 L225.60,308.0 L225.87,305.0 L226.13,307.8 L226.40,304.0 L226.65,305.4 L226.90,309.8 L227.15,306.9 L227.40,309.0 L227.70,308.2 L228.00,313.5 L228.27,306.5 L228.53,299.2 L228.80,300.0 L229.07,300.8 L229.33,289.2 L229.60,290.0 L229.84,278.4 L230.08,285.3 L230.32,290.8 L230.56,278.4 L230.80,279.2 L231.06,280.0 L231.31,280.0 L231.57,280.0 L231.83,273.6 L232.09,273.6 L232.34,278.4 L232.60,274.4 L232.84,274.1 L233.08,264.0 L233.32,266.5 L233.56,265.5 L233.80,264.8 L234.04,264.9 L234.28,264.0 L234.52,264.0 L234.76,266.0 L235.00,268.0 L235.24,267.9 L235.48,266.6 L235.72,267.1 L235.96,268.1 L236.20,264.8 L236.44,263.1 L236.68,262.9 L236.92,261.9 L237.16,264.1 L237.40,262.0 L237.67,262.8 L237.93,259.5 L238.20,258.8 L238.40,264.9 L238.60,272.0 L238.80,276.4 L239.00,286.4 L239.23,285.0 L239.47,281.5 L239.70,281.6 L239.93,280.7 L240.17,274.4 L240.40,274.4 L240.64,272.2 L240.88,270.7 L241.12,269.2 L241.36,268.9 L241.60,267.0 L241.87,262.1 L242.13,254.6 L242.40,252.2 L242.65,257.1 L242.90,259.2 L243.15,266.2 L243.40,267.2 L243.64,269.5 L243.88,269.4 L244.12,270.1 L244.36,269.6 L244.60,269.6 L244.90,277.1 L245.20,282.8 L245.44,279.0 L245.68,276.1 L245.92,267.2 L246.16,266.4 L246.40,262.4 L246.64,260.2 L246.88,257.9 L247.12,262.5 L247.36,258.8 L247.60,252.8 L247.84,252.7 L248.08,253.6 L248.32,252.0 L248.56,251.5 L248.80,250.0 L249.04,248.5 L249.28,247.2 L249.52,249.5 L249.76,249.5 L250.00,248.0 L250.25,244.0 L250.50,248.8 L250.75,243.2 L251.00,244.0 L251.27,244.8 L251.53,244.8 L251.80,242.0 L252.00,235.3 L252.20,225.8 L252.47,225.0 L252.73,228.1 L253.00,236.0 L253.30,236.8 L253.60,233.6 L253.84,234.1 L254.08,234.0 L254.32,233.7 L254.56,235.8 L254.80,235.0 L255.04,234.7 L255.28,236.6 L255.52,235.0 L255.76,234.2 L256.00,236.0 L256.25,237.4 L256.50,238.7 L256.75,240.1 L257.00,241.0 L257.27,245.3 L257.53,246.7 L257.80,248.0 L258.10,241.9 L258.40,240.0 L258.70,235.4 L259.00,234.8 L259.25,235.6 L259.50,231.2 L259.75,231.2 L260.00,232.0 L260.27,232.8 L260.53,232.8 L260.80,230.0 L261.07,224.1 L261.33,222.1 L261.60,220.0 L261.90,212.6 L262.20,212.5 L262.47,211.7 L262.73,212.1 L263.00,212.5 L263.27,211.7 L263.53,211.7 L263.80,212.5 L264.10,213.0 L264.40,221.0 L264.70,222.3 L265.00,227.6 L265.25,226.8 L265.50,227.0 L265.75,226.8 L266.00,231.0 L266.25,230.8 L266.50,232.8 L266.75,235.8 L267.00,235.0 L267.25,238.0 L267.50,238.0 L267.75,238.0 L268.00,237.2 L268.30,243.1 L268.60,250.4 L268.90,249.6 L269.20,260.0 L269.40,260.6 L269.60,273.0 L269.87,273.8 L270.13,267.2 L270.40,268.0 L270.67,270.8 L270.93,276.5 L271.20,285.0 L271.50,285.3 L271.80,296.0 L272.03,299.2 L272.27,306.4 L272.50,310.0 L272.73,309.2 L272.97,309.8 L273.20,322.0 L273.45,315.3 L273.70,322.8 L273.95,313.2 L274.20,314.0 L274.47,313.5 L274.73,308.3 L275.00,308.0 L275.25,303.3 L275.50,303.4 L275.75,300.7 L276.00,300.0 L276.25,294.2 L276.50,300.5 L276.75,294.2 L277.00,295.0 L277.25,295.8 L277.50,287.2 L277.75,287.2 L278.00,288.0 L278.25,288.8 L278.50,285.9 L278.75,282.5 L279.00,283.0 L279.25,279.8 L279.50,276.9 L279.75,281.1 L280.00,273.0 L280.24,267.2 L280.48,268.2 L280.72,267.2 L280.96,269.8 L281.20,268.0 L281.44,268.8 L281.68,268.8 L281.92,262.3 L282.16,261.6 L282.40,262.4 L282.64,256.0 L282.88,259.0 L283.12,256.7 L283.36,254.5 L283.60,252.8 L283.84,253.2 L284.08,254.6 L284.32,258.9 L284.56,256.2 L284.80,260.0 L285.04,262.5 L285.28,265.6 L285.52,259.2 L285.76,265.6 L286.00,264.8 L286.24,265.7 L286.48,264.0 L286.72,272.6 L286.96,274.4 L287.20,275.0 L287.44,274.2 L287.68,282.8 L287.92,285.7 L288.16,287.2 L288.40,290.0 L288.70,295.6 L289.00,301.0 L289.25,297.7 L289.50,292.1 L289.75,287.9 L290.00,285.0 L290.23,284.8 L290.47,280.7 L290.70,275.6 L290.93,277.6 L291.17,271.7 L291.40,267.2 L291.65,268.0 L291.90,261.9 L292.15,266.1 L292.40,262.0 L292.65,261.5 L292.90,258.6 L293.15,259.6 L293.40,257.8 L293.65,265.2 L293.90,270.0 L294.15,264.1 L294.40,270.0 L294.65,269.2 L294.90,283.1 L295.15,284.4 L295.40,283.6 L295.67,289.6 L295.93,292.8 L296.20,292.0 L296.50,291.2 L296.80,297.6 L297.07,299.7 L297.33,301.9 L297.60,304.0 L297.87,293.0 L298.13,289.4 L298.40,288.0 L298.64,288.8 L298.88,286.2 L299.12,286.2 L299.36,286.2 L299.60,287.0 L299.87,295.7 L300.13,304.7 L300.40,305.0 L300.67,294.2 L300.93,298.4 L301.20,290.0 L301.47,306.6 L301.73,306.0 L302.00,307.6 L302.24,308.3 L302.48,306.8 L302.72,306.8 L302.96,306.8 L303.20,308.8 L303.40,320.0 L303.60,319.2 L303.80,334.0 L304.10,345.8 L304.40,345.0 L304.70,356.4 L305.00,358.0 L305.30,366.1 L305.60,368.0 L305.90,370.3 L306.20,370.4 L306.50,369.8 L306.80,350.0 L307.10,343.2 L307.40,340.0 L307.70,336.5 L308.00,333.2 L308.27,337.1 L308.53,341.3 L308.80,345.0 L309.10,343.0 L309.40,338.0 L309.67,340.6 L309.93,344.1 L310.20,352.0 L310.47,351.5 L310.73,338.4 L311.00,332.0 L311.30,353.6 L311.60,356.0 L311.85,355.2 L312.10,364.8 L312.35,364.8 L312.60,364.0 L312.87,372.8 L313.13,363.2 L313.40,372.0 L313.70,372.3 L314.00,371.6 L314.20,384.9 L314.40,392.0 L314.65,388.1 L314.90,383.7 L315.15,379.1 L315.40,378.0 L315.65,393.8 L315.90,386.2 L316.15,391.1 L316.40,393.0 L316.65,392.1 L316.90,376.2 L317.15,380.6 L317.40,377.0 L317.70,387.3 L318.00,392.0 L318.30,403.8 L318.60,411.0 L318.85,408.7 L319.10,405.3 L319.35,403.9 L319.60,400.0 L319.85,394.8 L320.10,398.4 L320.35,394.0 L320.60,392.0 L320.85,391.2 L321.10,391.2 L321.35,396.8 L321.60,396.0 L321.87,393.3 L322.13,394.6 L322.40,392.0 L322.65,389.5 L322.90,379.8 L323.15,385.0 L323.40,380.0 L323.67,372.0 L323.93,372.5 L324.20,370.4 L324.47,373.2 L324.73,373.3 L325.00,382.0 L325.25,382.7 L325.50,382.5 L325.75,382.0 L326.00,384.8 L326.25,387.8 L326.50,386.3 L326.75,386.9 L327.00,388.0 L327.25,386.5 L327.50,386.1 L327.75,385.3 L328.00,385.0 L328.25,383.8 L328.50,382.2 L328.75,382.2 L329.00,383.0 L329.24,382.2 L329.48,382.2 L329.72,384.4 L329.96,382.2 L330.20,383.6 L330.47,388.8 L330.73,382.8 L331.00,392.0 L331.25,395.9 L331.50,391.2 L331.75,399.3 L332.00,400.0 L332.24,399.2 L332.48,403.4 L332.72,414.8 L332.96,399.2 L333.20,414.0 L333.47,422.8 L333.73,415.9 L334.00,425.0 L334.25,438.8 L334.50,438.8 L334.75,433.6 L335.00,438.0 L335.20,458.6 L335.40,461.0 L335.67,457.6 L335.93,450.6 L336.20,448.0 L336.47,447.1 L336.73,439.2 L337.00,440.0 L337.25,440.8 L337.50,434.8 L337.75,435.1 L338.00,434.0 L338.24,434.8 L338.48,433.7 L338.72,429.4 L338.96,428.8 L339.20,429.6 L339.45,429.8 L339.70,436.2 L339.95,437.4 L340.20,440.0 L340.43,441.9 L340.67,439.2 L340.90,446.1 L341.13,450.8 L341.37,441.1 L341.60,450.0 L341.87,463.4 L342.13,464.8 L342.40,464.0 L342.60,464.8 L342.80,458.0 L343.00,474.4 L343.20,476.0 L343.40,476.8 L343.60,462.0 L343.80,476.8 L344.00,482.0 L344.20,467.9 L344.40,464.0 L344.60,476.7 L344.80,484.0 L345.00,473.8 L345.20,466.0 L345.40,472.9 L345.60,484.0 L345.80,478.8 L346.00,470.0 L346.20,476.5 L346.40,485.6 L346.60,477.7 L346.80,468.0 L347.00,472.2 L347.20,478.0 L347.40,465.9 L347.60,460.0 L347.80,460.6 L348.00,470.0 L348.20,468.0 L348.40,455.0 L348.60,456.9 L348.80,468.0 L349.10,466.2 L349.40,466.0 L349.70,456.5 L350.00,452.0 L350.30,452.6 L350.60,462.0 L350.90,449.6 L351.20,440.4 L351.50,452.9 L351.80,455.0 L352.10,446.7 L352.40,432.0 L352.70,444.1 L353.00,450.0 L353.30,436.0 L353.60,422.4 L353.90,433.3 L354.20,447.0 L354.50,437.3 L354.80,428.0 L355.07,436.0 L355.33,445.3 L355.60,452.0 L355.85,454.9 L356.10,454.9 L356.35,456.3 L356.60,459.6 L356.90,442.5 L357.20,430.0 L357.50,440.6 L357.80,452.0 L358.10,438.4 L358.40,424.8 L358.67,437.7 L358.93,445.4 L359.20,452.0 L359.50,441.0 L359.80,430.0 L360.07,435.1 L360.33,444.3 L360.60,454.0 L360.85,435.9 L361.10,432.2 L361.35,425.2 L361.60,415.8 L361.90,430.2 L362.20,438.0 L362.50,424.5 L362.80,422.0 L363.10,428.3 L363.40,430.0 L363.67,425.9 L363.93,425.4 L364.20,423.0 L364.47,423.8 L364.73,423.8 L365.00,421.2 L365.30,411.1 L365.60,403.2 L365.85,410.1 L366.10,412.3 L366.35,410.0 L366.60,415.0 L366.83,416.9 L367.07,420.4 L367.30,422.4 L367.53,419.8 L367.77,425.0 L368.00,429.6 L368.25,426.8 L368.50,422.3 L368.75,419.8 L369.00,415.0 L369.27,412.5 L369.53,407.6 L369.80,405.6 L370.05,404.8 L370.30,404.8 L370.55,414.8 L370.80,414.0 L371.07,413.2 L371.33,422.0 L371.60,421.2 L371.84,418.9 L372.08,415.0 L372.32,407.9 L372.56,401.5 L372.80,402.0 L373.04,399.8 L373.28,387.4 L373.52,395.6 L373.76,384.3 L374.00,384.8 L374.23,384.0 L374.47,390.1 L374.70,389.8 L374.93,390.8 L375.17,387.7 L375.40,390.0 L375.67,382.6 L375.93,390.0 L376.20,386.2 L376.47,385.1 L376.73,382.5 L377.00,381.8 L377.00,411.6 L377.26,409.6 L377.51,406.7 L377.77,404.1 L378.03,401.9 L378.29,400.1 L378.54,394.0 L378.80,394.4 L379.04,392.8 L379.28,392.3 L379.52,392.8 L379.76,389.9 L380.00,390.0 L380.23,390.0 L380.47,390.6 L380.70,388.7 L380.93,386.3 L381.17,385.6 L381.40,384.8 L381.64,384.0 L381.88,387.7 L382.12,389.7 L382.36,392.8 L382.60,392.0 L382.85,394.6 L383.10,392.4 L383.35,391.4 L383.60,398.0 L383.84,402.8 L384.08,397.2 L384.32,397.2 L384.56,402.8 L384.80,402.0 L385.04,401.2 L385.28,403.4 L385.52,408.0 L385.76,404.6 L386.00,410.0 L386.24,409.2 L386.48,419.3 L386.72,420.8 L386.96,420.0 L387.20,420.0 L387.46,426.4 L387.71,425.5 L387.97,429.7 L388.23,430.8 L388.49,438.0 L388.74,439.1 L389.00,442.8 L389.30,425.3 L389.60,405.6 L389.84,409.7 L390.08,408.7 L390.32,412.3 L390.56,416.8 L390.80,417.6 L391.04,414.1 L391.28,416.9 L391.52,411.6 L391.76,411.9 L392.00,411.0 L392.24,411.5 L392.48,411.2 L392.72,408.4 L392.96,408.4 L393.20,409.2 L393.43,408.8 L393.67,409.4 L393.90,414.0 L394.13,415.4 L394.37,413.1 L394.60,415.0 L394.87,418.2 L395.13,416.1 L395.40,414.2 L395.67,419.1 L395.93,419.8 L396.20,421.2 L396.47,422.0 L396.73,417.2 L397.00,410.0 L397.25,409.3 L397.50,407.0 L397.75,407.4 L398.00,405.6 L398.23,406.3 L398.47,400.7 L398.70,399.2 L398.93,398.1 L399.17,391.2 L399.40,389.0 L399.70,389.0 L400.00,393.4 L400.24,395.4 L400.48,395.5 L400.72,397.1 L400.96,398.5 L401.20,398.0 L401.44,402.6 L401.68,400.7 L401.92,401.7 L402.16,403.8 L402.40,403.0 L402.65,403.6 L402.90,407.3 L403.15,409.8 L403.40,412.0 L403.65,414.2 L403.90,415.2 L404.15,420.1 L404.40,422.2 L404.65,418.2 L404.90,412.2 L405.15,405.7 L405.40,403.0 L405.64,399.9 L405.88,394.1 L406.12,393.8 L406.36,391.4 L406.60,385.0 L406.84,387.5 L407.08,388.3 L407.32,392.6 L407.56,397.9 L407.80,400.6 L408.07,401.6 L408.33,401.5 L408.60,402.0 L408.87,402.8 L409.13,401.2 L409.40,402.0 L409.63,401.2 L409.87,401.2 L410.10,403.8 L410.33,403.4 L410.57,402.4 L410.80,403.0 L411.04,401.2 L411.28,399.0 L411.52,394.6 L411.76,387.8 L412.00,388.6 L412.23,389.8 L412.47,387.8 L412.70,389.0 L412.93,388.0 L413.17,389.7 L413.40,390.0 L413.67,390.8 L413.93,390.0 L414.20,390.8 L414.47,387.7 L414.73,386.8 L415.00,387.4 L415.24,390.4 L415.48,390.0 L415.72,392.6 L415.96,394.4 L416.20,394.6 L416.45,396.1 L416.70,398.5 L416.95,402.9 L417.20,405.4 L417.47,399.6 L417.73,392.6 L418.00,385.0 L418.23,385.8 L418.47,381.5 L418.70,381.3 L418.93,376.8 L419.17,381.4 L419.40,376.6 L419.64,380.5 L419.88,386.5 L420.12,384.0 L420.36,387.9 L420.60,391.0 L420.87,399.1 L421.13,408.7 L421.40,417.4 L421.63,417.4 L421.87,402.2 L422.10,414.2 L422.33,405.3 L422.57,404.2 L422.80,403.0 L423.04,409.8 L423.28,402.2 L423.52,402.7 L423.76,410.2 L424.00,410.0 L424.30,419.9 L424.60,422.0 L424.87,420.2 L425.13,414.2 L425.40,415.0 L425.65,421.7 L425.90,421.7 L426.15,426.6 L426.40,431.8 L426.63,430.9 L426.87,424.6 L427.10,421.0 L427.33,417.6 L427.57,414.4 L427.80,410.0 L428.04,411.3 L428.28,414.4 L428.52,413.0 L428.76,418.8 L429.00,418.0 L429.25,419.7 L429.50,428.2 L429.75,432.6 L430.00,431.8 L430.24,432.0 L430.48,425.0 L430.72,412.2 L430.96,408.2 L431.20,409.0 L431.46,409.2 L431.71,407.6 L431.97,405.9 L432.23,401.8 L432.49,401.9 L432.74,405.8 L433.00,398.0 L433.27,399.8 L433.53,397.2 L433.80,399.8 L434.07,397.2 L434.33,399.8 L434.60,399.0 L434.83,399.8 L435.07,399.7 L435.30,397.2 L435.53,395.4 L435.77,396.0 L436.00,395.8 L436.24,394.2 L436.48,395.1 L436.72,392.3 L436.96,391.6 L437.20,389.8 L437.46,390.0 L437.71,392.8 L437.97,395.6 L438.23,396.1 L438.49,399.2 L438.74,398.5 L439.00,400.6 L439.24,403.8 L439.48,399.8 L439.72,403.8 L439.96,400.5 L440.20,401.4 L440.44,401.7 L440.68,403.8 L440.92,401.6 L441.16,403.8 L441.40,403.0 L441.70,422.5 L442.00,425.8 L442.24,422.5 L442.48,419.7 L442.72,412.1 L442.96,415.4 L443.20,412.6 L443.43,413.2 L443.67,410.6 L443.90,408.6 L444.13,407.7 L444.37,402.2 L444.60,403.0 L444.87,409.4 L445.13,416.4 L445.40,419.8 L445.64,424.6 L445.88,428.5 L446.12,435.7 L446.36,430.3 L446.60,440.2 L446.83,433.1 L447.07,434.5 L447.30,432.1 L447.53,428.0 L447.77,425.6 L448.00,417.4 L448.26,418.2 L448.51,414.1 L448.77,415.8 L449.03,410.4 L449.29,402.2 L449.54,410.5 L449.80,403.0 L450.05,391.2 L450.30,402.5 L450.55,397.1 L450.80,392.0 L451.05,391.8 L451.30,387.9 L451.55,383.8 L451.80,380.8 L452.07,382.5 L452.33,385.6 L452.60,389.0 L452.87,391.0 L453.13,388.8 L453.40,395.8 L453.66,398.3 L453.91,401.4 L454.17,401.4 L454.43,395.0 L454.69,401.4 L454.94,401.4 L455.20,400.6 L455.50,412.1 L455.80,414.0 L456.10,426.6 L456.40,427.0 L456.64,427.8 L456.88,427.8 L457.12,425.7 L457.36,423.2 L457.60,424.0 L457.84,426.6 L458.08,423.2 L458.32,424.7 L458.56,424.2 L458.80,425.8 L459.04,426.6 L459.28,424.4 L459.52,425.8 L459.76,423.3 L460.00,422.2 L460.26,423.0 L460.51,424.9 L460.77,424.6 L461.03,425.8 L461.29,427.9 L461.54,427.7 L461.80,429.4 L462.06,426.3 L462.31,429.7 L462.57,421.6 L462.83,421.4 L463.09,421.4 L463.34,421.4 L463.60,422.2 L463.84,413.9 L464.08,414.7 L464.32,408.8 L464.56,406.9 L464.80,403.0 L465.06,403.7 L465.31,403.9 L465.57,409.5 L465.83,409.2 L466.09,410.5 L466.34,409.0 L466.60,412.6 L466.83,413.8 L467.07,414.8 L467.30,411.9 L467.53,411.8 L467.77,411.8 L468.00,416.0 L468.27,415.5 L468.53,414.2 L468.80,414.2 L469.07,414.7 L469.33,414.5 L469.60,415.0 L469.83,416.8 L470.07,414.8 L470.30,418.5 L470.53,417.3 L470.77,420.9 L471.00,422.0 L471.25,425.6 L471.50,423.1 L471.75,426.5 L472.00,429.4 L472.24,423.4 L472.48,421.9 L472.72,421.2 L472.96,417.5 L473.20,415.0 L473.46,412.9 L473.71,411.2 L473.97,409.4 L474.23,408.1 L474.49,408.1 L474.74,409.1 L475.00,406.6 L475.27,411.0 L475.53,413.5 L475.80,417.4 L476.07,413.5 L476.33,409.5 L476.60,407.5 L476.87,403.3 L477.13,402.8 L477.40,401.8 L477.70,415.7 L478.00,428.2 L478.24,426.8 L478.48,428.2 L478.72,428.0 L478.96,424.1 L479.20,424.0 L479.44,423.2 L479.68,424.9 L479.92,424.9 L480.16,426.1 L480.40,425.8 L480.64,423.2 L480.88,421.3 L481.12,418.2 L481.36,418.0 L481.60,415.0 L481.84,413.2 L482.08,409.5 L482.32,407.2 L482.56,403.4 L482.80,400.6 L483.04,405.0 L483.28,406.5 L483.52,409.8 L483.76,413.8 L484.00,417.4 L484.23,419.6 L484.47,422.7 L484.70,420.8 L484.93,426.8 L485.17,425.3 L485.40,428.2 L485.67,426.9 L485.93,424.4 L486.20,422.4 L486.47,417.7 L486.73,419.5 L487.00,415.0 L487.26,418.5 L487.51,414.9 L487.77,417.7 L488.03,420.1 L488.29,421.7 L488.54,419.7 L488.80,422.2 L489.03,417.6 L489.27,415.4 L489.50,415.7 L489.73,411.5 L489.97,411.8 L490.20,406.6 L490.44,411.7 L490.68,417.2 L490.92,422.0 L491.16,424.4 L491.40,431.2 L491.64,428.5 L491.88,427.4 L492.12,423.4 L492.36,426.7 L492.60,422.2" fill="none" stroke="#0d355a" stroke-width="1.2" stroke-linejoin="miter" stroke-miterlimit="3.0"/>
<path d="M196.80,285.3 L197.33,289.3 L197.85,286.1 L198.35,289.6 L198.85,285.1 L199.35,289.4 L199.87,287.2 L200.40,296.7 L200.90,287.2 L201.40,290.5 L201.88,279.0 L202.36,286.3 L202.85,287.4 L203.35,295.9 L203.85,297.1 L204.35,308.6 L204.85,305.3 L205.35,313.7 L205.85,313.9 L206.35,316.7 L206.87,312.9 L207.40,325.3 L208.00,330.1 L208.53,343.7 L209.10,339.3 L209.65,349.8 L210.15,345.9 L210.67,347.7 L211.20,335.5 L211.70,334.2 L212.20,325.1 L212.73,327.1 L213.30,325.4 L213.87,329.1 L214.40,315.7 L214.90,310.6 L215.40,302.0 L215.90,306.6 L216.40,301.7 L216.88,309.7 L217.36,305.0 L217.85,312.9 L218.35,308.2 L218.85,318.4 L219.35,316.0 L219.83,319.0 L220.30,314.8 L220.77,318.1 L221.27,307.9 L221.80,304.9 L222.30,293.3 L222.97,298.7 L223.47,301.8 L224.00,312.2 L224.60,309.5 L225.10,316.5 L225.60,303.4 L226.13,310.1 L226.65,303.2 L227.15,312.1 L227.70,306.2 L228.27,310.6 L228.80,297.7 L229.33,295.3 L229.84,285.4 L230.32,285.1 L230.80,278.7 L231.31,281.1 L231.83,273.2 L232.34,275.5 L232.84,264.6 L233.32,268.6 L233.80,263.2 L234.28,266.8 L234.76,262.5 L235.24,270.5 L235.72,265.0 L236.20,266.5 L236.68,261.0 L237.16,266.4 L237.67,259.9 L238.20,270.9 L238.80,271.9 L239.47,283.0 L239.93,275.7 L240.40,277.6 L240.88,269.1 L241.36,269.1 L241.87,259.9 L242.40,262.3 L242.90,256.8 L243.40,267.9 L243.88,266.5 L244.36,276.7 L244.90,270.4 L245.44,276.7 L245.92,268.1 L246.40,268.7 L246.88,257.5 L247.36,259.6 L247.84,253.1 L248.32,254.4 L248.80,248.8 L249.28,252.7 L249.76,245.9 L250.25,249.5 L250.75,244.2 L251.27,247.3 L251.80,234.3 L252.47,233.7 L253.00,228.7 L253.60,235.4 L254.08,232.0 L254.56,238.9 L255.04,232.1 L255.52,240.2 L256.00,235.5 L256.50,240.0 L257.00,241.6 L257.53,246.8 L258.10,238.3 L258.70,241.5 L259.25,232.5 L259.75,233.8 L260.27,226.0 L260.80,229.7 L261.33,218.4 L261.90,219.8 L262.47,210.6 L263.00,214.8 L263.53,210.3 L264.10,220.4 L264.70,217.9 L265.25,229.3 L265.75,227.0 L266.25,233.3 L266.75,230.6 L267.25,238.3 L267.75,236.1 L268.30,248.9 L268.90,251.8 L269.40,264.1 L269.87,263.6 L270.40,275.2 L270.93,275.8 L271.50,291.7 L272.03,294.9 L272.50,309.5 L272.97,310.4 L273.45,316.1 L273.95,309.0 L274.47,315.3 L275.00,304.6 L275.50,306.3 L276.00,296.8 L276.50,300.6 L277.00,292.6 L277.50,292.9 L278.00,286.8 L278.50,289.1 L279.00,279.8 L279.50,280.8 L280.00,269.9 L280.48,273.9 L280.96,266.9 L281.44,270.4 L281.92,260.8 L282.40,264.8 L282.88,256.4 L283.36,257.4 L283.84,251.8 L284.32,257.7 L284.80,256.3 L285.28,265.3 L285.76,262.3 L286.24,269.0 L286.72,267.7 L287.20,279.5 L287.68,275.8 L288.16,290.8 L288.70,289.2 L289.25,295.2 L289.75,285.8 L290.23,289.5 L290.70,276.2 L291.17,274.7 L291.65,265.3 L292.15,265.7 L292.65,259.4 L293.15,266.9 L293.65,260.9 L294.15,272.0 L294.65,271.7 L295.15,284.7 L295.67,285.0 L296.20,293.9 L296.80,294.5 L297.33,298.2 L297.87,291.7 L298.40,294.9 L298.88,286.3 L299.36,295.7 L299.87,292.5 L300.40,303.1 L300.93,299.0 L301.47,303.4 L302.00,301.8 L302.48,309.6 L302.96,312.9 L303.60,326.7 L304.10,337.7 L304.70,354.8 L305.30,363.3 L305.90,372.5 L306.50,357.4 L307.10,348.7 L307.70,338.9 L308.27,345.1 L308.80,336.9 L309.40,345.1 L309.93,340.5 L310.47,345.5 L311.00,347.0 L311.60,356.1 L312.10,359.2 L312.60,368.6 L313.13,366.8 L313.70,376.4 L314.20,378.7 L314.90,385.9 L315.40,384.9 L315.90,389.2 L316.40,386.5 L316.90,386.2 L317.40,382.0 L318.00,395.3 L318.60,401.7 L319.10,404.9 L319.60,399.1 L320.10,400.3 L320.60,390.6 L321.10,396.5 L321.60,390.2 L322.13,394.9 L322.65,386.5 L323.15,384.4 L323.67,374.8 L324.20,376.5 L324.73,374.7 L325.25,381.2 L325.75,381.0 L326.25,388.5 L326.75,384.6 L327.25,387.3 L327.75,384.2 L328.25,388.1 L328.75,381.9 L329.24,385.9 L329.72,381.2 L330.20,389.1 L330.73,384.2 L331.25,395.0 L331.75,395.9 L332.24,404.8 L332.72,405.3 L333.20,415.1 L333.73,416.5 L334.25,431.9 L334.75,440.0 L335.40,454.2 L335.93,450.6 L336.47,449.3 L337.00,438.0 L337.50,439.4 L338.00,433.7 L338.48,433.3 L338.96,430.7 L339.45,434.7 L339.95,432.3 L340.43,444.3 L340.90,442.1 L341.37,452.8 L341.87,453.9 L342.40,468.3 L343.00,465.2 L343.60,471.8 L344.20,470.0 L344.80,478.3 L345.40,472.0 L346.00,476.8 L346.60,472.7 L347.20,472.7 L347.80,461.2 L348.40,465.8 L349.10,457.9 L349.70,464.2 L350.30,448.6 L350.90,453.0 L351.50,446.1 L352.10,449.9 L352.70,441.4 L353.30,440.3 L353.90,433.5 L354.50,438.9 L355.07,439.3 L355.60,449.3 L356.10,449.2 L356.60,450.8 L357.20,442.8 L357.80,438.5 L358.40,436.9 L358.93,440.2 L359.50,439.8 L360.07,444.2 L360.60,434.1 L361.10,437.5 L361.60,425.8 L362.20,426.9 L362.80,424.7 L363.40,426.9 L363.93,423.6 L364.47,425.1 L365.00,412.9 L365.60,416.1 L366.10,410.4 L366.60,418.6 L367.07,414.8 L367.53,427.1 L368.00,421.8 L368.50,423.9 L369.00,414.8 L369.53,412.0 L370.05,408.1 L370.55,415.0 L371.07,412.5 L371.60,419.9 L372.08,410.2 L372.56,408.1 L373.04,392.8 L373.52,392.0 L374.00,385.8 L374.47,390.1 L374.93,386.2 L375.40,389.5 L375.93,383.4 L376.47,393.8 L377.00,394.3 L377.51,401.5 L378.03,397.6 L378.54,398.4 L379.04,390.4 L379.52,395.3 L380.00,387.0 L380.47,390.4 L380.93,385.6 L381.40,390.0 L381.88,382.9 L382.36,392.7 L382.85,388.9 L383.35,396.5 L383.84,396.0 L384.32,401.2 L384.80,399.9 L385.28,407.8 L385.76,405.6 L386.24,415.7 L386.72,415.9 L387.20,425.8 L387.71,424.4 L388.23,435.3 L388.74,426.1 L389.30,426.4 L389.84,415.6 L390.32,417.2 L390.80,410.9 L391.28,416.2 L391.76,410.3 L392.24,414.0 L392.72,406.0 L393.20,411.8 L393.67,404.6 L394.13,417.5 L394.60,413.0 L395.13,419.8 L395.67,415.4 L396.20,420.1 L396.73,411.0 L397.25,417.3 L397.75,404.1 L398.23,406.4 L398.70,396.2 L399.17,396.3 L399.70,391.1 L400.24,395.8 L400.72,394.0 L401.20,402.6 L401.68,400.0 L402.16,405.0 L402.65,404.4 L403.15,412.1 L403.65,412.3 L404.15,419.3 L404.65,412.8 L405.15,411.0 L405.64,399.1 L406.12,396.4 L406.60,386.0 L407.08,395.4 L407.56,394.6 L408.07,401.2 L408.60,397.8 L409.13,404.3 L409.63,400.5 L410.10,403.9 L410.57,401.0 L411.04,400.6 L411.52,391.1 L412.00,394.9 L412.47,385.9 L412.93,390.3 L413.40,388.5 L413.93,391.3 L414.47,387.8 L415.00,393.6 L415.48,387.5 L415.96,396.0 L416.45,396.9 L416.95,399.6 L417.47,394.7 L418.00,393.7 L418.47,381.1 L418.93,383.5 L419.40,378.6 L419.88,384.8 L420.36,389.6 L420.87,403.1 L421.40,404.6 L421.87,413.0 L422.33,405.5 L422.80,408.5 L423.28,402.8 L423.76,412.4 L424.30,410.0 L424.87,421.4 L425.40,419.2 L425.90,425.1 L426.40,422.4 L426.87,427.4 L427.33,416.0 L427.80,418.0 L428.28,412.5 L428.76,419.2 L429.25,420.2 L429.75,427.7 L430.24,420.8 L430.72,422.0 L431.20,408.6 L431.71,407.3 L432.23,401.4 L432.74,402.5 L433.27,397.4 L433.80,402.4 L434.33,396.7 L434.83,400.9 L435.30,394.3 L435.77,397.2 L436.24,393.2 L436.72,393.9 L437.20,388.4 L437.71,394.6 L438.23,395.2 L438.74,402.8 L439.24,398.9 L439.72,402.9 L440.20,398.6 L440.68,403.2 L441.16,405.8 L441.70,417.3 L442.24,413.7 L442.72,419.5 L443.20,411.1 L443.67,413.2 L444.13,404.0 L444.60,413.9 L445.13,410.8 L445.64,426.8 L446.12,428.7 L446.60,437.0 L447.07,429.9 L447.53,430.5 L448.00,417.7 L448.51,418.6 L449.03,405.0 L449.54,407.6 L450.05,396.6 L450.55,398.0 L451.05,387.6 L451.55,389.5 L452.07,384.2 L452.60,389.2 L453.13,389.4 L453.66,397.5 L454.17,395.0 L454.69,403.8 L455.20,400.0 L455.80,418.5 L456.40,421.2 L456.88,426.9 L457.36,422.1 L457.84,427.2 L458.32,421.4 L458.80,425.9 L459.28,423.2 L459.76,426.1 L460.26,422.3 L460.77,427.0 L461.29,423.4 L461.80,427.9 L462.31,424.0 L462.83,426.9 L463.34,415.5 L463.84,418.3 L464.32,407.0 L464.80,411.3 L465.31,404.3 L465.83,411.7 L466.34,408.1 L466.83,413.7 L467.30,409.4 L467.77,414.6 L468.27,411.1 L468.80,415.8 L469.33,411.9 L469.83,418.4 L470.30,414.9 L470.77,423.1 L471.25,421.6 L471.75,427.9 L472.24,419.4 L472.72,424.4 L473.20,414.6 L473.71,412.6 L474.23,407.8 L474.74,412.1 L475.27,408.3 L475.80,414.3 L476.33,407.3 L476.87,408.6 L477.40,408.1 L478.00,420.6 L478.48,419.7 L478.96,429.1 L479.44,424.0 L479.92,428.6 L480.40,422.2 L480.88,422.2 L481.36,415.0 L481.84,414.6 L482.32,405.2 L482.80,406.8 L483.28,405.2 L483.76,417.2 L484.23,416.5 L484.70,426.0 L485.17,423.8 L485.67,426.1 L486.20,419.5 L486.73,422.6 L487.26,414.4 L487.77,420.6 L488.29,417.6 L488.80,422.6 L489.27,415.0 L489.73,415.7 L490.20,412.3 L490.68,418.8 L491.16,419.7 L491.64,427.6 L492.12,423.9 L492.60,428.5" fill="none" stroke="#0d355a" stroke-width="0.9" stroke-linejoin="miter" stroke-miterlimit="4.0"/>
<path d="M495.20,412.4 L495.45,411.5 L495.70,412.1 L495.95,412.0 L496.20,411.6 L496.45,408.8 L496.70,410.0 L496.95,409.3 L497.20,407.6 L497.46,405.5 L497.71,405.0 L497.97,405.8 L498.23,401.6 L498.49,401.0 L498.74,401.2 L499.00,400.3 L499.26,400.2 L499.51,398.3 L499.77,399.3 L500.03,394.4 L500.29,393.4 L500.54,393.0 L500.80,392.9 L501.04,390.5 L501.28,391.8 L501.52,389.1 L501.76,390.4 L502.00,384.9 L502.26,379.5 L502.51,383.8 L502.77,381.2 L503.03,377.6 L503.29,377.4 L503.54,373.6 L503.80,373.4 L504.03,371.1 L504.27,370.9 L504.50,369.3 L504.73,368.1 L504.97,368.1 L505.20,366.5 L505.45,370.1 L505.70,372.4 L505.95,375.3 L506.20,377.1 L506.44,377.2 L506.68,381.0 L506.92,380.3 L507.16,378.8 L507.40,382.6 L507.64,383.3 L507.88,386.0 L508.12,385.5 L508.36,388.2 L508.60,389.8 L508.87,390.2 L509.13,393.4 L509.40,395.1 L509.65,398.0 L509.90,401.7 L510.15,402.9 L510.40,405.8 L510.65,403.4 L510.90,401.4 L511.15,398.5 L511.40,395.2 L511.65,393.7 L511.90,393.9 L512.15,392.3 L512.40,390.2 L512.63,389.2 L512.87,388.6 L513.10,390.2 L513.33,389.1 L513.57,389.2 L513.80,389.4 L514.07,389.6 L514.33,388.4 L514.60,388.4 L514.87,388.7 L515.13,388.3 L515.40,388.5 L515.64,386.8 L515.88,387.4 L516.12,387.1 L516.36,386.3 L516.60,386.5 L516.84,384.9 L517.08,386.4 L517.32,385.1 L517.56,384.0 L517.80,384.2 L518.07,382.7 L518.33,382.3 L518.60,382.8 L518.87,381.5 L519.13,381.4 L519.40,381.0 L519.63,381.5 L519.87,381.6 L520.10,381.5 L520.33,382.6 L520.57,383.4 L520.80,384.1 L521.06,384.3 L521.31,384.7 L521.57,382.3 L521.83,382.5 L522.09,382.8 L522.34,383.2 L522.60,383.9 L522.86,385.2 L523.11,385.7 L523.37,386.7 L523.63,385.7 L523.89,387.8 L524.14,387.9 L524.40,390.5 L524.64,391.1 L524.88,390.9 L525.12,390.7 L525.36,388.4 L525.60,389.2 L525.84,389.2 L526.08,390.1 L526.32,390.2 L526.56,391.8 L526.80,392.2 L527.04,393.0 L527.28,396.4 L527.52,393.8 L527.76,399.6 L528.00,399.8 L528.30,405.6 L528.60,410.4 L528.87,409.3 L529.13,411.8 L529.40,409.0 L529.65,410.0 L529.90,409.3 L530.15,411.1 L530.40,410.8 L530.65,412.3 L530.90,413.0 L531.15,413.3 L531.40,414.0 L531.64,414.1 L531.88,415.1 L532.12,415.0 L532.36,416.0 L532.60,416.5 L532.87,412.7 L533.13,405.8 L533.40,400.7 L533.67,403.3 L533.93,405.4 L534.20,407.1 L534.45,406.2 L534.70,408.1 L534.95,410.0 L535.20,411.1 L535.47,409.2 L535.73,408.7 L536.00,407.3 L536.25,406.7 L536.50,404.9 L536.75,405.7 L537.00,404.9 L537.26,404.3 L537.51,405.5 L537.77,404.9 L538.03,404.5 L538.29,405.6 L538.54,405.8 L538.80,405.4 L539.06,405.0 L539.31,404.0 L539.57,403.7 L539.83,402.5 L540.09,401.4 L540.34,400.3 L540.60,400.1 L540.86,400.0 L541.11,400.7 L541.37,401.3 L541.63,402.4 L541.89,402.3 L542.14,401.3 L542.40,401.7 L542.64,404.6 L542.88,405.1 L543.12,402.5 L543.36,405.1 L543.60,404.3 L543.84,399.7 L544.08,399.4 L544.32,398.3 L544.56,393.3 L544.80,390.1 L545.04,390.7 L545.28,388.8 L545.52,390.2 L545.76,386.7 L546.00,388.2 L546.23,385.3 L546.47,384.1 L546.70,382.6 L546.93,383.9 L547.17,384.2 L547.40,381.7 L547.67,381.4 L547.93,381.2 L548.20,383.0 L548.47,384.7 L548.73,384.8 L549.00,385.6 L549.26,386.9 L549.51,386.6 L549.77,386.7 L550.03,387.1 L550.29,388.6 L550.54,388.9 L550.80,389.0 L551.04,388.8 L551.28,387.2 L551.52,386.9 L551.76,387.5 L552.00,387.2 L552.23,387.5 L552.47,387.5 L552.70,382.9 L552.93,384.7 L553.17,383.3 L553.40,383.7 L553.67,383.7 L553.93,387.1 L554.20,387.8 L554.47,389.9 L554.73,391.0 L555.00,393.1 L555.23,393.8 L555.47,396.9 L555.70,397.5 L555.93,400.0 L556.17,399.1 L556.40,401.6 L556.67,399.3 L556.93,399.1 L557.20,397.8 L557.47,395.8 L557.73,394.8 L558.00,390.9 L558.24,390.8 L558.48,390.3 L558.72,388.9 L558.96,388.4 L559.20,387.3 L559.44,386.8 L559.68,386.4 L559.92,386.3 L560.16,386.8 L560.40,386.0 L560.64,384.3 L560.88,383.5 L561.12,383.6 L561.36,384.8 L561.60,383.1 L561.84,382.2 L562.08,383.1 L562.32,381.5 L562.56,381.1 L562.80,380.5 L563.04,381.3 L563.28,382.2 L563.52,384.0 L563.76,383.9 L564.00,386.2 L564.26,388.2 L564.51,387.2 L564.77,390.5 L565.03,393.4 L565.29,393.1 L565.54,395.0 L565.80,395.0 L566.10,399.5 L566.40,401.8 L566.66,402.1 L566.91,397.6 L567.17,394.6 L567.43,398.0 L567.69,395.5 L567.94,393.3 L568.20,392.9 L568.44,392.3 L568.68,394.5 L568.92,396.5 L569.16,396.3 L569.40,397.3 L569.65,398.4 L569.90,400.2 L570.15,401.3 L570.40,402.4 L570.67,406.0 L570.93,406.3 L571.20,407.4 L571.46,407.5 L571.71,404.3 L571.97,404.6 L572.23,403.8 L572.49,401.7 L572.74,401.5 L573.00,400.7 L573.25,401.0 L573.50,401.8 L573.75,402.0 L574.00,403.4 L574.27,403.5 L574.53,403.4 L574.80,406.4 L575.04,404.3 L575.28,401.5 L575.52,400.1 L575.76,395.1 L576.00,394.1 L576.24,393.6 L576.48,394.8 L576.72,394.8 L576.96,392.8 L577.20,394.1 L577.44,392.8 L577.68,393.9 L577.92,391.8 L578.16,393.4 L578.40,393.8 L578.66,395.6 L578.91,394.9 L579.17,395.9 L579.43,397.5 L579.69,397.5 L579.94,397.6 L580.20,397.8 L580.46,396.9 L580.71,395.4 L580.97,394.8 L581.23,395.2 L581.49,394.1 L581.74,393.5 L582.00,392.2 L582.24,391.6 L582.48,393.0 L582.72,392.0 L582.96,392.4 L583.20,391.6 L583.44,393.1 L583.68,392.5 L583.92,394.0 L584.16,394.2 L584.40,394.1 L584.64,395.3 L584.88,397.7 L585.12,396.5 L585.36,397.9 L585.60,398.6 L585.84,399.1 L586.08,400.5 L586.32,400.6 L586.56,401.6 L586.80,402.0 L587.07,402.5 L587.33,402.1 L587.60,403.6 L587.87,403.6 L588.13,403.1 L588.40,403.4 L588.63,401.6 L588.87,401.5 L589.10,399.9 L589.33,399.1 L589.57,397.2 L589.80,396.8 L590.06,398.0 L590.31,397.4 L590.57,399.0 L590.83,399.6 L591.09,400.5 L591.34,400.5 L591.60,401.6 L591.84,401.3 L592.08,400.6 L592.32,402.3 L592.56,402.4 L592.80,400.1 L593.04,399.2 L593.28,401.1 L593.52,400.3 L593.76,400.3 L594.00,400.2 L594.24,399.8 L594.48,402.2 L594.72,402.8 L594.96,404.6 L595.20,405.2 L595.44,405.6 L595.68,405.2 L595.92,405.7 L596.16,405.5 L596.40,403.0 L596.64,403.3 L596.88,402.2 L597.12,403.0 L597.36,402.2 L597.60,401.0 L597.84,401.0 L598.08,397.8 L598.32,398.0 L598.56,396.9 L598.80,394.7 L599.04,394.5 L599.28,394.0 L599.52,396.7 L599.76,397.0 L600.00,394.5 L600.24,393.2 L600.48,395.9 L600.72,396.5 L600.96,396.6 L601.20,396.2 L601.47,395.3 L601.73,394.6 L602.00,394.1 L602.27,393.8 L602.53,392.7 L602.80,392.4 L603.03,392.6 L603.27,391.2 L603.50,390.2 L603.73,390.2 L603.97,390.3 L604.20,389.8 L604.44,391.6 L604.68,392.4 L604.92,392.7 L605.16,393.6 L605.40,395.6 L605.67,395.6 L605.93,396.0 L606.20,395.9 L606.47,396.2 L606.73,396.3 L607.00,395.8 L607.23,396.3 L607.47,395.4 L607.70,394.8 L607.93,395.2 L608.17,394.6 L608.40,394.4 L608.67,393.3 L608.93,394.3 L609.20,391.4 L609.47,389.8 L609.73,389.2 L610.00,389.3 L610.24,390.4 L610.48,388.6 L610.72,389.0 L610.96,388.0 L611.20,387.5 L611.44,389.0 L611.68,388.4 L611.92,388.8 L612.16,389.6 L612.40,389.7 L612.67,387.2 L612.93,386.0 L613.20,384.9 L613.44,388.8 L613.68,388.4 L613.92,387.4 L614.16,395.3 L614.40,394.6 L614.65,394.8 L614.90,390.6 L615.15,387.3 L615.40,385.5 L615.66,383.4 L615.91,384.7 L616.17,381.9 L616.43,380.6 L616.69,379.8 L616.94,379.0 L617.20,377.5 L617.50,372.1 L617.80,367.4 L618.07,366.5 L618.33,364.2 L618.60,362.7 L618.85,362.0 L619.10,365.3 L619.35,363.4 L619.60,365.5 L619.84,367.1 L620.08,366.2 L620.32,368.0 L620.56,369.2 L620.80,368.6 L621.04,368.1 L621.28,367.9 L621.52,368.0 L621.76,368.2 L622.00,367.7 L622.23,366.6 L622.47,365.1 L622.70,363.3 L622.93,361.9 L623.17,361.6 L623.40,359.5 L623.67,361.1 L623.93,361.8 L624.20,360.9 L624.47,363.2 L624.73,363.8 L625.00,365.1 L625.26,364.9 L625.51,366.3 L625.77,366.5 L626.03,366.6 L626.29,366.2 L626.54,365.6 L626.80,366.0 L627.04,366.2 L627.29,365.0 L627.53,362.4 L627.78,361.8 L628.02,362.8 L628.27,364.3 L628.51,361.8 L628.76,361.2 L629.00,360.6 L629.23,362.0 L629.47,363.9 L629.70,364.7 L629.93,367.8 L630.17,368.1 L630.40,369.2 L630.60,371.9 L630.80,374.4 L631.03,374.5 L631.27,373.8 L631.50,372.0 L631.73,372.4 L631.97,372.2 L632.20,371.3 L632.44,371.1 L632.68,370.4 L632.92,370.3 L633.16,368.8 L633.40,368.7 L633.64,367.6 L633.88,366.4 L634.12,367.7 L634.36,367.0 L634.60,365.3 L634.86,364.9 L635.11,364.1 L635.37,361.5 L635.63,359.3 L635.89,360.3 L636.14,359.5 L636.40,358.8 L636.66,358.7 L636.91,361.3 L637.17,360.6 L637.43,363.0 L637.69,364.6 L637.94,367.1 L638.20,367.2 L638.46,368.3 L638.71,368.5 L638.97,368.2 L639.23,368.7 L639.49,371.2 L639.74,371.4 L640.00,371.5 L640.26,373.3 L640.51,371.7 L640.77,373.6 L641.03,372.4 L641.29,375.1 L641.54,375.5 L641.80,376.3 L642.06,376.7 L642.31,376.9 L642.57,378.5 L642.83,378.2 L643.09,379.3 L643.34,378.9 L643.60,379.0 L643.84,378.5 L644.08,375.2 L644.32,373.6 L644.56,370.3 L644.80,369.8 L645.03,369.5 L645.27,368.2 L645.50,366.8 L645.73,366.1 L645.97,364.7 L646.20,363.4 L646.47,364.2 L646.73,366.1 L647.00,365.5 L647.27,367.9 L647.53,368.6 L647.80,369.8 L648.04,370.6 L648.28,371.8 L648.52,370.6 L648.76,371.2 L649.00,372.4 L649.24,371.6 L649.48,371.9 L649.72,373.9 L649.96,374.2 L650.20,374.1 L650.46,373.8 L650.71,376.8 L650.97,377.5 L651.23,377.1 L651.49,378.6 L651.74,378.2 L652.00,379.8 L652.24,384.0 L652.48,382.4 L652.72,390.1 L652.96,391.5 L653.20,392.3 L653.47,395.7 L653.73,400.9 L654.00,401.8 L654.30,412.7 L654.60,418.5 L654.87,417.0 L655.13,419.6 L655.40,416.0 L655.63,417.1 L655.87,414.4 L656.10,418.0 L656.33,417.5 L656.57,417.3 L656.80,414.7 L657.07,415.6 L657.33,416.8 L657.60,416.5 L657.87,412.1 L658.13,412.0 L658.40,410.8 L658.67,410.6 L658.93,412.9 L659.20,410.2 L659.44,412.8 L659.68,415.6 L659.92,421.2 L660.16,423.9 L660.40,425.6 L660.64,429.1 L660.88,432.0 L661.12,435.1 L661.36,438.4 L661.60,439.8 L661.85,439.2 L662.10,437.4 L662.35,433.7 L662.60,433.2 L662.87,430.2 L663.13,428.3 L663.40,426.0 L663.65,422.4 L663.90,421.2 L664.15,417.4 L664.40,415.0 L664.63,417.4 L664.87,416.4 L665.10,418.6 L665.33,419.0 L665.57,420.6 L665.80,422.1 L666.06,422.5 L666.31,421.7 L666.57,421.3 L666.83,421.0 L667.09,426.2 L667.34,427.0 L667.60,424.3 L667.84,426.9 L668.08,429.2 L668.32,431.2 L668.56,437.2 L668.80,437.9 L669.04,439.4 L669.28,439.5 L669.52,440.7 L669.76,441.5 L670.00,442.3 L670.27,443.2 L670.53,443.2 L670.80,443.3 L671.07,443.3 L671.33,444.9 L671.60,444.4 L671.90,438.1 L672.20,433.5 L672.45,428.7 L672.70,428.4 L672.95,429.1 L673.20,427.2 L673.45,429.9 L673.70,428.2 L673.95,424.8 L674.20,423.2 L674.46,420.1 L674.71,422.8 L674.97,419.7 L675.23,417.5 L675.49,417.8 L675.74,416.4 L676.00,416.1 L676.24,415.9 L676.48,414.4 L676.72,411.4 L676.96,410.3 L677.20,410.2 L677.46,409.9 L677.71,408.2 L677.97,407.5 L678.23,406.0 L678.49,406.4 L678.74,406.5 L679.00,406.2 L679.24,407.3 L679.48,410.5 L679.72,411.7 L679.96,415.8 L680.20,417.1 L680.44,417.9 L680.68,420.9 L680.92,426.8 L681.16,427.8 L681.40,431.8 L681.66,432.1 L681.91,429.8 L682.17,428.6 L682.43,430.9 L682.69,429.7 L682.94,428.0 L683.20,427.6 L683.46,427.4 L683.71,426.1 L683.97,425.0 L684.23,423.9 L684.49,424.1 L684.74,423.5 L685.00,422.3 L685.26,422.0 L685.51,425.8 L685.77,425.6 L686.03,427.7 L686.29,429.6 L686.54,431.0 L686.80,431.1 L687.06,432.0 L687.31,432.1 L687.57,438.5 L687.83,438.2 L688.09,437.9 L688.34,440.0 L688.60,440.5 L688.86,442.1 L689.11,443.4 L689.37,442.5 L689.63,445.8 L689.89,446.8 L690.14,444.9 L690.40,448.4 L690.66,450.6 L690.91,451.7 L691.17,449.0 L691.43,452.7 L691.69,456.2 L691.94,454.7 L692.20,455.9 L692.44,454.4 L692.68,454.5 L692.92,453.2 L693.16,450.1 L693.40,450.6 L693.66,451.0 L693.91,450.9 L694.17,450.6 L694.43,450.7 L694.69,450.7 L694.94,450.3 L695.20,450.8 L695.44,452.4 L695.68,454.9 L695.92,457.3 L696.16,459.5 L696.40,461.2 L696.66,459.8 L696.91,457.2 L697.17,458.0 L697.43,458.8 L697.69,456.9 L697.94,454.3 L698.20,455.0 L698.47,455.3 L698.73,454.2 L699.00,452.1 L699.25,453.2 L699.50,458.0 L699.75,462.4 L700.00,465.2 L700.24,464.4 L700.48,462.8 L700.72,462.0 L700.96,461.3 L701.20,458.0 L701.50,465.0 L701.80,471.3 L702.06,469.9 L702.31,467.4 L702.57,465.1 L702.83,464.1 L703.09,461.4 L703.34,459.7 L703.60,459.0 L703.85,457.7 L704.10,457.0 L704.35,454.4 L704.60,453.7 L704.83,453.8 L705.07,455.0 L705.30,456.7 L705.53,457.2 L705.77,459.6 L706.00,460.6 L706.26,459.9 L706.51,459.7 L706.77,458.4 L707.03,457.3 L707.29,457.7 L707.54,457.7 L707.80,458.6 L708.07,457.5 L708.33,458.4 L708.60,461.2 L708.87,460.4 L709.13,462.8 L709.40,461.4 L709.60,466.5 L709.80,475.2 L710.10,479.8 L710.40,484.3 L710.67,479.1 L710.93,486.7 L711.20,480.5 L711.44,478.6 L711.68,478.7 L711.92,483.1 L712.16,478.6 L712.40,477.7 L712.60,483.9 L712.80,491.1 L713.03,490.3 L713.27,487.0 L713.50,487.3 L713.73,484.6 L713.97,481.2 L714.20,481.7 L714.46,482.9 L714.71,482.9 L714.97,484.4 L715.23,484.0 L715.49,484.2 L715.74,484.3 L716.00,485.0 L716.24,486.6 L716.48,488.1 L716.72,490.9 L716.96,491.1 L717.20,492.1 L717.44,491.7 L717.68,490.1 L717.92,487.4 L718.16,486.5 L718.40,485.7 L718.70,481.2 L719.00,477.2 L719.27,477.0 L719.53,476.1 L719.80,475.8 L720.07,475.3 L720.33,475.0 L720.60,475.1 L720.80,480.7 L721.00,483.3 L721.27,482.7 L721.53,482.4 L721.80,482.6 L722.07,482.2 L722.33,483.9 L722.60,483.9 L722.84,486.6 L723.08,489.5 L723.32,489.3 L723.56,493.6 L723.80,493.7 L724.04,495.5 L724.28,497.7 L724.52,499.9 L724.76,499.0 L725.00,501.1 L725.26,501.1 L725.51,500.4 L725.77,500.3 L726.03,499.3 L726.29,498.8 L726.54,496.6 L726.80,495.4 L727.06,495.1 L727.31,494.1 L727.57,496.0 L727.83,494.0 L728.09,495.1 L728.34,495.0 L728.60,494.3 L728.84,493.4 L729.08,492.3 L729.32,488.8 L729.56,489.8 L729.80,487.6 L730.04,489.1 L730.28,491.1 L730.52,493.6 L730.76,488.5 L731.00,492.1 L731.23,491.2 L731.47,490.4 L731.70,486.7 L731.93,489.5 L732.17,486.6 L732.40,486.8 L732.67,480.7 L732.93,479.6 L733.20,476.3 L733.47,477.3 L733.73,478.3 L734.00,480.9 L734.23,478.3 L734.47,477.3 L734.70,474.8 L734.93,474.8 L735.17,470.6 L735.40,468.2 L735.67,468.1 L735.93,471.7 L736.20,471.4 L736.47,473.3 L736.73,473.9 L737.00,476.0 L737.26,476.6 L737.51,477.1 L737.77,476.2 L738.03,477.8 L738.29,478.0 L738.54,477.6 L738.80,476.8 L739.04,478.5 L739.28,479.6 L739.52,480.6 L739.76,482.1 L740.00,484.3 L740.30,474.9 L740.60,466.0 L740.86,465.8 L741.11,468.2 L741.37,469.3 L741.63,470.6 L741.89,470.7 L742.14,470.9 L742.40,471.1 L742.65,470.2 L742.90,469.4 L743.15,469.4 L743.40,469.5 L743.67,474.4 L743.93,477.8 L744.20,481.1 L744.50,473.1 L744.80,466.0 L745.06,466.8 L745.31,467.5 L745.57,468.5 L745.83,467.8 L746.09,468.2 L746.34,469.6 L746.60,469.1 L746.86,470.2 L747.11,470.7 L747.37,471.4 L747.63,472.3 L747.89,472.8 L748.14,473.5 L748.40,474.8 L748.66,474.3 L748.91,474.6 L749.17,476.5 L749.43,476.9 L749.69,477.3 L749.94,477.7 L750.20,477.1 L750.44,477.9 L750.68,482.7 L750.92,480.9 L751.16,483.6 L751.40,484.6 L751.66,485.7 L751.91,486.3 L752.17,488.6 L752.43,489.1 L752.69,487.9 L752.94,487.9 L753.20,489.5 L753.50,494.6 L753.80,499.2 L754.06,499.5 L754.31,495.0 L754.57,493.5 L754.83,494.0 L755.09,494.7 L755.34,490.5 L755.60,491.5 L755.84,495.4 L756.08,497.7 L756.32,500.7 L756.56,505.7 L756.80,507.4 L757.06,506.1 L757.31,505.4 L757.57,504.7 L757.83,504.1 L758.09,503.5 L758.34,502.1 L758.60,500.6 L758.84,499.3 L759.08,497.1 L759.32,496.1 L759.56,496.1 L759.80,494.1 L760.06,493.7 L760.31,494.2 L760.57,497.3 L760.83,495.1 L761.09,497.4 L761.34,499.5 L761.60,499.9 L761.86,496.1 L762.11,497.5 L762.37,496.8 L762.63,494.8 L762.89,493.4 L763.14,491.1 L763.40,490.5 L763.64,491.0 L763.88,491.4 L764.12,490.4 L764.36,490.9 L764.60,489.3 L764.84,489.2 L765.08,488.5 L765.32,489.2 L765.56,490.1 L765.80,490.6 L766.04,491.2 L766.28,491.2 L766.52,491.3 L766.76,490.4 L767.00,491.0 L767.24,491.2 L767.48,493.0 L767.72,496.8 L767.96,497.0 L768.20,497.6 L768.44,496.9 L768.68,497.8 L768.92,497.2 L769.16,496.5 L769.40,497.6 L769.64,499.4 L769.88,497.5 L770.12,498.7 L770.36,498.8 L770.60,497.7 L770.84,499.7 L771.08,499.9 L771.32,499.1 L771.56,500.7 L771.80,501.0 L772.06,501.1 L772.31,499.4 L772.57,498.3 L772.83,499.3 L773.09,498.6 L773.34,498.3 L773.60,497.6 L773.83,497.3 L774.07,495.2 L774.30,493.9 L774.53,492.9 L774.77,492.9 L775.00,492.3 L775.25,494.8 L775.50,496.3 L775.75,497.4 L776.00,501.2 L776.26,502.5 L776.51,504.0 L776.77,504.7 L777.03,506.4 L777.29,506.0 L777.54,507.3 L777.80,508.0 L778.06,508.6 L778.31,506.6 L778.57,504.7 L778.83,505.6 L779.09,504.0 L779.34,503.0 L779.60,502.4 L779.84,501.1 L780.08,502.3 L780.32,501.9 L780.56,500.9 L780.80,500.1 L781.04,499.8 L781.28,501.0 L781.52,500.9 L781.76,500.7 L782.00,499.2 L782.26,499.5 L782.51,498.9 L782.77,496.7 L783.03,495.4 L783.29,496.5 L783.54,495.4 L783.80,493.1 L784.06,488.7 L784.31,492.4 L784.57,490.9 L784.83,489.9 L785.09,487.0 L785.34,487.2 L785.60,485.7 L785.86,485.5 L786.11,484.3 L786.37,481.6 L786.63,481.9 L786.89,480.9 L787.14,480.9 L787.40,479.2 L787.66,478.5 L787.91,478.8 L788.17,479.0 L788.43,477.7 L788.69,478.7 L788.94,478.4 L789.20,478.2 L789.46,477.7 L789.71,478.0 L789.97,477.2 L790.23,477.8 L790.49,477.9 L790.74,478.1 L791.00,478.1 L791.24,479.7 L791.48,479.2 L791.72,481.6 L791.96,480.5 L792.20,482.2 L792.46,481.9 L792.71,483.0 L792.97,484.1 L793.23,481.9 L793.49,482.3 L793.74,484.7 L794.00,485.4 L794.23,482.7 L794.47,483.4 L794.70,484.0 L794.93,484.7 L795.17,482.8 L795.40,483.5 L795.60,493.0 L795.80,499.5 L796.07,496.2 L796.33,498.7 L796.60,496.8 L796.87,498.4 L797.13,497.4 L797.40,497.3 L797.64,498.4 L797.88,495.4 L798.12,496.5 L798.36,494.2 L798.60,492.9 L798.84,495.2 L799.09,496.5 L799.33,498.0 L799.57,498.3 L799.81,500.8 L800.06,501.5 L800.30,502.9 L800.56,500.7 L800.82,500.4 L801.08,499.6 L801.34,499.2 L801.60,495.9 L801.85,496.0 L802.10,493.7 L802.35,492.1 L802.60,491.2 L802.85,492.6 L803.10,492.0 L803.35,491.3 L803.60,489.4 L803.85,488.7 L804.10,486.5 L804.35,489.0 L804.60,486.2 L804.85,486.7 L805.10,486.6 L805.35,485.7 L805.60,484.8 L805.87,487.3 L806.13,489.3 L806.40,491.4 L806.64,489.7 L806.88,490.5 L807.12,488.0 L807.36,486.6 L807.60,486.0 L807.84,486.1 L808.08,485.0 L808.32,484.4 L808.56,482.7 L808.80,481.7 L809.07,482.4 L809.33,480.4 L809.60,481.7 L809.87,480.7 L810.13,481.4 L810.40,483.1 L810.66,480.9 L810.91,482.4 L811.17,481.0 L811.43,479.6 L811.69,480.1 L811.94,478.9 L812.20,478.6 L812.47,477.7 L812.73,477.1 L813.00,475.5 L813.27,475.1 L813.53,474.7 L813.80,473.4 L814.07,474.4 L814.33,475.3 L814.60,476.6 L814.87,478.5 L815.13,480.4 L815.40,481.2 L815.63,481.0 L815.87,482.1 L816.10,482.6 L816.33,484.4 L816.57,484.2 L816.80,484.9 L817.07,482.9 L817.33,484.8 L817.60,481.7 L817.87,483.5 L818.13,481.8 L818.40,480.6 L818.64,482.9 L818.88,483.8 L819.12,487.8 L819.36,487.8 L819.60,489.4 L819.86,489.1 L820.11,489.9 L820.37,489.1 L820.63,487.1 L820.89,486.2 L821.14,488.6 L821.40,487.3 L821.65,488.2 L821.90,489.8 L822.15,490.6 L822.40,492.0 L822.65,492.3 L822.90,492.7 L823.15,495.0 L823.40,496.0 L823.67,494.9 L823.93,492.0 L824.20,491.6 L824.47,489.3 L824.73,489.8 L825.00,486.4 L825.26,486.3 L825.51,484.9 L825.77,484.0 L826.03,483.1 L826.29,482.5 L826.54,483.0 L826.80,482.1 L827.07,480.4 L827.33,479.1 L827.60,476.7 L827.87,474.9 L828.13,473.7 L828.40,472.6 L828.63,474.8 L828.87,475.6 L829.10,478.4 L829.33,479.6 L829.57,481.4 L829.80,483.7 L830.07,484.6 L830.33,486.6 L830.60,487.7 L830.87,488.6 L831.13,490.9 L831.40,491.4 L831.63,490.6 L831.87,490.1 L832.10,488.0 L832.33,485.4 L832.57,484.3 L832.80,483.1 L833.07,482.8 L833.33,481.3 L833.60,478.1 L833.87,478.4 L834.13,477.5 L834.40,480.8 L834.67,478.4 L834.93,478.9 L835.20,480.6 L835.44,479.5 L835.68,477.5 L835.92,475.1 L836.16,474.6 L836.40,472.2 L836.64,471.6 L836.89,472.8 L837.13,472.6 L837.38,473.8 L837.62,473.7 L837.87,474.5 L838.11,474.3 L838.36,475.2 L838.60,476.1 L838.90,489.6 L839.17,490.0 L839.45,491.7 L839.73,491.9 L840.00,496.1 L840.24,497.2 L840.48,498.1 L840.72,497.1 L840.96,499.6 L841.20,498.2 L841.44,498.6 L841.68,499.2 L841.92,499.8 L842.16,499.5 L842.40,500.1 L842.64,501.1 L842.88,504.8 L843.12,502.4 L843.36,506.1 L843.60,506.1 L843.87,508.3 L844.13,509.1 L844.40,511.0 L844.67,512.7 L844.93,512.6 L845.20,513.9 L845.43,513.8 L845.67,511.5 L845.90,510.7 L846.13,507.1 L846.37,506.0 L846.60,504.6 L846.84,504.5 L847.08,500.7 L847.32,500.1 L847.56,502.6 L847.80,500.9 L848.04,501.4 L848.28,496.8 L848.52,496.4 L848.76,496.4 L849.00,496.2 L849.26,496.3 L849.52,494.6 L849.78,495.6 L850.04,494.6 L850.30,495.0 L850.56,494.3 L850.82,494.9 L851.08,494.7 L851.34,494.9 L851.60,494.9 L851.90,498.6 L852.20,500.4 L852.44,501.0 L852.69,501.1 L852.93,500.6 L853.18,500.5 L853.42,500.9 L853.67,500.5 L853.91,499.1 L854.16,499.3 L854.40,499.9 L854.64,500.6 L854.88,499.6 L855.12,499.7 L855.36,502.1 L855.60,501.9 L855.84,502.2 L856.08,503.0 L856.32,504.9 L856.56,504.9 L856.80,505.0 L857.06,504.1 L857.31,504.6 L857.57,505.4 L857.83,503.5 L858.09,504.5 L858.34,504.1 L858.60,502.4 L858.90,508.2 L859.20,508.6 L859.44,506.5 L859.68,507.1 L859.92,503.6 L860.16,503.9 L860.40,501.1 L860.64,504.6 L860.88,512.1 L861.12,506.0 L861.36,512.4 L861.60,514.4 L861.84,519.0 L862.08,515.5 L862.32,520.2 L862.56,520.4 L862.80,522.0 L863.04,522.7 L863.28,528.7 L863.52,526.9 L863.76,529.8 L864.00,531.3 L864.27,535.9 L864.53,532.3 L864.80,536.3 L865.07,536.6 L865.33,537.7 L865.60,539.1 L865.85,538.0 L866.10,538.2 L866.35,538.2 L866.60,536.7 L866.85,537.1 L867.10,535.5 L867.35,534.7 L867.60,533.9 L867.84,532.0 L868.08,531.6 L868.32,530.8 L868.56,531.8 L868.80,530.4" fill="none" stroke="#0d355a" stroke-width="3.0" stroke-linejoin="miter" stroke-miterlimit="1.5"/>
<path d="M495.20,412.7 L495.45,411.8 L495.70,413.1 L495.95,413.0 L496.20,412.8 L496.45,408.9 L496.70,411.1 L496.95,410.2 L497.20,407.7 L497.46,404.9 L497.71,404.5 L497.97,406.5 L498.23,400.6 L498.49,400.3 L498.74,401.2 L499.00,400.4 L499.26,400.9 L499.51,398.5 L499.77,400.5 L500.03,393.4 L500.29,393.0 L500.54,392.8 L500.80,393.2 L501.04,390.2 L501.28,392.9 L501.52,389.6 L501.76,392.5 L502.00,384.9 L502.26,377.4 L502.51,384.9 L502.77,382.4 L503.03,377.9 L503.29,378.2 L503.54,373.0 L503.80,373.2 L504.03,370.0 L504.27,369.9 L504.50,367.1 L504.73,365.3 L504.97,365.3 L505.20,362.8 L505.45,368.1 L505.70,371.6 L505.95,375.8 L506.20,378.2 L506.44,377.8 L506.68,383.1 L506.92,381.7 L507.16,378.5 L507.40,383.4 L507.64,383.3 L507.88,386.2 L508.12,384.2 L508.36,387.3 L508.60,388.8 L508.87,388.5 L509.13,392.7 L509.40,394.8 L509.65,399.0 L509.90,404.5 L510.15,406.3 L510.40,410.7 L510.65,407.0 L510.90,404.1 L511.15,399.6 L511.40,394.5 L511.65,392.4 L511.90,392.9 L512.15,390.9 L512.40,388.4 L512.63,387.5 L512.87,387.3 L513.10,389.8 L513.33,388.6 L513.57,389.2 L513.80,389.7 L514.07,390.2 L514.33,388.5 L514.60,388.5 L514.87,389.1 L515.13,388.5 L515.40,389.0 L515.64,386.5 L515.88,387.5 L516.12,387.2 L516.36,386.2 L516.60,386.8 L516.84,384.5 L517.08,387.2 L517.32,385.4 L517.56,383.9 L517.80,384.4 L518.07,382.3 L518.33,382.0 L518.60,382.8 L518.87,380.7 L519.13,380.4 L519.40,380.0 L519.63,381.0 L519.87,381.1 L520.10,381.1 L520.33,382.8 L520.57,384.0 L520.80,385.0 L521.06,385.3 L521.31,385.8 L521.57,381.9 L521.83,381.9 L522.09,382.0 L522.34,382.2 L522.60,383.0 L522.86,384.7 L523.11,385.3 L523.37,386.7 L523.63,385.1 L523.89,388.2 L524.14,388.2 L524.40,391.9 L524.64,392.6 L524.88,392.1 L525.12,391.5 L525.36,387.7 L525.60,388.5 L525.84,388.1 L526.08,389.5 L526.32,389.1 L526.56,390.6 L526.80,390.6 L527.04,391.2 L527.28,395.9 L527.52,391.3 L527.76,399.7 L528.00,399.4 L528.30,407.4 L528.60,414.1 L528.87,411.7 L529.13,414.7 L529.40,409.6 L529.65,410.5 L529.90,408.3 L530.15,410.5 L530.40,408.9 L530.65,411.2 L530.90,412.2 L531.15,413.1 L531.40,415.1 L531.64,415.8 L531.88,417.6 L532.12,417.6 L532.36,419.3 L532.60,420.2 L532.87,413.9 L533.13,403.0 L533.40,395.0 L533.67,399.3 L533.93,402.8 L534.20,405.9 L534.45,405.1 L534.70,408.7 L534.95,412.4 L535.20,414.4 L535.47,411.3 L535.73,410.1 L536.00,407.7 L536.25,406.4 L536.50,403.6 L536.75,404.8 L537.00,403.6 L537.26,402.9 L537.51,405.3 L537.77,404.6 L538.03,404.4 L538.29,406.5 L538.54,406.9 L538.80,406.5 L539.06,406.0 L539.31,404.6 L539.57,404.2 L539.83,402.4 L540.09,400.7 L540.34,399.2 L540.60,398.8 L540.86,398.6 L541.11,399.8 L541.37,400.6 L541.63,402.2 L541.89,402.2 L542.14,400.7 L542.40,401.5 L542.64,406.4 L542.88,407.5 L543.12,403.8 L543.36,408.2 L543.60,407.4 L543.84,400.7 L544.08,400.6 L544.32,399.4 L544.56,392.2 L544.80,387.7 L545.04,389.3 L545.28,387.2 L545.52,390.2 L545.76,385.8 L546.00,388.9 L546.23,384.8 L546.47,383.5 L546.70,381.6 L546.93,383.8 L547.17,384.1 L547.40,380.3 L547.67,379.8 L547.93,379.7 L548.20,382.2 L548.47,384.9 L548.73,384.8 L549.00,385.7 L549.26,387.6 L549.51,387.1 L549.77,386.9 L550.03,387.2 L550.29,389.1 L550.54,389.6 L550.80,389.9 L551.04,389.8 L551.28,387.4 L551.52,387.2 L551.76,388.2 L552.00,387.8 L552.23,388.3 L552.47,388.1 L552.70,381.1 L552.93,383.7 L553.17,381.5 L553.40,381.9 L553.67,381.4 L553.93,386.3 L554.20,386.4 L554.47,389.1 L554.73,390.4 L555.00,393.0 L555.23,393.9 L555.47,398.1 L555.70,398.6 L555.93,402.1 L556.17,400.7 L556.40,404.9 L556.67,401.1 L556.93,400.9 L557.20,399.0 L557.47,395.9 L557.73,395.1 L558.00,389.4 L558.24,389.7 L558.48,389.6 L558.72,388.2 L558.96,387.9 L559.20,386.7 L559.44,386.5 L559.68,386.3 L559.92,386.2 L560.16,387.4 L560.40,386.6 L560.64,384.2 L560.88,383.3 L561.12,383.7 L561.36,385.6 L561.60,383.0 L561.84,381.6 L562.08,383.0 L562.32,380.6 L562.56,380.1 L562.80,379.1 L563.04,379.9 L563.28,381.1 L563.52,383.5 L563.76,383.1 L564.00,386.0 L564.26,388.2 L564.51,386.0 L564.77,390.1 L565.03,394.1 L565.29,392.9 L565.54,395.4 L565.80,395.2 L566.10,402.1 L566.40,405.6 L566.66,406.0 L566.91,398.6 L567.17,393.7 L567.43,399.0 L567.69,395.0 L567.94,391.4 L568.20,390.2 L568.44,389.6 L568.68,392.9 L568.92,396.1 L569.16,395.4 L569.40,396.2 L569.65,397.8 L569.90,400.2 L570.15,401.5 L570.40,403.3 L570.67,408.1 L570.93,408.4 L571.20,410.1 L571.46,410.1 L571.71,404.9 L571.97,405.1 L572.23,403.7 L572.49,400.2 L572.74,399.7 L573.00,398.4 L573.25,399.1 L573.50,400.6 L573.75,401.6 L574.00,404.3 L574.27,405.0 L574.53,405.4 L574.80,410.3 L575.04,407.2 L575.28,402.9 L575.52,401.0 L575.76,393.5 L576.00,392.1 L576.24,391.7 L576.48,394.0 L576.72,393.9 L576.96,391.1 L577.20,393.7 L577.44,392.0 L577.68,393.8 L577.92,390.7 L578.16,393.0 L578.40,393.4 L578.66,395.9 L578.91,394.8 L579.17,396.1 L579.43,398.5 L579.69,398.5 L579.94,398.8 L580.20,399.2 L580.46,397.6 L580.71,395.4 L580.97,394.7 L581.23,395.4 L581.49,394.0 L581.74,393.1 L582.00,391.3 L582.24,390.6 L582.48,392.9 L582.72,391.3 L582.96,392.0 L583.20,390.6 L583.44,392.8 L583.68,391.8 L583.92,393.9 L584.16,394.0 L584.40,393.5 L584.64,394.9 L584.88,398.3 L585.12,396.3 L585.36,398.1 L585.60,398.7 L585.84,399.1 L586.08,401.0 L586.32,400.6 L586.56,402.0 L586.80,402.4 L587.07,402.9 L587.33,402.2 L587.60,404.8 L587.87,404.9 L588.13,404.4 L588.40,405.0 L588.63,402.2 L588.87,402.1 L589.10,399.6 L589.33,398.4 L589.57,395.3 L589.80,394.7 L590.06,396.7 L590.31,395.8 L590.57,398.3 L590.83,399.6 L591.09,401.1 L591.34,401.1 L591.60,402.8 L591.84,402.3 L592.08,401.1 L592.32,403.6 L592.56,403.4 L592.80,399.5 L593.04,398.0 L593.28,400.6 L593.52,399.2 L593.76,399.1 L594.00,398.9 L594.24,398.2 L594.48,401.9 L594.72,402.9 L594.96,405.7 L595.20,406.4 L595.44,407.0 L595.68,406.2 L595.92,407.1 L596.16,406.8 L596.40,403.1 L596.64,403.6 L596.88,402.2 L597.12,403.9 L597.36,402.8 L597.60,401.2 L597.84,401.7 L598.08,397.2 L598.32,397.8 L598.56,396.3 L598.80,393.1 L599.04,392.9 L599.28,392.3 L599.52,396.8 L599.76,397.5 L600.00,393.9 L600.24,392.0 L600.48,396.3 L600.72,397.5 L600.96,397.7 L601.20,397.1 L601.47,395.9 L601.73,394.9 L602.00,394.7 L602.27,394.3 L602.53,392.6 L602.80,392.2 L603.03,392.7 L603.27,390.5 L603.50,388.9 L603.73,388.9 L603.97,389.1 L604.20,388.2 L604.44,391.0 L604.68,392.1 L604.92,392.6 L605.16,393.8 L605.40,396.8 L605.67,396.7 L605.93,397.0 L606.20,396.4 L606.47,396.7 L606.73,396.6 L607.00,395.9 L607.23,396.6 L607.47,395.3 L607.70,394.8 L607.93,395.8 L608.17,395.1 L608.40,395.0 L608.67,393.4 L608.93,395.4 L609.20,391.1 L609.47,389.0 L609.73,388.3 L610.00,388.6 L610.24,390.4 L610.48,388.0 L610.72,388.7 L610.96,387.5 L611.20,387.3 L611.44,389.7 L611.68,388.8 L611.92,389.5 L612.16,390.3 L612.40,390.1 L612.67,385.9 L612.93,383.7 L613.20,382.2 L613.44,388.2 L613.68,387.8 L613.92,386.4 L614.16,399.1 L614.40,398.3 L614.65,398.8 L614.90,392.4 L615.15,387.2 L615.40,384.9 L615.66,382.2 L615.91,385.0 L616.17,381.5 L616.43,380.9 L616.69,381.2 L616.94,381.3 L617.20,380.0 L617.50,372.3 L617.80,365.5 L618.07,364.5 L618.33,361.6 L618.60,359.4 L618.85,358.7 L619.10,364.1 L619.35,361.5 L619.60,365.2 L619.84,367.8 L620.08,366.3 L620.32,369.1 L620.56,370.8 L620.80,370.1 L621.04,369.2 L621.28,369.0 L621.52,369.3 L621.76,369.5 L622.00,369.0 L622.23,367.4 L622.47,365.2 L622.70,362.5 L622.93,360.5 L623.17,360.1 L623.40,357.0 L623.67,359.4 L623.93,360.7 L624.20,359.4 L624.47,363.2 L624.73,364.1 L625.00,365.8 L625.26,365.3 L625.51,367.5 L625.77,367.6 L626.03,367.6 L626.29,366.9 L626.54,365.8 L626.80,366.9 L627.04,367.4 L627.29,365.7 L627.53,361.7 L627.78,360.8 L628.02,362.3 L628.27,364.7 L628.51,360.6 L628.76,359.1 L629.00,357.8 L629.23,359.8 L629.47,362.5 L629.70,363.6 L629.93,368.1 L630.17,368.2 L630.40,369.6 L630.60,373.7 L630.80,377.3 L631.03,377.1 L631.27,375.7 L631.50,372.7 L631.73,373.1 L631.97,372.7 L632.20,371.3 L632.44,370.9 L632.68,370.0 L632.92,370.2 L633.16,368.1 L633.40,368.5 L633.64,367.4 L633.88,365.9 L634.12,368.6 L634.36,368.0 L634.60,365.9 L634.86,365.6 L635.11,364.6 L635.37,361.0 L635.63,357.7 L635.89,359.2 L636.14,357.8 L636.40,356.7 L636.66,356.5 L636.91,360.6 L637.17,359.4 L637.43,362.9 L637.69,365.1 L637.94,368.4 L638.20,368.1 L638.46,369.4 L638.71,369.0 L638.97,368.1 L639.23,368.3 L639.49,371.6 L639.74,371.5 L640.00,371.3 L640.26,373.8 L640.51,371.0 L640.77,373.7 L641.03,371.4 L641.29,375.2 L641.54,375.2 L641.80,376.1 L642.06,376.6 L642.31,376.7 L642.57,379.4 L642.83,379.1 L643.09,381.2 L643.34,380.7 L643.60,381.4 L643.84,381.0 L644.08,376.3 L644.32,374.4 L644.56,369.5 L644.80,369.2 L645.03,369.1 L645.27,367.1 L645.50,365.4 L645.73,364.6 L645.97,362.7 L646.20,361.1 L646.47,362.4 L646.73,365.6 L647.00,364.5 L647.27,368.2 L647.53,368.9 L647.80,370.6 L648.04,371.5 L648.28,373.0 L648.52,370.6 L648.76,371.2 L649.00,372.6 L649.24,370.9 L649.48,371.1 L649.72,374.1 L649.96,374.3 L650.20,373.8 L650.46,373.2 L650.71,377.5 L650.97,377.8 L651.23,376.7 L651.49,378.3 L651.74,376.7 L652.00,378.4 L652.24,383.3 L652.48,379.0 L652.72,389.4 L652.96,390.0 L653.20,389.9 L653.47,393.8 L653.73,400.9 L654.00,400.8 L654.30,416.5 L654.60,424.1 L654.87,420.6 L655.13,423.7 L655.40,417.1 L655.63,418.1 L655.87,413.2 L656.10,418.5 L656.33,417.4 L656.57,417.5 L656.80,413.8 L657.07,416.0 L657.33,418.4 L657.60,418.5 L657.87,411.8 L658.13,411.3 L658.40,409.2 L658.67,408.4 L658.93,410.6 L659.20,405.4 L659.44,408.4 L659.68,412.0 L659.92,419.9 L660.16,423.3 L660.40,425.3 L660.64,430.1 L660.88,433.8 L661.12,438.7 L661.36,443.4 L661.60,445.0 L661.85,443.6 L662.10,440.7 L662.35,435.2 L662.60,434.8 L662.87,430.5 L663.13,428.5 L663.40,425.4 L663.65,420.6 L663.90,419.4 L664.15,414.2 L664.40,411.2 L664.63,415.6 L664.87,414.5 L665.10,418.1 L665.33,418.4 L665.57,421.3 L665.80,423.7 L666.06,424.0 L666.31,422.5 L666.57,420.9 L666.83,419.5 L667.09,425.8 L667.34,426.3 L667.60,421.3 L667.84,424.6 L668.08,427.6 L668.32,430.5 L668.56,439.1 L668.80,439.4 L669.04,440.7 L669.28,440.5 L669.52,441.5 L669.76,442.4 L670.00,443.2 L670.27,444.6 L670.53,444.4 L670.80,445.0 L671.07,445.6 L671.33,448.4 L671.60,448.0 L671.90,438.8 L672.20,432.1 L672.45,425.5 L672.70,425.7 L672.95,427.7 L673.20,425.7 L673.45,431.0 L673.70,429.4 L673.95,425.3 L674.20,423.5 L674.46,419.2 L674.71,423.8 L674.97,419.3 L675.23,416.6 L675.49,417.4 L675.74,416.1 L676.00,416.4 L676.24,416.7 L676.48,415.1 L676.72,411.0 L676.96,410.0 L677.20,410.4 L677.46,410.2 L677.71,407.9 L677.97,406.9 L678.23,404.6 L678.49,404.7 L678.74,404.4 L679.00,403.3 L679.24,404.0 L679.48,408.2 L679.72,409.4 L679.96,415.5 L680.20,416.8 L680.44,417.0 L680.68,421.3 L680.92,429.7 L681.16,430.6 L681.40,436.1 L681.66,435.7 L681.91,431.7 L682.17,428.9 L682.43,432.3 L682.69,430.3 L682.94,427.6 L683.20,427.5 L683.46,427.4 L683.71,426.0 L683.97,424.6 L684.23,423.0 L684.49,423.2 L684.74,422.3 L685.00,420.5 L685.26,419.9 L685.51,425.3 L685.77,424.6 L686.03,427.5 L686.29,429.8 L686.54,431.4 L686.80,431.1 L687.06,431.7 L687.31,431.0 L687.57,440.1 L687.83,439.0 L688.09,437.9 L688.34,440.4 L688.60,440.6 L688.86,442.3 L689.11,443.9 L689.37,441.7 L689.63,445.9 L689.89,446.8 L690.14,443.3 L690.40,448.0 L690.66,451.1 L690.91,452.3 L691.17,447.9 L691.43,453.5 L691.69,458.7 L691.94,456.3 L692.20,458.1 L692.44,455.4 L692.68,455.6 L692.92,453.7 L693.16,449.0 L693.40,449.7 L693.66,450.3 L693.91,450.3 L694.17,449.6 L694.43,449.5 L694.69,449.1 L694.94,448.6 L695.20,449.1 L695.44,451.2 L695.68,454.8 L695.92,458.5 L696.16,461.9 L696.40,464.5 L696.66,462.1 L696.91,458.1 L697.17,459.4 L697.43,460.2 L697.69,456.8 L697.94,452.2 L698.20,453.0 L698.47,453.5 L698.73,451.9 L699.00,449.0 L699.25,450.9 L699.50,458.1 L699.75,464.5 L700.00,468.2 L700.24,466.3 L700.48,463.2 L700.72,461.5 L700.96,459.9 L701.20,455.0 L701.50,465.1 L701.80,474.9 L702.06,473.2 L702.31,470.0 L702.57,467.0 L702.83,465.9 L703.09,462.0 L703.34,459.4 L703.60,458.1 L703.85,456.1 L704.10,455.4 L704.35,451.7 L704.60,451.1 L704.83,451.5 L705.07,453.8 L705.30,456.5 L705.53,457.3 L705.77,461.1 L706.00,462.8 L706.26,461.8 L706.51,461.3 L706.77,459.2 L707.03,457.2 L707.29,457.5 L707.54,457.2 L707.80,457.9 L708.07,455.3 L708.33,455.7 L708.60,459.5 L708.87,457.2 L709.13,460.2 L709.40,457.5 L709.60,464.9 L709.80,477.7 L710.10,484.3 L710.40,490.4 L710.67,480.8 L710.93,491.6 L711.20,480.7 L711.44,476.6 L711.68,475.8 L711.92,482.3 L712.16,475.3 L712.40,474.1 L712.60,483.9 L712.80,495.4 L713.03,494.1 L713.27,489.4 L713.50,489.9 L713.73,485.4 L713.97,479.9 L714.20,480.5 L714.46,481.9 L714.71,481.2 L714.97,483.1 L715.23,482.6 L715.49,482.7 L715.74,483.0 L716.00,484.0 L716.24,486.2 L716.48,488.3 L716.72,492.7 L716.96,493.3 L717.20,495.2 L717.44,494.9 L717.68,492.8 L717.92,489.1 L718.16,487.9 L718.40,487.0 L718.70,480.3 L719.00,474.2 L719.27,474.1 L719.53,473.2 L719.80,473.3 L720.07,472.9 L720.33,472.8 L720.60,473.3 L720.80,482.2 L721.00,485.9 L721.27,484.4 L721.53,483.3 L721.80,482.9 L722.07,481.4 L722.33,482.5 L722.60,481.5 L722.84,484.7 L723.08,488.5 L723.32,487.8 L723.56,494.3 L723.80,493.9 L724.04,496.1 L724.28,498.9 L724.52,502.3 L724.76,500.5 L725.00,503.5 L725.26,503.2 L725.51,501.9 L725.77,501.3 L726.03,499.6 L726.29,498.9 L726.54,495.6 L726.80,493.9 L727.06,493.9 L727.31,492.9 L727.57,496.4 L727.83,494.0 L728.09,496.3 L728.34,496.2 L728.60,495.5 L728.84,494.1 L729.08,492.2 L729.32,486.8 L729.56,488.5 L729.80,485.1 L730.04,487.7 L730.28,490.9 L730.52,495.4 L730.76,488.2 L731.00,494.5 L731.23,493.3 L731.47,492.6 L731.70,487.0 L731.93,491.4 L732.17,486.9 L732.40,487.5 L732.67,478.3 L732.93,477.3 L733.20,473.5 L733.47,476.5 L733.73,478.8 L734.00,483.6 L734.23,480.0 L734.47,478.9 L734.70,475.5 L734.93,475.3 L735.17,468.6 L735.40,464.9 L735.67,464.4 L735.93,470.0 L736.20,469.7 L736.47,473.1 L736.73,474.2 L737.00,477.3 L737.26,478.1 L737.51,478.3 L737.77,476.0 L738.03,477.4 L738.29,477.4 L738.54,477.2 L738.80,476.3 L739.04,479.4 L739.28,481.5 L739.52,483.4 L739.76,486.1 L740.00,489.7 L740.30,475.2 L740.60,461.5 L740.86,461.6 L741.11,465.6 L741.37,467.6 L741.63,469.9 L741.89,470.0 L742.14,470.3 L742.40,471.1 L742.65,470.2 L742.90,468.9 L743.15,468.6 L743.40,468.6 L743.67,476.4 L743.93,481.8 L744.20,487.0 L744.50,474.5 L744.80,463.6 L745.06,464.7 L745.31,465.7 L745.57,467.1 L745.83,465.9 L746.09,466.6 L746.34,469.0 L746.60,469.0 L746.86,470.6 L747.11,471.0 L747.37,471.5 L747.63,472.6 L747.89,473.0 L748.14,473.7 L748.40,475.5 L748.66,474.1 L748.91,474.3 L749.17,476.6 L749.43,476.8 L749.69,477.0 L749.94,477.2 L750.20,475.8 L750.44,476.6 L750.68,483.7 L750.92,480.6 L751.16,484.3 L751.40,485.2 L751.66,485.9 L751.91,485.8 L752.17,488.7 L752.43,488.9 L752.69,486.4 L752.94,486.1 L753.20,488.7 L753.50,496.6 L753.80,503.7 L754.06,503.8 L754.31,496.3 L754.57,493.1 L754.83,493.1 L755.09,493.3 L755.34,486.0 L755.60,486.8 L755.84,492.7 L756.08,496.4 L756.32,501.1 L756.56,508.9 L756.80,511.3 L757.06,509.2 L757.31,508.1 L757.57,506.6 L757.83,505.5 L758.09,504.5 L758.34,502.5 L758.60,500.3 L758.84,498.8 L759.08,495.8 L759.32,494.5 L759.56,494.8 L759.80,492.0 L760.06,491.5 L760.31,492.6 L760.57,497.6 L760.83,494.4 L761.09,498.4 L761.34,501.9 L761.60,502.6 L761.86,496.8 L762.11,498.9 L762.37,497.8 L762.63,494.8 L762.89,493.1 L763.14,489.8 L763.40,489.1 L763.64,490.4 L763.88,491.3 L764.12,489.9 L764.36,491.1 L764.60,488.9 L764.84,488.9 L765.08,487.8 L765.32,489.0 L765.56,490.1 L765.80,490.5 L766.04,491.2 L766.28,490.9 L766.52,490.8 L766.76,489.2 L767.00,489.9 L767.24,490.0 L767.48,492.4 L767.72,498.1 L767.96,498.2 L768.20,499.0 L768.44,497.7 L768.68,498.8 L768.92,497.5 L769.16,496.1 L769.40,497.4 L769.64,499.9 L769.88,496.5 L770.12,498.4 L770.36,498.7 L770.60,497.0 L770.84,500.0 L771.08,500.3 L771.32,498.9 L771.56,501.3 L771.80,501.8 L772.06,502.1 L772.31,499.6 L772.57,498.5 L772.83,500.4 L773.09,499.6 L773.34,499.3 L773.60,498.3 L773.83,497.7 L774.07,494.4 L774.30,492.6 L774.53,490.9 L774.77,490.5 L775.00,489.2 L775.25,492.9 L775.50,495.1 L775.75,496.5 L776.00,501.9 L776.26,503.7 L776.51,505.4 L776.77,505.9 L777.03,508.1 L777.29,506.9 L777.54,508.6 L777.80,509.6 L778.06,510.3 L778.31,507.2 L778.57,504.4 L778.83,505.9 L779.09,503.8 L779.34,502.5 L779.60,501.7 L779.84,500.0 L780.08,502.1 L780.32,502.0 L780.56,500.6 L780.80,499.6 L781.04,499.5 L781.28,501.5 L781.52,501.5 L781.76,501.4 L782.00,499.7 L782.26,500.2 L782.51,499.6 L782.77,496.7 L783.03,495.1 L783.29,497.1 L783.54,496.1 L783.80,492.9 L784.06,486.7 L784.31,493.1 L784.57,491.3 L784.83,490.4 L785.09,486.5 L785.34,487.3 L785.60,485.6 L785.86,486.0 L786.11,484.6 L786.37,480.7 L786.63,481.5 L786.89,480.5 L787.14,480.8 L787.40,478.4 L787.66,477.7 L787.91,478.5 L788.17,479.1 L788.43,477.3 L788.69,479.0 L788.94,478.6 L789.20,478.3 L789.46,477.7 L789.71,477.9 L789.97,476.6 L790.23,477.4 L790.49,477.4 L790.74,477.5 L791.00,477.2 L791.24,479.6 L791.48,478.8 L791.72,482.2 L791.96,480.3 L792.20,482.8 L792.46,482.2 L792.71,483.9 L792.97,485.6 L793.23,482.2 L793.49,482.4 L793.74,485.2 L794.00,485.8 L794.23,480.8 L794.47,481.2 L794.70,481.5 L794.93,482.1 L795.17,479.1 L795.40,479.9 L795.60,494.2 L795.80,504.0 L796.07,498.7 L796.33,502.4 L796.60,499.2 L796.87,501.2 L797.13,499.1 L797.40,497.8 L797.64,498.7 L797.88,493.6 L798.12,495.3 L798.36,491.6 L798.60,490.0 L798.84,493.4 L799.09,495.5 L799.33,497.8 L799.57,498.5 L799.81,502.5 L800.06,503.8 L800.30,506.0 L800.56,502.8 L800.82,501.8 L801.08,500.6 L801.34,500.0 L801.60,495.0 L801.85,495.5 L802.10,492.6 L802.35,490.7 L802.60,490.1 L802.85,492.8 L803.10,492.5 L803.35,492.0 L803.60,489.7 L803.85,488.8 L804.10,485.6 L804.35,489.4 L804.60,484.9 L804.85,485.5 L805.10,485.4 L805.35,484.2 L805.60,483.0 L805.87,487.1 L806.13,490.5 L806.40,493.9 L806.64,491.5 L806.88,492.9 L807.12,488.9 L807.36,486.9 L807.60,486.0 L807.84,486.3 L808.08,484.7 L808.32,483.8 L808.56,481.5 L808.80,480.3 L809.07,481.7 L809.33,479.3 L809.60,481.5 L809.87,480.2 L810.13,481.4 L810.40,484.3 L810.66,481.1 L810.91,483.6 L811.17,481.6 L811.43,479.8 L811.69,480.8 L811.94,479.3 L812.20,479.0 L812.47,477.8 L812.73,477.1 L813.00,474.6 L813.27,474.1 L813.53,473.5 L813.80,471.3 L814.07,472.8 L814.33,473.9 L814.60,475.5 L814.87,478.3 L815.13,481.0 L815.40,482.0 L815.63,481.4 L815.87,482.9 L816.10,483.3 L816.33,486.1 L816.57,485.4 L816.80,486.7 L817.07,483.0 L817.33,485.5 L817.60,480.4 L817.87,482.8 L818.13,479.7 L818.40,477.7 L818.64,481.3 L818.88,482.8 L819.12,489.1 L819.36,489.1 L819.60,491.6 L819.86,490.9 L820.11,491.8 L820.37,490.1 L820.63,486.4 L820.89,484.6 L821.14,487.6 L821.40,485.3 L821.65,486.5 L821.90,488.9 L822.15,490.1 L822.40,492.5 L822.65,492.9 L822.90,493.7 L823.15,497.2 L823.40,498.9 L823.67,497.2 L823.93,492.8 L824.20,492.3 L824.47,488.9 L824.73,489.9 L825.00,484.9 L825.26,485.4 L825.51,483.8 L825.77,483.4 L826.03,483.0 L826.29,483.0 L826.54,484.6 L826.80,483.7 L827.07,481.5 L827.33,479.6 L827.60,475.8 L827.87,472.9 L828.13,470.7 L828.40,468.8 L828.63,472.4 L828.87,473.5 L829.10,477.6 L829.33,478.9 L829.57,481.3 L829.80,484.4 L830.07,485.4 L830.33,488.2 L830.60,489.5 L830.87,490.0 L831.13,493.3 L831.40,494.2 L831.63,492.8 L831.87,492.2 L832.10,489.2 L832.33,485.2 L832.57,483.8 L832.80,482.2 L833.07,481.8 L833.33,479.8 L833.60,475.2 L833.87,476.8 L834.13,476.1 L834.40,481.8 L834.67,478.6 L834.93,480.0 L835.20,483.1 L835.44,481.6 L835.68,478.8 L835.92,475.2 L836.16,474.6 L836.40,471.0 L836.64,470.2 L836.89,471.7 L837.13,470.7 L837.38,472.1 L837.62,471.7 L837.87,472.4 L838.11,471.4 L838.36,472.0 L838.60,472.7 L838.90,492.4 L839.17,492.1 L839.45,493.8 L839.73,493.0 L840.00,498.6 L840.24,499.6 L840.48,499.9 L840.72,497.3 L840.96,500.3 L841.20,497.8 L841.44,497.9 L841.68,498.5 L841.92,499.3 L842.16,498.4 L842.40,499.0 L842.64,500.1 L842.88,505.4 L843.12,501.0 L843.36,506.1 L843.60,505.7 L843.87,508.7 L844.13,509.3 L844.40,512.2 L844.67,514.6 L844.93,514.6 L845.20,516.9 L845.43,516.6 L845.67,513.3 L845.90,512.1 L846.13,506.8 L846.37,505.6 L846.60,503.7 L846.84,504.1 L847.08,498.7 L847.32,498.5 L847.56,502.9 L847.80,500.9 L848.04,502.3 L848.28,495.8 L848.52,495.6 L848.76,496.0 L849.00,496.0 L849.26,496.5 L849.52,493.9 L849.78,495.7 L850.04,494.1 L850.30,494.7 L850.56,493.3 L850.82,493.9 L851.08,493.6 L851.34,493.5 L851.60,493.4 L851.90,499.1 L852.20,501.9 L852.44,502.5 L852.69,502.6 L852.93,501.7 L853.18,501.2 L853.42,501.6 L853.67,500.6 L853.91,498.2 L854.16,498.3 L854.40,498.9 L854.64,500.0 L854.88,498.4 L855.12,498.5 L855.36,502.3 L855.60,501.8 L855.84,502.3 L856.08,503.5 L856.32,506.2 L856.56,506.2 L856.80,505.9 L857.06,504.1 L857.31,504.6 L857.57,505.4 L857.83,502.4 L858.09,504.1 L858.34,503.8 L858.60,501.4 L858.90,510.2 L859.20,510.8 L859.44,507.3 L859.68,507.6 L859.92,501.8 L860.16,501.6 L860.40,496.8 L860.64,501.7 L860.88,512.7 L861.12,502.6 L861.36,512.1 L861.60,514.7 L861.84,521.3 L862.08,514.8 L862.32,521.6 L862.56,521.0 L862.80,522.1 L863.04,522.0 L863.28,530.6 L863.52,526.3 L863.76,530.1 L864.00,531.6 L864.27,538.3 L864.53,531.6 L864.80,537.2 L865.07,537.3 L865.33,538.5 L865.60,540.7 L865.85,538.9 L866.10,539.3 L866.35,539.4 L866.60,537.5 L866.85,537.9 L867.10,535.6 L867.35,534.5 L867.60,533.4 L867.84,530.8 L868.08,530.3 L868.32,529.3 L868.56,531.3 L868.80,529.2" fill="none" stroke="#0d355a" stroke-width="2.1" stroke-linejoin="miter" stroke-miterlimit="2.0"/>
<path d="M495.20,413.0 L495.45,412.0 L495.70,413.8 L495.95,413.8 L496.20,413.8 L496.45,409.0 L496.70,411.9 L496.95,410.9 L497.20,407.8 L497.46,404.5 L497.71,404.1 L497.97,407.1 L498.23,399.8 L498.49,399.8 L498.74,401.2 L499.00,400.6 L499.26,401.4 L499.51,398.7 L499.77,401.4 L500.03,392.6 L500.29,392.6 L500.54,392.6 L500.80,393.4 L501.04,390.0 L501.28,393.7 L501.52,390.0 L501.76,394.2 L502.00,385.0 L502.26,375.7 L502.51,385.8 L502.77,383.3 L503.03,378.1 L503.29,378.8 L503.54,372.6 L503.80,373.0 L504.03,369.1 L504.27,369.2 L504.50,365.4 L504.73,363.2 L504.97,363.0 L505.20,359.8 L505.45,366.6 L505.70,370.9 L505.95,376.1 L506.20,379.0 L506.44,378.2 L506.68,384.8 L506.92,382.8 L507.16,378.2 L507.40,384.0 L507.64,383.2 L507.88,386.4 L508.12,383.2 L508.36,386.5 L508.60,388.0 L508.87,387.2 L509.13,392.2 L509.40,394.6 L509.65,399.9 L509.90,406.8 L510.15,409.0 L510.40,414.6 L510.65,409.9 L510.90,406.2 L511.15,400.4 L511.40,394.0 L511.65,391.3 L511.90,392.2 L512.15,389.9 L512.40,387.0 L512.63,386.2 L512.87,386.2 L513.10,389.6 L513.33,388.2 L513.57,389.3 L513.80,390.0 L514.07,390.6 L514.33,388.6 L514.60,388.6 L514.87,389.4 L515.13,388.6 L515.40,389.4 L515.64,386.2 L515.88,387.6 L516.12,387.2 L516.36,386.2 L516.60,387.0 L516.84,384.3 L517.08,387.8 L517.32,385.6 L517.56,383.8 L517.80,384.6 L518.07,382.0 L518.33,381.7 L518.60,382.7 L518.87,380.1 L519.13,379.7 L519.40,379.2 L519.63,380.5 L519.87,380.7 L520.10,380.8 L520.33,383.0 L520.57,384.5 L520.80,385.8 L521.06,386.1 L521.31,386.6 L521.57,381.6 L521.83,381.4 L522.09,381.4 L522.34,381.4 L522.60,382.2 L522.86,384.3 L523.11,384.9 L523.37,386.8 L523.63,384.7 L523.89,388.6 L524.14,388.4 L524.40,393.0 L524.64,393.8 L524.88,393.1 L525.12,392.0 L525.36,387.2 L525.60,388.0 L525.84,387.2 L526.08,389.1 L526.32,388.2 L526.56,389.7 L526.80,389.4 L527.04,389.7 L527.28,395.6 L527.52,389.3 L527.76,399.8 L528.00,399.0 L528.30,408.8 L528.60,417.0 L528.87,413.5 L529.13,417.1 L529.40,410.0 L529.65,410.8 L529.90,407.5 L530.15,410.0 L530.40,407.4 L530.65,410.3 L530.90,411.6 L531.15,413.0 L531.40,416.0 L531.64,417.1 L531.88,419.6 L532.12,419.6 L532.36,421.8 L532.60,423.0 L532.87,414.9 L533.13,400.9 L533.40,390.6 L533.67,396.1 L533.93,400.8 L534.20,405.0 L534.45,404.2 L534.70,409.1 L534.95,414.2 L535.20,417.0 L535.47,413.0 L535.73,411.3 L536.00,408.0 L536.25,406.2 L536.50,402.6 L536.75,404.0 L537.00,402.6 L537.26,401.8 L537.51,405.1 L537.77,404.4 L538.03,404.3 L538.29,407.1 L538.54,407.8 L538.80,407.4 L539.06,406.9 L539.31,405.1 L539.57,404.6 L539.83,402.2 L540.09,400.2 L540.34,398.3 L540.60,397.8 L540.86,397.5 L541.11,399.0 L541.37,400.0 L541.63,402.0 L541.89,402.1 L542.14,400.2 L542.40,401.4 L542.64,407.8 L542.88,409.4 L543.12,404.9 L543.36,410.6 L543.60,409.8 L543.84,401.4 L544.08,401.5 L544.32,400.3 L544.56,391.4 L544.80,385.8 L545.04,388.2 L545.28,386.0 L545.52,390.2 L545.76,385.0 L546.00,389.4 L546.23,384.5 L546.47,383.0 L546.70,380.8 L546.93,383.7 L547.17,384.1 L547.40,379.2 L547.67,378.5 L547.93,378.4 L548.20,381.6 L548.47,385.0 L548.73,384.8 L549.00,385.8 L549.26,388.2 L549.51,387.4 L549.77,387.1 L550.03,387.3 L550.29,389.5 L550.54,390.2 L550.80,390.6 L551.04,390.5 L551.28,387.6 L551.52,387.4 L551.76,388.7 L552.00,388.2 L552.23,388.9 L552.47,388.7 L552.70,379.6 L552.93,383.0 L553.17,380.0 L553.40,380.4 L553.67,379.6 L553.93,385.6 L554.20,385.3 L554.47,388.5 L554.73,390.0 L555.00,393.0 L555.23,394.0 L555.47,399.1 L555.70,399.5 L555.93,403.9 L556.17,401.9 L556.40,407.4 L556.67,402.6 L556.93,402.4 L557.20,400.0 L557.47,396.1 L557.73,395.4 L558.00,388.2 L558.24,388.9 L558.48,389.0 L558.72,387.6 L558.96,387.5 L559.20,386.2 L559.44,386.2 L559.68,386.2 L559.92,386.2 L560.16,388.0 L560.40,387.0 L560.64,384.2 L560.88,383.1 L561.12,383.7 L561.36,386.3 L561.60,383.0 L561.84,381.2 L562.08,382.9 L562.32,379.8 L562.56,379.3 L562.80,378.0 L563.04,378.9 L563.28,380.2 L563.52,383.1 L563.76,382.4 L564.00,385.8 L564.26,388.3 L564.51,385.0 L564.77,389.7 L565.03,394.7 L565.29,392.8 L565.54,395.7 L565.80,395.4 L566.10,404.1 L566.40,408.6 L566.66,409.0 L566.91,399.4 L567.17,393.0 L567.43,399.8 L567.69,394.5 L567.94,389.9 L568.20,388.2 L568.44,387.5 L568.68,391.7 L568.92,395.8 L569.16,394.7 L569.40,395.4 L569.65,397.4 L569.90,400.2 L570.15,401.7 L570.40,404.0 L570.67,409.8 L570.93,410.0 L571.20,412.2 L571.46,412.2 L571.71,405.4 L571.97,405.5 L572.23,403.6 L572.49,399.0 L572.74,398.2 L573.00,396.6 L573.25,397.6 L573.50,399.7 L573.75,401.3 L574.00,405.0 L574.27,406.1 L574.53,406.9 L574.80,413.4 L575.04,409.5 L575.28,404.1 L575.52,401.6 L575.76,392.2 L576.00,390.6 L576.24,390.2 L576.48,393.3 L576.72,393.2 L576.96,389.8 L577.20,393.4 L577.44,391.4 L577.68,393.8 L577.92,389.8 L578.16,392.6 L578.40,393.0 L578.66,396.2 L578.91,394.7 L579.17,396.2 L579.43,399.4 L579.69,399.3 L579.94,399.8 L580.20,400.2 L580.46,398.3 L580.71,395.5 L580.97,394.6 L581.23,395.6 L581.49,393.8 L581.74,392.9 L582.00,390.6 L582.24,389.8 L582.48,392.8 L582.72,390.8 L582.96,391.7 L583.20,389.8 L583.44,392.7 L583.68,391.2 L583.92,393.8 L584.16,393.8 L584.40,393.0 L584.64,394.6 L584.88,398.9 L585.12,396.1 L585.36,398.3 L585.60,398.9 L585.84,399.2 L586.08,401.3 L586.32,400.6 L586.56,402.3 L586.80,402.6 L587.07,403.2 L587.33,402.2 L587.60,405.8 L587.87,406.0 L588.13,405.4 L588.40,406.2 L588.63,402.6 L588.87,402.6 L589.10,399.4 L589.33,397.8 L589.57,393.9 L589.80,393.0 L590.06,395.7 L590.31,394.6 L590.57,397.8 L590.83,399.5 L591.09,401.6 L591.34,401.7 L591.60,403.8 L591.84,403.1 L592.08,401.4 L592.32,404.6 L592.56,404.2 L592.80,399.1 L593.04,397.0 L593.28,400.3 L593.52,398.4 L593.76,398.2 L594.00,397.8 L594.24,397.0 L594.48,401.7 L594.72,403.0 L594.96,406.6 L595.20,407.4 L595.44,408.0 L595.68,407.1 L595.92,408.2 L596.16,407.8 L596.40,403.1 L596.64,403.8 L596.88,402.2 L597.12,404.5 L597.36,403.2 L597.60,401.4 L597.84,402.2 L598.08,396.7 L598.32,397.6 L598.56,395.9 L598.80,391.8 L599.04,391.7 L599.28,391.0 L599.52,396.9 L599.76,397.9 L600.00,393.3 L600.24,391.0 L600.48,396.6 L600.72,398.3 L600.96,398.6 L601.20,397.8 L601.47,396.4 L601.73,395.1 L602.00,395.2 L602.27,394.7 L602.53,392.5 L602.80,392.0 L603.03,392.8 L603.27,389.9 L603.50,387.9 L603.73,387.9 L603.97,388.2 L604.20,387.0 L604.44,390.5 L604.68,391.9 L604.92,392.4 L605.16,393.9 L605.40,397.8 L605.67,397.5 L605.93,397.8 L606.20,396.8 L606.47,397.1 L606.73,396.9 L607.00,396.0 L607.23,396.8 L607.47,395.3 L607.70,394.8 L607.93,396.2 L608.17,395.4 L608.40,395.4 L608.67,393.5 L608.93,396.2 L609.20,390.9 L609.47,388.3 L609.73,387.6 L610.00,388.0 L610.24,390.4 L610.48,387.5 L610.72,388.5 L610.96,387.2 L611.20,387.2 L611.44,390.3 L611.68,389.1 L611.92,390.1 L612.16,390.8 L612.40,390.4 L612.67,384.8 L612.93,382.0 L613.20,380.0 L613.44,387.7 L613.68,387.4 L613.92,385.7 L614.16,402.0 L614.40,401.2 L614.65,402.0 L614.90,393.7 L615.15,387.2 L615.40,384.4 L615.66,381.2 L615.91,385.2 L616.17,381.2 L616.43,381.2 L616.69,382.2 L616.94,383.0 L617.20,382.0 L617.50,372.4 L617.80,364.0 L618.07,362.9 L618.33,359.4 L618.60,356.8 L618.85,356.0 L619.10,363.2 L619.35,360.1 L619.60,365.0 L619.84,368.4 L620.08,366.4 L620.32,369.8 L620.56,372.0 L620.80,371.2 L621.04,370.1 L621.28,369.8 L621.52,370.3 L621.76,370.6 L622.00,370.0 L622.23,368.0 L622.47,365.2 L622.70,361.9 L622.93,359.4 L623.17,359.0 L623.40,355.0 L623.67,358.2 L623.93,359.8 L624.20,358.1 L624.47,363.2 L624.73,364.3 L625.00,366.4 L625.26,365.6 L625.51,368.4 L625.77,368.4 L626.03,368.4 L626.29,367.4 L626.54,365.9 L626.80,367.6 L627.04,368.4 L627.29,366.3 L627.53,361.2 L627.78,360.0 L628.02,362.0 L628.27,365.0 L628.51,359.6 L628.76,357.5 L629.00,355.6 L629.23,358.0 L629.47,361.5 L629.70,362.7 L629.93,368.3 L630.17,368.3 L630.40,370.0 L630.60,375.1 L630.80,379.6 L631.03,379.2 L631.27,377.1 L631.50,373.2 L631.73,373.7 L631.97,373.0 L632.20,371.2 L632.44,370.7 L632.68,369.7 L632.92,370.1 L633.16,367.5 L633.40,368.4 L633.64,367.2 L633.88,365.6 L634.12,369.3 L634.36,368.8 L634.60,366.4 L634.86,366.1 L635.11,365.1 L635.37,360.6 L635.63,356.5 L635.89,358.3 L636.14,356.4 L636.40,355.0 L636.66,354.8 L636.91,360.0 L637.17,358.4 L637.43,362.8 L637.69,365.4 L637.94,369.4 L638.20,368.8 L638.46,370.2 L638.71,369.5 L638.97,368.0 L639.23,368.1 L639.49,372.0 L639.74,371.6 L640.00,371.2 L640.26,374.3 L640.51,370.5 L640.77,373.8 L641.03,370.6 L641.29,375.2 L641.54,375.0 L641.80,376.0 L642.06,376.5 L642.31,376.6 L642.57,380.1 L642.83,379.7 L643.09,382.7 L643.34,382.2 L643.60,383.2 L643.84,382.9 L644.08,377.2 L644.32,375.0 L644.56,368.9 L644.80,368.8 L645.03,368.8 L645.27,366.2 L645.50,364.3 L645.73,363.4 L645.97,361.2 L646.20,359.2 L646.47,361.0 L646.73,365.2 L647.00,363.7 L647.27,368.4 L647.53,369.2 L647.80,371.2 L648.04,372.2 L648.28,374.0 L648.52,370.5 L648.76,371.2 L649.00,372.8 L649.24,370.4 L649.48,370.4 L649.72,374.3 L649.96,374.4 L650.20,373.6 L650.46,372.8 L650.71,378.0 L650.97,378.0 L651.23,376.4 L651.49,378.0 L651.74,375.5 L652.00,377.2 L652.24,382.8 L652.48,376.4 L652.72,388.8 L652.96,388.8 L653.20,388.0 L653.47,392.3 L653.73,400.8 L654.00,400.0 L654.30,419.5 L654.60,428.6 L654.87,423.5 L655.13,426.9 L655.40,418.0 L655.63,418.8 L655.87,412.2 L656.10,418.8 L656.33,417.3 L656.57,417.7 L656.80,413.0 L657.07,416.3 L657.33,419.7 L657.60,420.0 L657.87,411.5 L658.13,410.8 L658.40,408.0 L658.67,406.7 L658.93,408.8 L659.20,401.6 L659.44,405.0 L659.68,409.1 L659.92,418.9 L660.16,422.9 L660.40,425.0 L660.64,430.9 L660.88,435.3 L661.12,441.5 L661.36,447.2 L661.60,449.0 L661.85,447.0 L662.10,443.2 L662.35,436.5 L662.60,436.0 L662.87,430.7 L663.13,428.7 L663.40,425.0 L663.65,419.2 L663.90,418.0 L664.15,411.7 L664.40,408.2 L664.63,414.1 L664.87,413.0 L665.10,417.7 L665.33,418.0 L665.57,421.9 L665.80,425.0 L666.06,425.3 L666.31,423.1 L666.57,420.7 L666.83,418.3 L667.09,425.4 L667.34,425.8 L667.60,419.0 L667.84,422.9 L668.08,426.3 L668.32,430.0 L668.56,440.7 L668.80,440.6 L669.04,441.8 L669.28,441.3 L669.52,442.2 L669.76,443.1 L670.00,444.0 L670.27,445.8 L670.53,445.4 L670.80,446.4 L671.07,447.3 L671.33,451.2 L671.60,450.8 L671.90,439.3 L672.20,431.0 L672.45,423.0 L672.70,423.6 L672.95,426.6 L673.20,424.6 L673.45,431.8 L673.70,430.4 L673.95,425.7 L674.20,423.8 L674.46,418.5 L674.71,424.6 L674.97,419.1 L675.23,415.8 L675.49,417.1 L675.74,415.8 L676.00,416.6 L676.24,417.4 L676.48,415.7 L676.72,410.6 L676.96,409.8 L677.20,410.6 L677.46,410.5 L677.71,407.7 L677.97,406.4 L678.23,403.5 L678.49,403.4 L678.74,402.8 L679.00,401.0 L679.24,401.4 L679.48,406.4 L679.72,407.6 L679.96,415.2 L680.20,416.6 L680.44,416.2 L680.68,421.7 L680.92,432.1 L681.16,432.8 L681.40,439.4 L681.66,438.5 L681.91,433.1 L682.17,429.1 L682.43,433.4 L682.69,430.7 L682.94,427.3 L683.20,427.4 L683.46,427.5 L683.71,425.9 L683.97,424.3 L684.23,422.3 L684.49,422.5 L684.74,421.4 L685.00,419.0 L685.26,418.2 L685.51,424.9 L685.77,423.8 L686.03,427.3 L686.29,430.1 L686.54,431.8 L686.80,431.0 L687.06,431.4 L687.31,430.2 L687.57,441.4 L687.83,439.6 L688.09,437.9 L688.34,440.8 L688.60,440.6 L688.86,442.5 L689.11,444.3 L689.37,441.1 L689.63,446.0 L689.89,446.9 L690.14,442.1 L690.40,447.8 L690.66,451.5 L690.91,452.7 L691.17,447.0 L691.43,454.1 L691.69,460.6 L691.94,457.5 L692.20,459.8 L692.44,456.3 L692.68,456.5 L692.92,454.2 L693.16,448.2 L693.40,449.0 L693.66,449.8 L693.91,449.8 L694.17,448.8 L694.43,448.6 L694.69,448.0 L694.94,447.2 L695.20,447.8 L695.44,450.2 L695.68,454.7 L695.92,459.4 L696.16,463.8 L696.40,467.0 L696.66,464.0 L696.91,458.9 L697.17,460.5 L697.43,461.4 L697.69,456.7 L697.94,450.6 L698.20,451.4 L698.47,452.1 L698.73,450.2 L699.00,446.6 L699.25,449.0 L699.50,458.3 L699.75,466.1 L700.00,470.6 L700.24,467.7 L700.48,463.5 L700.72,461.1 L700.96,458.9 L701.20,452.6 L701.50,465.1 L701.80,477.8 L702.06,475.8 L702.31,472.1 L702.57,468.4 L702.83,467.2 L703.09,462.5 L703.34,459.2 L703.60,457.4 L703.85,454.8 L704.10,454.2 L704.35,449.6 L704.60,449.0 L704.83,449.8 L705.07,452.8 L705.30,456.4 L705.53,457.4 L705.77,462.4 L706.00,464.6 L706.26,463.3 L706.51,462.6 L706.77,459.8 L707.03,457.1 L707.29,457.4 L707.54,456.8 L707.80,457.4 L708.07,453.6 L708.33,453.6 L708.60,458.2 L708.87,454.6 L709.13,458.2 L709.40,454.4 L709.60,463.6 L709.80,479.6 L710.10,487.8 L710.40,495.2 L710.67,482.2 L710.93,495.4 L711.20,480.8 L711.44,475.1 L711.68,473.6 L711.92,481.6 L712.16,472.6 L712.40,471.2 L712.60,483.8 L712.80,498.8 L713.03,497.2 L713.27,491.4 L713.50,492.0 L713.73,486.1 L713.97,478.8 L714.20,479.6 L714.46,481.2 L714.71,479.9 L714.97,482.1 L715.23,481.5 L715.49,481.6 L715.74,482.0 L716.00,483.2 L716.24,485.9 L716.48,488.4 L716.72,494.1 L716.96,495.1 L717.20,497.6 L717.44,497.4 L717.68,495.0 L717.92,490.3 L718.16,488.9 L718.40,488.0 L718.70,479.5 L719.00,471.8 L719.27,471.9 L719.53,471.0 L719.80,471.3 L720.07,471.0 L720.33,471.0 L720.60,471.8 L720.80,483.3 L721.00,488.0 L721.27,485.8 L721.53,484.0 L721.80,483.1 L722.07,480.8 L722.33,481.4 L722.60,479.6 L722.84,483.2 L723.08,487.7 L723.32,486.6 L723.56,494.8 L723.80,494.0 L724.04,496.6 L724.28,499.8 L724.52,504.2 L724.76,501.8 L725.00,505.4 L725.26,504.8 L725.51,503.0 L725.77,502.1 L726.03,499.9 L726.29,498.9 L726.54,494.8 L726.80,492.8 L727.06,492.9 L727.31,492.0 L727.57,496.8 L727.83,494.0 L728.09,497.2 L728.34,497.2 L728.60,496.4 L728.84,494.6 L729.08,492.2 L729.32,485.2 L729.56,487.4 L729.80,483.2 L730.04,486.6 L730.28,490.8 L730.52,496.9 L730.76,487.9 L731.00,496.4 L731.23,494.9 L731.47,494.3 L731.70,487.2 L731.93,492.9 L732.17,487.2 L732.40,488.0 L732.67,476.5 L732.93,475.5 L733.20,471.2 L733.47,475.8 L733.73,479.2 L734.00,485.6 L734.23,481.3 L734.47,480.1 L734.70,476.0 L734.93,475.8 L735.17,467.1 L735.40,462.2 L735.67,461.6 L735.93,468.7 L736.20,468.3 L736.47,472.9 L736.73,474.4 L737.00,478.4 L737.26,479.2 L737.51,479.2 L737.77,475.8 L738.03,477.1 L738.29,477.0 L738.54,476.9 L738.80,476.0 L739.04,480.1 L739.28,483.0 L739.52,485.7 L739.76,489.2 L740.00,494.0 L740.30,475.4 L740.60,458.0 L740.86,458.2 L741.11,463.5 L741.37,466.3 L741.63,469.3 L741.89,469.5 L742.14,469.8 L742.40,471.2 L742.65,470.2 L742.90,468.4 L743.15,467.9 L743.40,468.0 L743.67,478.0 L743.93,485.0 L744.20,491.6 L744.50,475.7 L744.80,461.6 L745.06,463.0 L745.31,464.3 L745.57,466.1 L745.83,464.3 L746.09,465.4 L746.34,468.6 L746.60,468.8 L746.86,470.9 L747.11,471.2 L747.37,471.7 L747.63,472.8 L747.89,473.2 L748.14,473.9 L748.40,476.0 L748.66,474.0 L748.91,474.0 L749.17,476.8 L749.43,476.8 L749.69,476.8 L749.94,476.8 L750.20,474.8 L750.44,475.5 L750.68,484.5 L750.92,480.3 L751.16,484.8 L751.40,485.6 L751.66,486.0 L751.91,485.5 L752.17,488.8 L752.43,488.8 L752.69,485.3 L752.94,484.8 L753.20,488.0 L753.50,498.2 L753.80,507.2 L754.06,507.2 L754.31,497.3 L754.57,492.9 L754.83,492.5 L755.09,492.3 L755.34,482.4 L755.60,483.2 L755.84,490.6 L756.08,495.3 L756.32,501.5 L756.56,511.4 L756.80,514.4 L757.06,511.6 L757.31,510.2 L757.57,508.1 L757.83,506.6 L758.09,505.3 L758.34,502.8 L758.60,500.0 L758.84,498.4 L759.08,494.9 L759.32,493.3 L759.56,493.7 L759.80,490.4 L760.06,489.8 L760.31,491.3 L760.57,497.9 L760.83,493.9 L761.09,499.2 L761.34,503.8 L761.60,504.8 L761.86,497.3 L762.11,500.1 L762.37,498.6 L762.63,494.8 L762.89,493.0 L763.14,488.7 L763.40,488.0 L763.64,489.8 L763.88,491.2 L764.12,489.6 L764.36,491.2 L764.60,488.6 L764.84,488.6 L765.08,487.3 L765.32,488.8 L765.56,490.1 L765.80,490.4 L766.04,491.2 L766.28,490.7 L766.52,490.5 L766.76,488.2 L767.00,489.0 L767.24,489.1 L767.48,491.9 L767.72,499.2 L767.96,499.1 L768.20,500.0 L768.44,498.3 L768.68,499.6 L768.92,497.7 L769.16,495.8 L769.40,497.3 L769.64,500.3 L769.88,495.8 L770.12,498.2 L770.36,498.5 L770.60,496.4 L770.84,500.2 L771.08,500.6 L771.32,498.7 L771.56,501.7 L771.80,502.4 L772.06,502.9 L772.31,499.7 L772.57,498.7 L772.83,501.3 L773.09,500.3 L773.34,500.1 L773.60,498.8 L773.83,498.1 L774.07,493.8 L774.30,491.6 L774.53,489.2 L774.77,488.7 L775.00,486.8 L775.25,491.4 L775.50,494.1 L775.75,495.7 L776.00,502.4 L776.26,504.6 L776.51,506.4 L776.77,506.8 L777.03,509.4 L777.29,507.7 L777.54,509.7 L777.80,510.8 L778.06,511.6 L778.31,507.7 L778.57,504.1 L778.83,506.2 L779.09,503.6 L779.34,502.1 L779.60,501.2 L779.84,499.2 L780.08,502.0 L780.32,502.0 L780.56,500.4 L780.80,499.2 L781.04,499.2 L781.28,501.8 L781.52,502.0 L781.76,502.0 L782.00,500.0 L782.26,500.8 L782.51,500.1 L782.77,496.6 L783.03,494.9 L783.29,497.6 L783.54,496.5 L783.80,492.8 L784.06,485.1 L784.31,493.6 L784.57,491.7 L784.83,490.8 L785.09,486.1 L785.34,487.5 L785.60,485.6 L785.86,486.4 L786.11,484.8 L786.37,479.9 L786.63,481.2 L786.89,480.1 L787.14,480.7 L787.40,477.8 L787.66,477.0 L787.91,478.2 L788.17,479.2 L788.43,477.0 L788.69,479.2 L788.94,478.7 L789.20,478.4 L789.46,477.7 L789.71,477.9 L789.97,476.2 L790.23,477.0 L790.49,477.1 L790.74,477.0 L791.00,476.5 L791.24,479.5 L791.48,478.4 L791.72,482.7 L791.96,480.0 L792.20,483.2 L792.46,482.4 L792.71,484.6 L792.97,486.8 L793.23,482.4 L793.49,482.4 L793.74,485.5 L794.00,486.0 L794.23,479.2 L794.47,479.5 L794.70,479.6 L794.93,480.1 L795.17,476.2 L795.40,477.0 L795.60,495.1 L795.80,507.5 L796.07,500.6 L796.33,505.3 L796.60,501.0 L796.87,503.4 L797.13,500.4 L797.40,498.2 L797.64,499.0 L797.88,492.3 L798.12,494.5 L798.36,489.7 L798.60,487.6 L798.84,492.0 L799.09,494.8 L799.33,497.6 L799.57,498.6 L799.81,503.8 L800.06,505.5 L800.30,508.4 L800.56,504.4 L800.82,502.9 L801.08,501.3 L801.34,500.6 L801.60,494.4 L801.85,495.2 L802.10,491.8 L802.35,489.6 L802.60,489.2 L802.85,493.1 L803.10,492.9 L803.35,492.6 L803.60,490.0 L803.85,489.0 L804.10,484.9 L804.35,489.7 L804.60,483.9 L804.85,484.5 L805.10,484.4 L805.35,483.0 L805.60,481.6 L805.87,486.9 L806.13,491.4 L806.40,495.8 L806.64,492.9 L806.88,494.8 L807.12,489.6 L807.36,487.1 L807.60,486.0 L807.84,486.4 L808.08,484.5 L808.32,483.3 L808.56,480.5 L808.80,479.2 L809.07,481.1 L809.33,478.4 L809.60,481.3 L809.87,479.7 L810.13,481.4 L810.40,485.3 L810.66,481.3 L810.91,484.5 L811.17,482.1 L811.43,479.9 L811.69,481.4 L811.94,479.6 L812.20,479.3 L812.47,477.9 L812.73,477.1 L813.00,473.9 L813.27,473.3 L813.53,472.5 L813.80,469.6 L814.07,471.5 L814.33,472.8 L814.60,474.6 L814.87,478.1 L815.13,481.4 L815.40,482.6 L815.63,481.8 L815.87,483.5 L816.10,483.9 L816.33,487.4 L816.57,486.4 L816.80,488.0 L817.07,483.0 L817.33,486.1 L817.60,479.4 L817.87,482.2 L818.13,478.1 L818.40,475.4 L818.64,480.1 L818.88,482.0 L819.12,490.1 L819.36,490.1 L819.60,493.4 L819.86,492.3 L820.11,493.4 L820.37,490.9 L820.63,485.9 L820.89,483.3 L821.14,486.9 L821.40,483.8 L821.65,485.1 L821.90,488.2 L822.15,489.8 L822.40,492.9 L822.65,493.5 L822.90,494.4 L823.15,498.9 L823.40,501.2 L823.67,499.0 L823.93,493.4 L824.20,492.8 L824.47,488.5 L824.73,489.9 L825.00,483.8 L825.26,484.6 L825.51,483.0 L825.77,483.0 L826.03,483.0 L826.29,483.4 L826.54,485.8 L826.80,485.0 L827.07,482.4 L827.33,480.0 L827.60,475.1 L827.87,471.3 L828.13,468.5 L828.40,465.8 L828.63,470.6 L828.87,471.8 L829.10,476.9 L829.33,478.4 L829.57,481.2 L829.80,485.0 L830.07,486.0 L830.33,489.4 L830.60,490.9 L830.87,491.1 L831.13,495.3 L831.40,496.4 L831.63,494.4 L831.87,493.8 L832.10,490.1 L832.33,485.0 L832.57,483.5 L832.80,481.4 L833.07,481.0 L833.33,478.5 L833.60,473.0 L833.87,475.5 L834.13,474.9 L834.40,482.6 L834.67,478.8 L834.93,480.9 L835.20,485.0 L835.44,483.3 L835.68,479.8 L835.92,475.2 L836.16,474.5 L836.40,470.0 L836.64,469.2 L836.89,470.8 L837.13,469.2 L837.38,470.8 L837.62,470.1 L837.87,470.8 L838.11,469.2 L838.36,469.5 L838.60,470.0 L838.90,494.6 L839.17,493.8 L839.45,495.4 L839.73,493.8 L840.00,500.6 L840.24,501.4 L840.48,501.4 L840.72,497.4 L840.96,500.8 L841.20,497.4 L841.44,497.4 L841.68,498.0 L841.92,499.0 L842.16,497.6 L842.40,498.2 L842.64,499.4 L842.88,505.9 L843.12,499.8 L843.36,506.2 L843.60,505.4 L843.87,509.0 L844.13,509.5 L844.40,513.1 L844.67,516.1 L844.93,516.2 L845.20,519.2 L845.43,518.8 L845.67,514.6 L845.90,513.2 L846.13,506.6 L846.37,505.3 L846.60,503.0 L846.84,503.8 L847.08,497.2 L847.32,497.2 L847.56,503.1 L847.80,501.0 L848.04,503.1 L848.28,495.0 L848.52,495.0 L848.76,495.6 L849.00,495.8 L849.26,496.6 L849.52,493.4 L849.78,495.8 L850.04,493.7 L850.30,494.5 L850.56,492.5 L850.82,493.2 L851.08,492.6 L851.34,492.4 L851.60,492.2 L851.90,499.5 L852.20,503.0 L852.44,503.7 L852.69,503.8 L852.93,502.6 L853.18,501.8 L853.42,502.1 L853.67,500.7 L853.91,497.4 L854.16,497.4 L854.40,498.2 L854.64,499.5 L854.88,497.4 L855.12,497.6 L855.36,502.4 L855.60,501.8 L855.84,502.4 L856.08,503.8 L856.32,507.3 L856.56,507.2 L856.80,506.6 L857.06,504.1 L857.31,504.5 L857.57,505.4 L857.83,501.6 L858.09,503.8 L858.34,503.6 L858.60,500.6 L858.90,511.9 L859.20,512.6 L859.44,507.9 L859.68,508.1 L859.92,500.4 L860.16,499.9 L860.40,493.4 L860.64,499.4 L860.88,513.2 L861.12,499.9 L861.36,511.9 L861.60,515.0 L861.84,523.0 L862.08,514.2 L862.32,522.7 L862.56,521.4 L862.80,522.2 L863.04,521.4 L863.28,532.0 L863.52,525.9 L863.76,530.3 L864.00,531.8 L864.27,540.2 L864.53,531.0 L864.80,537.9 L865.07,537.8 L865.33,539.2 L865.60,542.0 L865.85,539.6 L866.10,540.1 L866.35,540.3 L866.60,538.1 L866.85,538.6 L867.10,535.7 L867.35,534.3 L867.60,533.0 L867.84,529.7 L868.08,529.3 L868.32,528.2 L868.56,531.0 L868.80,528.2" fill="none" stroke="#0d355a" stroke-width="1.2" stroke-linejoin="miter" stroke-miterlimit="3.0"/>
<path d="M495.20,411.8 L495.70,416.4 L496.20,410.2 L496.70,411.4 L497.20,404.4 L497.71,406.8 L498.23,401.0 L498.74,406.2 L499.26,396.9 L499.77,398.1 L500.29,391.1 L500.80,393.8 L501.28,389.0 L501.76,390.1 L502.26,381.9 L502.77,383.0 L503.29,376.1 L503.80,375.4 L504.27,366.4 L504.73,368.2 L505.20,364.5 L505.70,374.4 L506.20,373.3 L506.68,381.4 L507.16,380.9 L507.64,387.3 L508.12,381.5 L508.60,389.9 L509.13,392.6 L509.65,402.6 L510.15,402.3 L510.65,411.9 L511.15,400.3 L511.65,396.7 L512.15,382.9 L512.63,392.1 L513.10,384.3 L513.57,391.4 L514.07,388.1 L514.60,391.2 L515.13,385.4 L515.64,391.9 L516.12,382.7 L516.60,387.7 L517.08,383.1 L517.56,388.3 L518.07,379.6 L518.60,384.8 L519.13,378.8 L519.63,382.8 L520.10,377.2 L520.57,386.4 L521.06,382.2 L521.57,384.6 L522.09,378.1 L522.60,385.0 L523.11,381.1 L523.63,391.0 L524.14,386.7 L524.64,394.7 L525.12,387.8 L525.60,392.6 L526.08,382.2 L526.56,391.6 L527.04,390.4 L527.52,399.1 L528.00,401.6 L528.60,410.7 L529.13,408.8 L529.65,414.2 L530.15,405.5 L530.65,413.7 L531.15,410.0 L531.64,418.1 L532.12,415.1 L532.60,414.2 L533.13,403.2 L533.67,403.6 L534.20,400.3 L534.70,410.0 L535.20,405.1 L535.73,414.0 L536.25,403.5 L536.75,405.4 L537.26,399.6 L537.77,405.7 L538.29,402.4 L538.80,409.5 L539.31,401.3 L539.83,406.0 L540.34,398.1 L540.86,400.2 L541.37,398.1 L541.89,403.2 L542.40,401.4 L542.88,410.4 L543.36,405.2 L543.84,406.0 L544.32,395.6 L544.80,394.2 L545.28,385.1 L545.76,389.5 L546.23,383.9 L546.70,384.4 L547.17,379.6 L547.67,382.3 L548.20,378.6 L548.73,387.6 L549.26,383.9 L549.77,389.0 L550.29,387.5 L550.80,395.4 L551.28,385.2 L551.76,389.8 L552.23,385.4 L552.70,388.8 L553.17,380.3 L553.67,386.0 L554.20,384.1 L554.73,392.8 L555.23,389.4 L555.70,402.0 L556.17,401.2 L556.67,404.3 L557.20,395.1 L557.73,396.1 L558.24,388.6 L558.72,388.7 L559.20,384.7 L559.68,388.9 L560.16,382.7 L560.64,388.0 L561.12,383.2 L561.60,386.5 L562.08,379.5 L562.56,382.7 L563.04,379.2 L563.52,383.7 L564.00,383.7 L564.51,392.0 L565.03,387.9 L565.54,400.1 L566.10,397.8 L566.66,403.0 L567.17,398.3 L567.69,396.7 L568.20,389.9 L568.68,395.7 L569.16,391.1 L569.65,402.6 L570.15,399.5 L570.67,408.3 L571.20,404.3 L571.71,408.3 L572.23,399.9 L572.74,402.4 L573.25,397.5 L573.75,404.8 L574.27,402.6 L574.80,410.7 L575.28,399.9 L575.76,399.0 L576.24,390.5 L576.72,393.6 L577.20,387.9 L577.68,392.9 L578.16,390.5 L578.66,400.3 L579.17,394.0 L579.69,399.8 L580.20,396.3 L580.71,400.3 L581.23,391.2 L581.74,395.3 L582.24,390.5 L582.72,394.5 L583.20,390.5 L583.68,394.5 L584.16,392.9 L584.64,399.2 L585.12,393.7 L585.60,403.2 L586.08,398.1 L586.56,405.0 L587.07,399.4 L587.60,405.7 L588.13,400.8 L588.63,403.9 L589.10,397.3 L589.57,398.3 L590.06,393.4 L590.57,400.6 L591.09,399.5 L591.60,404.5 L592.08,400.5 L592.56,404.1 L593.04,398.7 L593.52,401.0 L594.00,397.5 L594.48,408.0 L594.96,400.7 L595.44,410.2 L595.92,403.3 L596.40,408.2 L596.88,401.4 L597.36,404.8 L597.84,396.1 L598.32,400.6 L598.80,391.1 L599.28,395.9 L599.76,392.8 L600.24,399.6 L600.72,392.3 L601.20,399.3 L601.73,391.9 L602.27,397.5 L602.80,390.3 L603.27,391.6 L603.73,387.0 L604.20,391.5 L604.68,387.6 L605.16,397.9 L605.67,393.2 L606.20,401.0 L606.73,393.6 L607.23,398.1 L607.70,391.6 L608.17,396.8 L608.67,390.2 L609.20,393.1 L609.73,386.6 L610.24,390.0 L610.72,384.4 L611.20,390.6 L611.68,387.3 L612.16,391.8 L612.67,382.6 L613.20,387.5 L613.68,383.7 L614.16,396.5 L614.65,392.0 L615.15,393.2 L615.66,383.2 L616.17,385.8 L616.69,379.4 L617.20,376.9 L617.80,367.4 L618.33,364.6 L618.85,357.2 L619.35,365.3 L619.84,363.8 L620.32,369.9 L620.80,368.9 L621.28,373.0 L621.76,365.3 L622.23,369.4 L622.70,361.3 L623.17,361.6 L623.67,355.9 L624.20,363.1 L624.73,362.2 L625.26,367.3 L625.77,364.8 L626.29,370.3 L626.80,363.3 L627.29,368.6 L627.78,359.8 L628.27,361.4 L628.76,357.2 L629.23,363.7 L629.70,363.8 L630.17,372.4 L630.80,370.3 L631.27,376.9 L631.73,370.5 L632.20,373.1 L632.68,368.6 L633.16,371.2 L633.64,362.9 L634.12,370.5 L634.60,360.1 L635.11,364.3 L635.63,357.3 L636.14,360.4 L636.66,354.1 L637.17,363.6 L637.69,363.3 L638.20,369.2 L638.71,366.8 L639.23,373.0 L639.74,369.1 L640.26,374.0 L640.77,370.7 L641.29,376.5 L641.80,373.2 L642.31,381.8 L642.83,378.0 L643.34,384.6 L643.84,375.4 L644.32,378.7 L644.80,365.9 L645.27,367.7 L645.73,359.5 L646.20,363.7 L646.73,361.4 L647.27,369.8 L647.80,368.8 L648.28,374.1 L648.76,369.4 L649.24,374.4 L649.72,369.6 L650.20,376.0 L650.71,372.5 L651.23,377.8 L651.74,375.4 L652.24,382.0 L652.72,383.4 L653.20,394.6 L653.73,398.9 L654.30,416.4 L654.87,416.8 L655.40,423.7 L655.87,413.5 L656.33,419.0 L656.80,414.8 L657.33,416.6 L657.87,408.6 L658.40,411.2 L658.93,404.6 L659.44,412.1 L659.92,413.3 L660.40,429.3 L660.88,433.5 L661.36,444.0 L661.85,440.2 L662.35,439.7 L662.87,427.6 L663.40,428.1 L663.90,416.2 L664.40,416.9 L664.87,411.2 L665.33,423.0 L665.80,420.2 L666.31,426.3 L666.83,420.5 L667.34,425.8 L667.84,423.3 L668.32,433.9 L668.80,434.3 L669.28,444.7 L669.76,439.4 L670.27,446.1 L670.80,446.4 L671.33,447.0 L671.90,433.8 L672.45,433.5 L672.95,421.1 L673.45,429.5 L673.95,422.3 L674.46,426.6 L674.97,418.2 L675.49,418.9 L676.00,411.6 L676.48,416.3 L676.96,409.4 L677.46,409.9 L677.97,403.8 L678.49,407.9 L679.00,399.8 L679.48,409.6 L679.96,410.4 L680.44,421.8 L680.92,425.4 L681.40,436.2 L681.91,432.5 L682.43,433.2 L682.94,424.6 L683.46,429.7 L683.97,420.8 L684.49,423.3 L685.00,419.8 L685.51,427.7 L686.03,425.5 L686.54,433.6 L687.06,431.1 L687.57,437.3 L688.09,434.8 L688.60,442.7 L689.11,439.8 L689.63,450.9 L690.14,445.7 L690.66,451.4 L691.17,448.9 L691.69,458.9 L692.20,451.9 L692.68,457.8 L693.16,448.9 L693.66,450.6 L694.17,442.7 L694.69,451.6 L695.20,449.4 L695.68,458.4 L696.16,457.4 L696.66,464.0 L697.17,456.5 L697.69,459.4 L698.20,450.0 L698.73,454.5 L699.25,452.4 L699.75,463.5 L700.24,462.0 L700.72,464.4 L701.20,463.9 L701.80,470.0 L702.31,467.9 L702.83,469.0 L703.34,456.5 L703.85,457.0 L704.35,448.7 L704.83,453.7 L705.30,453.5 L705.77,464.0 L706.26,458.3 L706.77,463.5 L707.29,454.8 L707.80,457.7 L708.33,454.6 L708.87,460.2 L709.40,461.1 L710.10,481.1 L710.67,482.1 L711.20,485.2 L711.68,476.3 L712.16,483.2 L712.80,484.8 L713.27,489.0 L713.73,483.1 L714.20,485.7 L714.71,475.3 L715.23,485.0 L715.74,480.6 L716.24,489.9 L716.72,490.4 L717.20,500.0 L717.68,492.1 L718.16,491.3 L718.70,476.2 L719.27,475.9 L719.80,469.7 L720.33,477.3 L720.80,475.3 L721.27,487.2 L721.80,481.4 L722.33,484.0 L722.84,483.9 L723.32,491.5 L723.80,492.8 L724.28,502.3 L724.76,500.2 L725.26,506.8 L725.77,498.1 L726.29,501.4 L726.80,491.5 L727.31,498.3 L727.83,491.3 L728.34,496.7 L728.84,489.8 L729.32,491.7 L729.80,483.1 L730.28,491.5 L730.76,489.3 L731.23,496.9 L731.70,487.8 L732.17,489.6 L732.67,477.6 L733.20,482.9 L733.73,477.6 L734.23,480.7 L734.70,472.7 L735.17,476.5 L735.67,465.8 L736.20,472.4 L736.73,471.6 L737.26,478.6 L737.77,474.4 L738.29,480.6 L738.80,475.1 L739.28,486.0 L739.76,478.6 L740.30,475.8 L740.86,465.3 L741.37,466.1 L741.89,467.0 L742.40,472.5 L742.90,467.9 L743.40,479.6 L743.93,472.8 L744.50,476.6 L745.06,465.4 L745.57,467.0 L746.09,464.4 L746.60,471.3 L747.11,468.0 L747.63,474.4 L748.14,471.7 L748.66,477.8 L749.17,473.7 L749.69,479.4 L750.20,474.7 L750.68,483.1 L751.16,481.8 L751.66,489.4 L752.17,485.3 L752.69,490.4 L753.20,490.2 L753.80,499.8 L754.31,494.5 L754.83,494.6 L755.34,487.0 L755.84,496.6 L756.32,499.0 L756.80,511.5 L757.31,507.7 L757.83,510.0 L758.34,496.7 L758.84,502.0 L759.32,492.0 L759.80,494.9 L760.31,489.8 L760.83,498.8 L761.34,497.9 L761.86,504.0 L762.37,494.1 L762.89,498.1 L763.40,488.0 L763.88,491.7 L764.36,485.6 L764.84,492.3 L765.32,486.4 L765.80,491.4 L766.28,487.3 L766.76,492.4 L767.24,490.5 L767.72,497.9 L768.20,493.9 L768.68,501.7 L769.16,495.5 L769.64,499.1 L770.12,494.6 L770.60,500.3 L771.08,497.4 L771.56,502.6 L772.06,498.0 L772.57,501.9 L773.09,496.9 L773.60,498.7 L774.07,490.7 L774.53,493.6 L775.00,489.3 L775.50,497.9 L776.00,497.6 L776.51,507.0 L777.03,504.8 L777.54,512.3 L778.06,507.4 L778.57,509.6 L779.09,501.7 L779.60,503.5 L780.08,496.9 L780.56,502.1 L781.04,499.8 L781.52,501.9 L782.00,496.3 L782.51,502.4 L783.03,495.7 L783.54,496.2 L784.06,487.6 L784.57,492.4 L785.09,487.8 L785.60,489.4 L786.11,482.5 L786.63,483.8 L787.14,477.2 L787.66,482.3 L788.17,474.2 L788.69,479.5 L789.20,474.0 L789.71,479.6 L790.23,473.5 L790.74,479.7 L791.24,475.0 L791.72,482.9 L792.20,479.1 L792.71,484.7 L793.23,481.2 L793.74,484.3 L794.23,479.4 L794.70,485.4 L795.17,484.8 L795.80,495.4 L796.33,497.8 L796.87,502.4 L797.40,496.4 L797.88,496.0 L798.36,491.4 L798.84,495.0 L799.33,493.1 L799.81,505.2 L800.30,502.6 L800.82,503.4 L801.34,492.2 L801.85,498.7 L802.35,488.7 L802.85,493.3 L803.35,489.4 L803.85,491.9 L804.35,483.8 L804.85,488.2 L805.35,482.7 L805.87,491.4 L806.40,488.0 L806.88,497.2 L807.36,483.3 L807.84,487.6 L808.32,480.4 L808.80,484.7 L809.33,474.4 L809.87,485.0 L810.40,480.1 L810.91,484.9 L811.43,477.1 L811.94,481.2 L812.47,474.6 L813.00,477.4 L813.53,468.9 L814.07,474.6 L814.60,472.8 L815.13,480.1 L815.63,481.1 L816.10,489.0 L816.57,481.8 L817.07,487.7 L817.60,478.1 L818.13,483.4 L818.64,481.1 L819.12,487.7 L819.60,486.3 L820.11,490.8 L820.63,485.9 L821.14,490.3 L821.65,485.4 L822.15,492.3 L822.65,488.1 L823.15,501.2 L823.67,494.5 L824.20,496.5 L824.73,485.1 L825.26,486.7 L825.77,480.8 L826.29,486.0 L826.80,479.8 L827.33,480.7 L827.87,471.8 L828.40,473.3 L828.87,470.3 L829.33,482.1 L829.80,481.0 L830.33,491.1 L830.87,490.9 L831.40,496.4 L831.87,487.5 L832.33,488.4 L832.80,479.8 L833.33,480.7 L833.87,474.6 L834.40,479.9 L834.93,478.8 L835.44,482.2 L835.92,473.9 L836.40,477.5 L836.89,468.3 L837.38,473.7 L837.87,468.7 L838.36,479.2 L838.90,482.9 L839.45,495.4 L840.00,494.8 L840.48,501.6 L840.96,497.6 L841.44,501.9 L841.92,492.0 L842.40,503.4 L842.88,499.1 L843.36,509.0 L843.87,506.7 L844.40,516.1 L844.93,513.1 L845.43,517.2 L845.90,508.9 L846.37,510.0 L846.84,499.3 L847.32,504.6 L847.80,494.6 L848.28,502.4 L848.76,494.9 L849.26,497.5 L849.78,492.7 L850.30,500.3 L850.82,486.7 L851.34,498.2 L851.90,494.1 L852.44,502.1 L852.93,498.6 L853.42,504.9 L853.91,496.3 L854.40,501.0 L854.88,496.0 L855.36,503.8 L855.84,499.7 L856.32,505.7 L856.80,504.1 L857.31,506.9 L857.83,501.1 L858.34,510.9 L858.90,503.4 L859.44,507.6 L859.92,499.0 L860.40,505.3 L860.88,500.9 L861.36,511.9 L861.84,512.9 L862.32,521.3 L862.80,521.0 L863.28,527.5 L863.76,528.1 L864.27,536.0 L864.80,535.2 L865.33,540.6 L865.85,538.5 L866.35,540.5 L866.85,535.3 L867.35,537.0 L867.84,530.3 L868.32,533.8 L868.80,527.3" fill="none" stroke="#0d355a" stroke-width="0.9" stroke-linejoin="miter" stroke-miterlimit="4.0"/>
<line x1="326.6" y1="264.6" x2="286.6" y2="244.8" stroke="#000" stroke-width="1.55"/>
<polygon points="279.8,241.4 289.3,241.6 285.7,248.8" fill="#000"/>
<line x1="358.4" y1="335.6" x2="344.0" y2="422.1" stroke="#000" stroke-width="1.55"/>
<polygon points="342.8,429.6 340.3,420.5 348.2,421.8" fill="#000"/>
<line x1="704.6" y1="312.0" x2="668.9" y2="376.0" stroke="#000" stroke-width="1.55"/>
<polygon points="665.2,382.6 665.9,373.1 672.9,377.0" fill="#000"/>
<line x1="649.8" y1="477.6" x2="681.6" y2="464.5" stroke="#000" stroke-width="1.55"/>
<polygon points="688.6,461.6 682.2,468.6 679.1,461.2" fill="#000"/>
<line x1="862.5" y1="422.3" x2="848.5" y2="469.9" stroke="#000" stroke-width="1.55"/>
<polygon points="846.4,477.2 845.0,467.8 852.7,470.1" fill="#000"/>
<line x1="815.0" y1="571.8" x2="847.5" y2="552.2" stroke="#000" stroke-width="1.55"/>
<polygon points="854.0,548.3 848.7,556.2 844.6,549.3" fill="#000"/>
</svg>
<div class="logo" id="logo">De Økonomiske Råd</div>
<svg width="30" height="30" viewBox="-15 -15 30 30" style="position:absolute;left:919.6px;top:671.9px">
<g transform="rotate(-10)">
<path transform="rotate(0)" d="M-5.79,-6.89 A9.00,9.00 0 0 1 5.79,-6.89 A7.60,7.60 0 0 1 -5.79,-6.89 Z" fill="#c30d1e"/>
<path transform="rotate(90)" d="M-5.79,-6.89 A9.00,9.00 0 0 1 5.79,-6.89 A7.60,7.60 0 0 1 -5.79,-6.89 Z" fill="#c30d1e"/>
<path transform="rotate(180)" d="M-5.79,-6.89 A9.00,9.00 0 0 1 5.79,-6.89 A7.60,7.60 0 0 1 -5.79,-6.89 Z" fill="#c30d1e"/>
<path transform="rotate(270)" d="M-5.79,-6.89 A9.00,9.00 0 0 1 5.79,-6.89 A7.60,7.60 0 0 1 -5.79,-6.89 Z" fill="#c30d1e"/>
</g></svg>
</body></html>
